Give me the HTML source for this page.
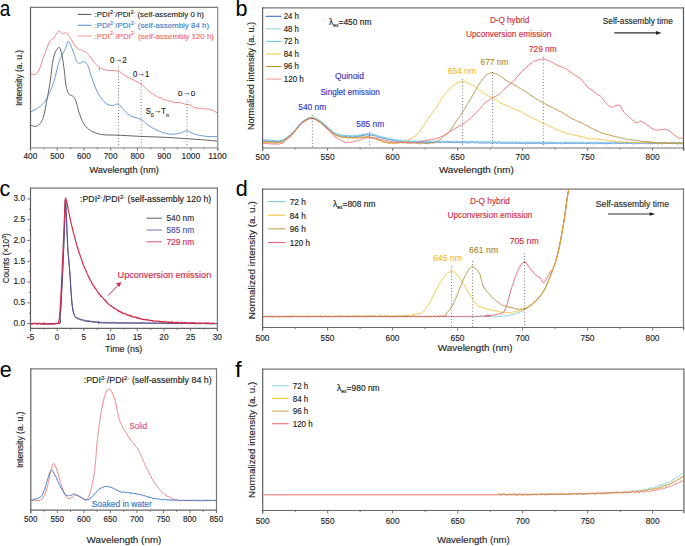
<!DOCTYPE html>
<html><head><meta charset="utf-8"><style>
html,body{margin:0;padding:0;background:#fff;}
svg{display:block;font-family:"Liberation Sans", sans-serif;}
</style></head><body>
<svg width="685" height="546" viewBox="0 0 685 546">
<rect x="0" y="0" width="685" height="546" fill="#fff"/>
<text transform="translate(-0.3 15.9) scale(0.88 1)" font-size="21.5" fill="#000">a</text>
<text x="235.60" y="15.60" font-size="21.5" fill="#000" text-anchor="start">b</text>
<text x="-0.40" y="196.20" font-size="21.5" fill="#000" text-anchor="start">c</text>
<text x="235.80" y="196.00" font-size="21.5" fill="#000" text-anchor="start">d</text>
<text x="-0.20" y="377.00" font-size="21.5" fill="#000" text-anchor="start">e</text>
<text transform="translate(234.9 376.6) scale(1.12 1)" font-size="21.5" fill="#000">f</text>
<line x1="30.50" y1="147.80" x2="217.70" y2="147.80" stroke="#b8b8b8" stroke-width="1.8"/>
<line x1="30.50" y1="7.45" x2="217.70" y2="7.45" stroke="#777" stroke-width="1.25"/>
<line x1="217.70" y1="6.85" x2="217.70" y2="150.50" stroke="#8a8a8a" stroke-width="1.2"/>
<line x1="30.50" y1="6.85" x2="30.50" y2="150.70" stroke="#5e5e5e" stroke-width="1.2"/>
<line x1="30.50" y1="147.70" x2="30.50" y2="150.70" stroke="#6a6a6a" stroke-width="0.9"/>
<text transform="translate(23.50 159.00) scale(0.9555 1) translate(0.00 0)" font-size="8.696" fill="#262626" stroke="#262626" stroke-width="0.15">400</text>
<line x1="57.24" y1="147.70" x2="57.24" y2="150.70" stroke="#6a6a6a" stroke-width="0.9"/>
<text transform="translate(50.24 159.00) scale(0.9555 1) translate(0.00 0)" font-size="8.696" fill="#262626" stroke="#262626" stroke-width="0.15">500</text>
<line x1="83.99" y1="147.70" x2="83.99" y2="150.70" stroke="#6a6a6a" stroke-width="0.9"/>
<text transform="translate(76.98 159.00) scale(0.9555 1) translate(0.00 0)" font-size="8.696" fill="#262626" stroke="#262626" stroke-width="0.15">600</text>
<line x1="110.73" y1="147.70" x2="110.73" y2="150.70" stroke="#6a6a6a" stroke-width="0.9"/>
<text transform="translate(103.72 159.00) scale(0.9555 1) translate(0.00 0)" font-size="8.696" fill="#262626" stroke="#262626" stroke-width="0.15">700</text>
<line x1="137.47" y1="147.70" x2="137.47" y2="150.70" stroke="#6a6a6a" stroke-width="0.9"/>
<text transform="translate(130.47 159.00) scale(0.9555 1) translate(0.00 0)" font-size="8.696" fill="#262626" stroke="#262626" stroke-width="0.15">800</text>
<line x1="164.21" y1="147.70" x2="164.21" y2="150.70" stroke="#6a6a6a" stroke-width="0.9"/>
<text transform="translate(157.21 159.00) scale(0.9555 1) translate(0.00 0)" font-size="8.696" fill="#262626" stroke="#262626" stroke-width="0.15">900</text>
<line x1="190.96" y1="147.70" x2="190.96" y2="150.70" stroke="#6a6a6a" stroke-width="0.9"/>
<text transform="translate(181.62 159.00) scale(0.9582 1) translate(0.00 0)" font-size="8.696" fill="#262626" stroke="#262626" stroke-width="0.15">1000</text>
<line x1="217.70" y1="147.70" x2="217.70" y2="150.70" stroke="#6a6a6a" stroke-width="0.9"/>
<text transform="translate(208.36 159.00) scale(0.9910 1) translate(0.00 0)" font-size="8.696" fill="#262626" stroke="#262626" stroke-width="0.15">1100</text>
<line x1="43.87" y1="147.70" x2="43.87" y2="149.30" stroke="#6a6a6a" stroke-width="0.9"/>
<line x1="70.61" y1="147.70" x2="70.61" y2="149.30" stroke="#6a6a6a" stroke-width="0.9"/>
<line x1="97.36" y1="147.70" x2="97.36" y2="149.30" stroke="#6a6a6a" stroke-width="0.9"/>
<line x1="124.10" y1="147.70" x2="124.10" y2="149.30" stroke="#6a6a6a" stroke-width="0.9"/>
<line x1="150.84" y1="147.70" x2="150.84" y2="149.30" stroke="#6a6a6a" stroke-width="0.9"/>
<line x1="177.59" y1="147.70" x2="177.59" y2="149.30" stroke="#6a6a6a" stroke-width="0.9"/>
<line x1="204.33" y1="147.70" x2="204.33" y2="149.30" stroke="#6a6a6a" stroke-width="0.9"/>
<text transform="translate(89.40 173.40) scale(1.0753 1) translate(0.00 0)" font-size="8.551" fill="#262626" stroke="#262626" stroke-width="0.15">Wavelength (nm)</text>
<text transform="translate(22.20 106.00) rotate(-90) scale(0.9950 1) translate(0.00 0)" font-size="8.551" fill="#262626" stroke="#262626" stroke-width="0.15">Intensity (a. u.)</text>
<line x1="262.60" y1="148.00" x2="683.50" y2="148.00" stroke="#b8b8b8" stroke-width="1.8"/>
<line x1="262.60" y1="7.90" x2="683.50" y2="7.90" stroke="#777" stroke-width="1.25"/>
<line x1="683.50" y1="7.30" x2="683.50" y2="150.70" stroke="#555" stroke-width="1.2"/>
<line x1="262.60" y1="7.30" x2="262.60" y2="150.90" stroke="#5e5e5e" stroke-width="1.2"/>
<line x1="262.60" y1="147.90" x2="262.60" y2="150.90" stroke="#6a6a6a" stroke-width="0.9"/>
<text transform="translate(255.60 159.90) scale(0.9454 1) translate(0.00 0)" font-size="8.841" fill="#262626" stroke="#262626" stroke-width="0.15">500</text>
<line x1="327.60" y1="147.90" x2="327.60" y2="150.90" stroke="#6a6a6a" stroke-width="0.9"/>
<text transform="translate(320.60 159.90) scale(0.9454 1) translate(0.00 0)" font-size="8.841" fill="#262626" stroke="#262626" stroke-width="0.15">550</text>
<line x1="392.60" y1="147.90" x2="392.60" y2="150.90" stroke="#6a6a6a" stroke-width="0.9"/>
<text transform="translate(385.60 159.90) scale(0.9454 1) translate(0.00 0)" font-size="8.841" fill="#262626" stroke="#262626" stroke-width="0.15">600</text>
<line x1="457.60" y1="147.90" x2="457.60" y2="150.90" stroke="#6a6a6a" stroke-width="0.9"/>
<text transform="translate(450.60 159.90) scale(0.9454 1) translate(0.00 0)" font-size="8.841" fill="#262626" stroke="#262626" stroke-width="0.15">650</text>
<line x1="522.60" y1="147.90" x2="522.60" y2="150.90" stroke="#6a6a6a" stroke-width="0.9"/>
<text transform="translate(515.60 159.90) scale(0.9454 1) translate(0.00 0)" font-size="8.841" fill="#262626" stroke="#262626" stroke-width="0.15">700</text>
<line x1="587.60" y1="147.90" x2="587.60" y2="150.90" stroke="#6a6a6a" stroke-width="0.9"/>
<text transform="translate(580.60 159.90) scale(0.9454 1) translate(0.00 0)" font-size="8.841" fill="#262626" stroke="#262626" stroke-width="0.15">750</text>
<line x1="652.60" y1="147.90" x2="652.60" y2="150.90" stroke="#6a6a6a" stroke-width="0.9"/>
<text transform="translate(645.60 159.90) scale(0.9454 1) translate(0.00 0)" font-size="8.841" fill="#262626" stroke="#262626" stroke-width="0.15">800</text>
<line x1="295.10" y1="147.90" x2="295.10" y2="149.50" stroke="#6a6a6a" stroke-width="0.9"/>
<line x1="360.10" y1="147.90" x2="360.10" y2="149.50" stroke="#6a6a6a" stroke-width="0.9"/>
<line x1="425.10" y1="147.90" x2="425.10" y2="149.50" stroke="#6a6a6a" stroke-width="0.9"/>
<line x1="490.10" y1="147.90" x2="490.10" y2="149.50" stroke="#6a6a6a" stroke-width="0.9"/>
<line x1="555.10" y1="147.90" x2="555.10" y2="149.50" stroke="#6a6a6a" stroke-width="0.9"/>
<line x1="620.10" y1="147.90" x2="620.10" y2="149.50" stroke="#6a6a6a" stroke-width="0.9"/>
<line x1="685.10" y1="147.90" x2="685.10" y2="149.50" stroke="#6a6a6a" stroke-width="0.9"/>
<text transform="translate(438.90 173.40) scale(1.0833 1) translate(0.00 0)" font-size="9.130" fill="#262626" stroke="#262626" stroke-width="0.15">Wavelength (nm)</text>
<text transform="translate(253.60 130.10) rotate(-90) scale(1.0481 1) translate(0.00 0)" font-size="8.696" fill="#262626" stroke="#262626" stroke-width="0.15">Normalized intensity (a. u.)</text>
<line x1="30.50" y1="328.30" x2="217.40" y2="328.30" stroke="#666" stroke-width="1.2"/>
<line x1="30.50" y1="188.20" x2="217.40" y2="188.20" stroke="#777" stroke-width="1.25"/>
<line x1="217.40" y1="187.60" x2="217.40" y2="331.10" stroke="#777" stroke-width="1.2"/>
<line x1="30.50" y1="187.60" x2="30.50" y2="331.30" stroke="#5e5e5e" stroke-width="1.2"/>
<line x1="30.50" y1="328.30" x2="30.50" y2="331.30" stroke="#6a6a6a" stroke-width="0.9"/>
<text transform="translate(26.66 339.80) scale(0.9660 1) translate(0.00 0)" font-size="8.841" fill="#262626" stroke="#262626" stroke-width="0.15">-5</text>
<line x1="57.20" y1="328.30" x2="57.20" y2="331.30" stroke="#6a6a6a" stroke-width="0.9"/>
<text transform="translate(54.87 339.80) scale(0.9340 1) translate(0.00 0)" font-size="8.841" fill="#262626" stroke="#262626" stroke-width="0.15">0</text>
<line x1="83.90" y1="328.30" x2="83.90" y2="331.30" stroke="#6a6a6a" stroke-width="0.9"/>
<text transform="translate(81.57 339.80) scale(0.9340 1) translate(0.00 0)" font-size="8.841" fill="#262626" stroke="#262626" stroke-width="0.15">5</text>
<line x1="110.60" y1="328.30" x2="110.60" y2="331.30" stroke="#6a6a6a" stroke-width="0.9"/>
<text transform="translate(105.93 339.80) scale(0.9425 1) translate(0.00 0)" font-size="8.841" fill="#262626" stroke="#262626" stroke-width="0.15">10</text>
<line x1="137.30" y1="328.30" x2="137.30" y2="331.30" stroke="#6a6a6a" stroke-width="0.9"/>
<text transform="translate(132.63 339.80) scale(0.9425 1) translate(0.00 0)" font-size="8.841" fill="#262626" stroke="#262626" stroke-width="0.15">15</text>
<line x1="164.00" y1="328.30" x2="164.00" y2="331.30" stroke="#6a6a6a" stroke-width="0.9"/>
<text transform="translate(159.33 339.80) scale(0.9425 1) translate(0.00 0)" font-size="8.841" fill="#262626" stroke="#262626" stroke-width="0.15">20</text>
<line x1="190.70" y1="328.30" x2="190.70" y2="331.30" stroke="#6a6a6a" stroke-width="0.9"/>
<text transform="translate(186.03 339.80) scale(0.9425 1) translate(0.00 0)" font-size="8.841" fill="#262626" stroke="#262626" stroke-width="0.15">25</text>
<line x1="217.40" y1="328.30" x2="217.40" y2="331.30" stroke="#6a6a6a" stroke-width="0.9"/>
<text transform="translate(212.73 339.80) scale(0.9425 1) translate(0.00 0)" font-size="8.841" fill="#262626" stroke="#262626" stroke-width="0.15">30</text>
<line x1="43.85" y1="328.30" x2="43.85" y2="329.90" stroke="#6a6a6a" stroke-width="0.9"/>
<line x1="70.55" y1="328.30" x2="70.55" y2="329.90" stroke="#6a6a6a" stroke-width="0.9"/>
<line x1="97.25" y1="328.30" x2="97.25" y2="329.90" stroke="#6a6a6a" stroke-width="0.9"/>
<line x1="123.95" y1="328.30" x2="123.95" y2="329.90" stroke="#6a6a6a" stroke-width="0.9"/>
<line x1="150.65" y1="328.30" x2="150.65" y2="329.90" stroke="#6a6a6a" stroke-width="0.9"/>
<line x1="177.35" y1="328.30" x2="177.35" y2="329.90" stroke="#6a6a6a" stroke-width="0.9"/>
<line x1="204.05" y1="328.30" x2="204.05" y2="329.90" stroke="#6a6a6a" stroke-width="0.9"/>
<line x1="27.20" y1="323.60" x2="30.50" y2="323.60" stroke="#666" stroke-width="0.9"/>
<text transform="translate(13.50 325.90) scale(0.9730 1) translate(0.00 0)" font-size="8.551" fill="#262626" stroke="#262626" stroke-width="0.15">0.0</text>
<line x1="29.00" y1="313.21" x2="30.50" y2="313.21" stroke="#666" stroke-width="0.9"/>
<line x1="27.20" y1="302.82" x2="30.50" y2="302.82" stroke="#666" stroke-width="0.9"/>
<text transform="translate(13.50 305.12) scale(0.9730 1) translate(0.00 0)" font-size="8.551" fill="#262626" stroke="#262626" stroke-width="0.15">0.5</text>
<line x1="29.00" y1="292.43" x2="30.50" y2="292.43" stroke="#666" stroke-width="0.9"/>
<line x1="27.20" y1="282.03" x2="30.50" y2="282.03" stroke="#666" stroke-width="0.9"/>
<text transform="translate(13.50 284.33) scale(0.9730 1) translate(0.00 0)" font-size="8.551" fill="#262626" stroke="#262626" stroke-width="0.15">1.0</text>
<line x1="29.00" y1="271.64" x2="30.50" y2="271.64" stroke="#666" stroke-width="0.9"/>
<line x1="27.20" y1="261.25" x2="30.50" y2="261.25" stroke="#666" stroke-width="0.9"/>
<text transform="translate(13.50 263.55) scale(0.9730 1) translate(0.00 0)" font-size="8.551" fill="#262626" stroke="#262626" stroke-width="0.15">1.5</text>
<line x1="29.00" y1="250.86" x2="30.50" y2="250.86" stroke="#666" stroke-width="0.9"/>
<line x1="27.20" y1="240.47" x2="30.50" y2="240.47" stroke="#666" stroke-width="0.9"/>
<text transform="translate(13.50 242.77) scale(0.9730 1) translate(0.00 0)" font-size="8.551" fill="#262626" stroke="#262626" stroke-width="0.15">2.0</text>
<line x1="29.00" y1="230.07" x2="30.50" y2="230.07" stroke="#666" stroke-width="0.9"/>
<line x1="27.20" y1="219.68" x2="30.50" y2="219.68" stroke="#666" stroke-width="0.9"/>
<text transform="translate(13.50 221.98) scale(0.9730 1) translate(0.00 0)" font-size="8.551" fill="#262626" stroke="#262626" stroke-width="0.15">2.5</text>
<line x1="29.00" y1="209.29" x2="30.50" y2="209.29" stroke="#666" stroke-width="0.9"/>
<line x1="27.20" y1="198.90" x2="30.50" y2="198.90" stroke="#666" stroke-width="0.9"/>
<text transform="translate(13.50 201.20) scale(0.9730 1) translate(0.00 0)" font-size="8.551" fill="#262626" stroke="#262626" stroke-width="0.15">3.0</text>
<text transform="translate(105.10 351.70) scale(0.9907 1) translate(0.00 0)" font-size="8.986" fill="#262626" stroke="#262626" stroke-width="0.15">Time (ns)</text>
<text transform="translate(9.00 283.30) rotate(-90) scale(0.9507 1) translate(0.00 0)" font-size="8.551" fill="#262626" stroke="#262626" stroke-width="0.15">Counts (×10<tspan font-size="65%" dy="-3">3</tspan><tspan dy="3">)</tspan></text>
<line x1="262.60" y1="327.50" x2="683.50" y2="327.50" stroke="#666" stroke-width="1.2"/>
<line x1="262.60" y1="189.10" x2="683.50" y2="189.10" stroke="#777" stroke-width="1.25"/>
<line x1="683.50" y1="188.50" x2="683.50" y2="330.30" stroke="#777" stroke-width="1.2"/>
<line x1="262.60" y1="188.50" x2="262.60" y2="330.50" stroke="#5e5e5e" stroke-width="1.2"/>
<line x1="262.60" y1="327.50" x2="262.60" y2="330.50" stroke="#6a6a6a" stroke-width="0.9"/>
<text transform="translate(255.60 341.20) scale(0.9555 1) translate(0.00 0)" font-size="8.696" fill="#262626" stroke="#262626" stroke-width="0.15">500</text>
<line x1="327.60" y1="327.50" x2="327.60" y2="330.50" stroke="#6a6a6a" stroke-width="0.9"/>
<text transform="translate(320.60 341.20) scale(0.9555 1) translate(0.00 0)" font-size="8.696" fill="#262626" stroke="#262626" stroke-width="0.15">550</text>
<line x1="392.60" y1="327.50" x2="392.60" y2="330.50" stroke="#6a6a6a" stroke-width="0.9"/>
<text transform="translate(385.60 341.20) scale(0.9555 1) translate(0.00 0)" font-size="8.696" fill="#262626" stroke="#262626" stroke-width="0.15">600</text>
<line x1="457.60" y1="327.50" x2="457.60" y2="330.50" stroke="#6a6a6a" stroke-width="0.9"/>
<text transform="translate(450.60 341.20) scale(0.9555 1) translate(0.00 0)" font-size="8.696" fill="#262626" stroke="#262626" stroke-width="0.15">650</text>
<line x1="522.60" y1="327.50" x2="522.60" y2="330.50" stroke="#6a6a6a" stroke-width="0.9"/>
<text transform="translate(515.60 341.20) scale(0.9555 1) translate(0.00 0)" font-size="8.696" fill="#262626" stroke="#262626" stroke-width="0.15">700</text>
<line x1="587.60" y1="327.50" x2="587.60" y2="330.50" stroke="#6a6a6a" stroke-width="0.9"/>
<text transform="translate(580.60 341.20) scale(0.9555 1) translate(0.00 0)" font-size="8.696" fill="#262626" stroke="#262626" stroke-width="0.15">750</text>
<line x1="652.60" y1="327.50" x2="652.60" y2="330.50" stroke="#6a6a6a" stroke-width="0.9"/>
<text transform="translate(645.60 341.20) scale(0.9555 1) translate(0.00 0)" font-size="8.696" fill="#262626" stroke="#262626" stroke-width="0.15">800</text>
<line x1="295.10" y1="327.50" x2="295.10" y2="329.10" stroke="#6a6a6a" stroke-width="0.9"/>
<line x1="360.10" y1="327.50" x2="360.10" y2="329.10" stroke="#6a6a6a" stroke-width="0.9"/>
<line x1="425.10" y1="327.50" x2="425.10" y2="329.10" stroke="#6a6a6a" stroke-width="0.9"/>
<line x1="490.10" y1="327.50" x2="490.10" y2="329.10" stroke="#6a6a6a" stroke-width="0.9"/>
<line x1="555.10" y1="327.50" x2="555.10" y2="329.10" stroke="#6a6a6a" stroke-width="0.9"/>
<line x1="620.10" y1="327.50" x2="620.10" y2="329.10" stroke="#6a6a6a" stroke-width="0.9"/>
<line x1="685.10" y1="327.50" x2="685.10" y2="329.10" stroke="#6a6a6a" stroke-width="0.9"/>
<text transform="translate(437.80 350.60) scale(1.0494 1) translate(0.00 0)" font-size="9.420" fill="#262626" stroke="#262626" stroke-width="0.15">Wavelength (nm)</text>
<text transform="translate(255.00 319.20) rotate(-90) scale(1.0375 1) translate(0.00 0)" font-size="9.565" fill="#262626" stroke="#262626" stroke-width="0.15">Normalized intensity (a. u.)</text>
<line x1="30.80" y1="510.20" x2="216.50" y2="510.20" stroke="#666" stroke-width="1.2"/>
<line x1="30.80" y1="368.80" x2="216.50" y2="368.80" stroke="#777" stroke-width="1.25"/>
<line x1="216.50" y1="368.20" x2="216.50" y2="513.00" stroke="#777" stroke-width="1.2"/>
<line x1="30.80" y1="368.20" x2="30.80" y2="513.20" stroke="#5e5e5e" stroke-width="1.2"/>
<line x1="30.80" y1="510.20" x2="30.80" y2="513.20" stroke="#6a6a6a" stroke-width="0.9"/>
<text transform="translate(23.90 521.90) scale(0.9513 1) translate(0.00 0)" font-size="8.551" fill="#262626" stroke="#262626" stroke-width="0.15">500</text>
<line x1="57.33" y1="510.20" x2="57.33" y2="513.20" stroke="#6a6a6a" stroke-width="0.9"/>
<text transform="translate(50.43 521.90) scale(0.9513 1) translate(0.00 0)" font-size="8.551" fill="#262626" stroke="#262626" stroke-width="0.15">550</text>
<line x1="83.86" y1="510.20" x2="83.86" y2="513.20" stroke="#6a6a6a" stroke-width="0.9"/>
<text transform="translate(76.96 521.90) scale(0.9513 1) translate(0.00 0)" font-size="8.551" fill="#262626" stroke="#262626" stroke-width="0.15">600</text>
<line x1="110.39" y1="510.20" x2="110.39" y2="513.20" stroke="#6a6a6a" stroke-width="0.9"/>
<text transform="translate(103.49 521.90) scale(0.9513 1) translate(0.00 0)" font-size="8.551" fill="#262626" stroke="#262626" stroke-width="0.15">650</text>
<line x1="136.91" y1="510.20" x2="136.91" y2="513.20" stroke="#6a6a6a" stroke-width="0.9"/>
<text transform="translate(130.01 521.90) scale(0.9513 1) translate(0.00 0)" font-size="8.551" fill="#262626" stroke="#262626" stroke-width="0.15">700</text>
<line x1="163.44" y1="510.20" x2="163.44" y2="513.20" stroke="#6a6a6a" stroke-width="0.9"/>
<text transform="translate(156.54 521.90) scale(0.9513 1) translate(0.00 0)" font-size="8.551" fill="#262626" stroke="#262626" stroke-width="0.15">750</text>
<line x1="189.97" y1="510.20" x2="189.97" y2="513.20" stroke="#6a6a6a" stroke-width="0.9"/>
<text transform="translate(183.07 521.90) scale(0.9513 1) translate(0.00 0)" font-size="8.551" fill="#262626" stroke="#262626" stroke-width="0.15">800</text>
<line x1="216.50" y1="510.20" x2="216.50" y2="513.20" stroke="#6a6a6a" stroke-width="0.9"/>
<text transform="translate(209.60 521.90) scale(0.9513 1) translate(0.00 0)" font-size="8.551" fill="#262626" stroke="#262626" stroke-width="0.15">850</text>
<line x1="44.06" y1="510.20" x2="44.06" y2="511.80" stroke="#6a6a6a" stroke-width="0.9"/>
<line x1="70.59" y1="510.20" x2="70.59" y2="511.80" stroke="#6a6a6a" stroke-width="0.9"/>
<line x1="97.12" y1="510.20" x2="97.12" y2="511.80" stroke="#6a6a6a" stroke-width="0.9"/>
<line x1="123.65" y1="510.20" x2="123.65" y2="511.80" stroke="#6a6a6a" stroke-width="0.9"/>
<line x1="150.18" y1="510.20" x2="150.18" y2="511.80" stroke="#6a6a6a" stroke-width="0.9"/>
<line x1="176.71" y1="510.20" x2="176.71" y2="511.80" stroke="#6a6a6a" stroke-width="0.9"/>
<line x1="203.24" y1="510.20" x2="203.24" y2="511.80" stroke="#6a6a6a" stroke-width="0.9"/>
<text transform="translate(86.60 542.60) scale(1.0833 1) translate(0.00 0)" font-size="9.130" fill="#262626" stroke="#262626" stroke-width="0.15">Wavelength (nm)</text>
<text transform="translate(23.00 468.00) rotate(-90) scale(0.9633 1) translate(0.00 0)" font-size="8.841" fill="#262626" stroke="#262626" stroke-width="0.15">Intensity (a. u.)</text>
<line x1="262.70" y1="510.50" x2="683.90" y2="510.50" stroke="#666" stroke-width="1.2"/>
<line x1="262.70" y1="369.20" x2="683.90" y2="369.20" stroke="#777" stroke-width="1.25"/>
<line x1="683.90" y1="368.60" x2="683.90" y2="513.30" stroke="#888" stroke-width="1.6"/>
<line x1="262.70" y1="368.60" x2="262.70" y2="513.50" stroke="#5e5e5e" stroke-width="1.2"/>
<line x1="262.70" y1="510.50" x2="262.70" y2="513.50" stroke="#6a6a6a" stroke-width="0.9"/>
<text transform="translate(255.69 524.40) scale(0.9555 1) translate(0.00 0)" font-size="8.696" fill="#262626" stroke="#262626" stroke-width="0.15">500</text>
<line x1="327.70" y1="510.50" x2="327.70" y2="513.50" stroke="#6a6a6a" stroke-width="0.9"/>
<text transform="translate(320.69 524.40) scale(0.9555 1) translate(0.00 0)" font-size="8.696" fill="#262626" stroke="#262626" stroke-width="0.15">550</text>
<line x1="392.70" y1="510.50" x2="392.70" y2="513.50" stroke="#6a6a6a" stroke-width="0.9"/>
<text transform="translate(385.69 524.40) scale(0.9555 1) translate(0.00 0)" font-size="8.696" fill="#262626" stroke="#262626" stroke-width="0.15">600</text>
<line x1="457.70" y1="510.50" x2="457.70" y2="513.50" stroke="#6a6a6a" stroke-width="0.9"/>
<text transform="translate(450.69 524.40) scale(0.9555 1) translate(0.00 0)" font-size="8.696" fill="#262626" stroke="#262626" stroke-width="0.15">650</text>
<line x1="522.70" y1="510.50" x2="522.70" y2="513.50" stroke="#6a6a6a" stroke-width="0.9"/>
<text transform="translate(515.70 524.40) scale(0.9555 1) translate(0.00 0)" font-size="8.696" fill="#262626" stroke="#262626" stroke-width="0.15">700</text>
<line x1="587.70" y1="510.50" x2="587.70" y2="513.50" stroke="#6a6a6a" stroke-width="0.9"/>
<text transform="translate(580.70 524.40) scale(0.9555 1) translate(0.00 0)" font-size="8.696" fill="#262626" stroke="#262626" stroke-width="0.15">750</text>
<line x1="652.70" y1="510.50" x2="652.70" y2="513.50" stroke="#6a6a6a" stroke-width="0.9"/>
<text transform="translate(645.70 524.40) scale(0.9555 1) translate(0.00 0)" font-size="8.696" fill="#262626" stroke="#262626" stroke-width="0.15">800</text>
<line x1="295.20" y1="510.50" x2="295.20" y2="512.10" stroke="#6a6a6a" stroke-width="0.9"/>
<line x1="360.20" y1="510.50" x2="360.20" y2="512.10" stroke="#6a6a6a" stroke-width="0.9"/>
<line x1="425.20" y1="510.50" x2="425.20" y2="512.10" stroke="#6a6a6a" stroke-width="0.9"/>
<line x1="490.20" y1="510.50" x2="490.20" y2="512.10" stroke="#6a6a6a" stroke-width="0.9"/>
<line x1="555.20" y1="510.50" x2="555.20" y2="512.10" stroke="#6a6a6a" stroke-width="0.9"/>
<line x1="620.20" y1="510.50" x2="620.20" y2="512.10" stroke="#6a6a6a" stroke-width="0.9"/>
<line x1="685.20" y1="510.50" x2="685.20" y2="512.10" stroke="#6a6a6a" stroke-width="0.9"/>
<text transform="translate(437.00 543.00) scale(1.0356 1) translate(0.00 0)" font-size="9.275" fill="#262626" stroke="#262626" stroke-width="0.15">Wavelength (nm)</text>
<text transform="translate(255.00 497.90) rotate(-90) scale(1.0216 1) translate(0.00 0)" font-size="9.565" fill="#262626" stroke="#262626" stroke-width="0.15">Normalized intensity (a. u.)</text>
<path d="M30.60 125.10 L30.95 125.22 L31.41 125.42 L31.96 125.65 L32.58 125.89 L33.22 126.11 L33.88 126.29 L34.51 126.40 L35.10 126.40 L35.66 126.33 L36.22 126.21 L36.78 126.04 L37.34 125.82 L37.89 125.53 L38.44 125.17 L38.97 124.73 L39.50 124.20 L40.02 123.59 L40.54 122.90 L41.06 122.13 L41.57 121.29 L42.06 120.37 L42.54 119.39 L42.98 118.33 L43.40 117.20 L43.78 115.99 L44.12 114.68 L44.44 113.30 L44.73 111.84 L45.02 110.34 L45.30 108.78 L45.59 107.20 L45.90 105.60 L46.22 103.94 L46.56 102.19 L46.90 100.38 L47.24 98.54 L47.57 96.71 L47.90 94.90 L48.21 93.16 L48.50 91.50 L48.77 89.98 L49.01 88.60 L49.25 87.29 L49.47 86.01 L49.69 84.69 L49.91 83.29 L50.15 81.74 L50.40 80.00 L50.66 77.99 L50.94 75.73 L51.21 73.30 L51.49 70.80 L51.78 68.31 L52.08 65.92 L52.39 63.72 L52.70 61.80 L53.02 60.13 L53.34 58.61 L53.67 57.24 L54.01 55.99 L54.35 54.84 L54.72 53.79 L55.10 52.82 L55.50 51.90 L55.93 51.00 L56.41 50.13 L56.90 49.32 L57.41 48.60 L57.91 48.02 L58.40 47.62 L58.87 47.43 L59.30 47.50 L59.69 47.82 L60.06 48.36 L60.40 49.10 L60.73 50.03 L61.05 51.11 L61.36 52.35 L61.68 53.72 L62.00 55.20 L62.33 56.92 L62.68 58.97 L63.03 61.22 L63.37 63.58 L63.70 65.94 L64.01 68.21 L64.28 70.26 L64.50 72.00 L64.67 73.42 L64.79 74.63 L64.87 75.66 L64.93 76.57 L64.97 77.41 L65.03 78.23 L65.10 79.07 L65.20 80.00 L65.33 80.99 L65.45 81.98 L65.59 82.97 L65.74 83.95 L65.90 84.92 L66.08 85.87 L66.28 86.80 L66.50 87.70 L66.74 88.59 L66.99 89.48 L67.26 90.36 L67.55 91.22 L67.86 92.04 L68.21 92.80 L68.58 93.49 L69.00 94.10 L69.48 94.59 L70.03 94.96 L70.62 95.24 L71.24 95.48 L71.86 95.71 L72.46 95.96 L73.01 96.28 L73.50 96.70 L73.91 97.17 L74.27 97.65 L74.59 98.15 L74.88 98.69 L75.16 99.31 L75.45 100.02 L75.76 100.84 L76.10 101.80 L76.47 102.95 L76.84 104.28 L77.23 105.75 L77.62 107.31 L78.03 108.89 L78.44 110.45 L78.87 111.94 L79.30 113.30 L79.74 114.56 L80.18 115.79 L80.63 116.97 L81.09 118.12 L81.57 119.23 L82.06 120.29 L82.57 121.32 L83.10 122.30 L83.64 123.24 L84.17 124.13 L84.72 124.98 L85.28 125.79 L85.88 126.56 L86.52 127.30 L87.23 128.01 L88.00 128.70 L88.86 129.36 L89.80 130.00 L90.81 130.62 L91.86 131.19 L92.93 131.74 L94.01 132.24 L95.07 132.69 L96.10 133.10 L97.06 133.45 L97.96 133.75 L98.84 133.99 L99.72 134.20 L100.66 134.38 L101.67 134.53 L102.81 134.67 L104.10 134.80 L105.51 134.91 L106.98 134.97 L108.54 135.01 L110.20 135.03 L111.98 135.05 L113.89 135.07 L115.96 135.12 L118.20 135.20 L120.65 135.31 L123.32 135.45 L126.15 135.60 L129.11 135.76 L132.16 135.93 L135.25 136.10 L138.35 136.25 L141.40 136.40 L144.48 136.53 L147.67 136.66 L150.91 136.78 L154.17 136.89 L157.40 137.01 L160.56 137.13 L163.61 137.26 L166.50 137.40 L169.23 137.55 L171.84 137.71 L174.35 137.87 L176.78 138.04 L179.16 138.21 L181.51 138.38 L183.85 138.54 L186.20 138.70 L188.58 138.85 L190.98 139.01 L193.37 139.16 L195.73 139.31 L198.04 139.45 L200.26 139.60 L202.39 139.75 L204.40 139.90 L206.35 140.06 L208.28 140.23 L210.16 140.40 L211.94 140.58 L213.57 140.74 L215.03 140.88 L216.25 141.01 L217.20 141.10" fill="none" stroke="#3a3a3a" stroke-width="0.8" stroke-linejoin="round"/>
<path d="M30.60 112.00 L31.20 111.67 L32.01 111.24 L32.98 110.73 L34.05 110.16 L35.17 109.55 L36.29 108.90 L37.35 108.25 L38.30 107.60 L39.17 106.97 L40.02 106.34 L40.85 105.69 L41.66 105.02 L42.45 104.31 L43.22 103.55 L43.97 102.72 L44.70 101.80 L45.40 100.80 L46.08 99.73 L46.73 98.59 L47.36 97.40 L47.98 96.16 L48.59 94.87 L49.20 93.55 L49.80 92.20 L50.41 90.81 L51.02 89.37 L51.62 87.89 L52.21 86.36 L52.79 84.81 L53.35 83.22 L53.89 81.62 L54.40 80.00 L54.87 78.32 L55.32 76.55 L55.73 74.72 L56.13 72.89 L56.52 71.08 L56.91 69.34 L57.30 67.70 L57.70 66.20 L58.10 64.86 L58.50 63.65 L58.89 62.53 L59.28 61.49 L59.68 60.48 L60.10 59.48 L60.53 58.47 L61.00 57.40 L61.51 56.29 L62.06 55.16 L62.63 54.03 L63.22 52.90 L63.80 51.78 L64.37 50.69 L64.91 49.62 L65.40 48.60 L65.84 47.53 L66.23 46.35 L66.60 45.15 L66.95 44.00 L67.29 42.98 L67.64 42.15 L68.01 41.60 L68.40 41.40 L68.82 41.58 L69.24 42.07 L69.67 42.83 L70.11 43.79 L70.57 44.91 L71.03 46.12 L71.51 47.37 L72.00 48.60 L72.52 49.94 L73.07 51.50 L73.64 53.19 L74.23 54.93 L74.80 56.64 L75.37 58.22 L75.90 59.60 L76.40 60.70 L76.85 61.52 L77.26 62.14 L77.64 62.60 L78.00 62.93 L78.36 63.14 L78.74 63.27 L79.15 63.35 L79.60 63.40 L80.10 63.34 L80.62 63.09 L81.18 62.73 L81.75 62.32 L82.33 61.93 L82.90 61.62 L83.46 61.45 L84.00 61.50 L84.52 61.72 L85.03 62.04 L85.53 62.45 L86.03 62.98 L86.52 63.61 L87.01 64.35 L87.50 65.21 L88.00 66.20 L88.49 67.34 L88.95 68.63 L89.41 70.06 L89.87 71.60 L90.35 73.22 L90.85 74.89 L91.40 76.59 L92.00 78.30 L92.65 80.08 L93.33 81.98 L94.05 83.96 L94.80 85.97 L95.58 87.97 L96.39 89.91 L97.23 91.73 L98.10 93.40 L99.02 94.96 L99.99 96.47 L101.00 97.91 L102.04 99.27 L103.08 100.53 L104.12 101.66 L105.13 102.66 L106.10 103.50 L107.04 104.16 L107.99 104.65 L108.92 104.99 L109.84 105.22 L110.73 105.35 L111.59 105.43 L112.42 105.47 L113.20 105.50 L113.92 105.44 L114.60 105.23 L115.22 104.92 L115.83 104.58 L116.41 104.27 L116.99 104.04 L117.58 103.97 L118.20 104.10 L118.82 104.45 L119.42 104.98 L120.02 105.64 L120.62 106.39 L121.24 107.20 L121.89 108.03 L122.57 108.84 L123.30 109.60 L124.06 110.34 L124.82 111.11 L125.61 111.90 L126.43 112.69 L127.29 113.47 L128.22 114.23 L129.22 114.94 L130.30 115.60 L131.53 116.19 L132.90 116.71 L134.38 117.20 L135.91 117.66 L137.42 118.11 L138.88 118.57 L140.22 119.06 L141.40 119.60 L142.37 120.18 L143.17 120.77 L143.85 121.39 L144.47 122.02 L145.10 122.67 L145.77 123.33 L146.55 124.01 L147.50 124.70 L148.61 125.43 L149.83 126.22 L151.14 127.04 L152.51 127.86 L153.92 128.67 L155.35 129.45 L156.79 130.16 L158.20 130.80 L159.62 131.37 L161.08 131.92 L162.56 132.42 L164.05 132.88 L165.53 133.29 L167.00 133.63 L168.43 133.90 L169.80 134.10 L171.14 134.21 L172.46 134.23 L173.77 134.17 L175.04 134.06 L176.28 133.90 L177.48 133.72 L178.62 133.51 L179.70 133.30 L180.70 133.03 L181.61 132.66 L182.46 132.23 L183.27 131.79 L184.07 131.39 L184.87 131.06 L185.71 130.85 L186.60 130.80 L187.52 130.94 L188.42 131.24 L189.33 131.66 L190.26 132.16 L191.23 132.69 L192.25 133.22 L193.33 133.70 L194.50 134.10 L195.77 134.44 L197.13 134.77 L198.56 135.09 L200.04 135.39 L201.55 135.66 L203.06 135.91 L204.55 136.12 L206.00 136.30 L207.49 136.43 L209.08 136.52 L210.71 136.56 L212.32 136.59 L213.83 136.59 L215.19 136.59 L216.34 136.59 L217.20 136.60" fill="none" stroke="#3f7fce" stroke-width="0.8" stroke-linejoin="round"/>
<path d="M30.70 73.30 L31.00 73.42 L31.39 73.63 L31.85 73.87 L32.38 74.12 L32.93 74.34 L33.50 74.49 L34.06 74.52 L34.60 74.40 L35.13 74.17 L35.66 73.88 L36.21 73.51 L36.77 73.06 L37.33 72.49 L37.89 71.81 L38.45 70.98 L39.00 70.00 L39.54 68.84 L40.06 67.49 L40.58 66.00 L41.10 64.39 L41.63 62.69 L42.19 60.94 L42.77 59.17 L43.40 57.40 L44.08 55.53 L44.82 53.48 L45.60 51.32 L46.40 49.16 L47.20 47.06 L47.98 45.11 L48.72 43.39 L49.40 42.00 L50.02 40.98 L50.60 40.29 L51.14 39.84 L51.66 39.53 L52.18 39.29 L52.70 39.03 L53.23 38.66 L53.80 38.10 L54.41 37.30 L55.05 36.33 L55.71 35.25 L56.37 34.16 L57.02 33.11 L57.66 32.18 L58.25 31.45 L58.80 31.00 L59.28 30.86 L59.71 30.99 L60.09 31.31 L60.46 31.76 L60.82 32.26 L61.20 32.75 L61.62 33.15 L62.10 33.40 L62.64 33.46 L63.21 33.39 L63.82 33.25 L64.44 33.08 L65.08 32.96 L65.73 32.93 L66.37 33.06 L67.00 33.40 L67.62 33.98 L68.23 34.74 L68.85 35.65 L69.46 36.67 L70.08 37.74 L70.71 38.84 L71.35 39.90 L72.00 40.90 L72.67 41.89 L73.37 42.95 L74.08 44.04 L74.79 45.12 L75.50 46.15 L76.20 47.10 L76.87 47.93 L77.50 48.60 L78.08 49.08 L78.61 49.38 L79.12 49.55 L79.61 49.64 L80.10 49.71 L80.62 49.79 L81.18 49.94 L81.80 50.20 L82.49 50.54 L83.22 50.89 L83.99 51.27 L84.79 51.69 L85.61 52.16 L86.42 52.69 L87.22 53.30 L88.00 54.00 L88.77 54.84 L89.54 55.82 L90.30 56.89 L91.07 58.02 L91.82 59.17 L92.57 60.27 L93.29 61.30 L94.00 62.20 L94.67 62.99 L95.29 63.72 L95.89 64.40 L96.49 65.03 L97.09 65.61 L97.71 66.17 L98.38 66.69 L99.10 67.20 L99.85 67.68 L100.60 68.14 L101.36 68.56 L102.16 68.95 L103.02 69.31 L103.95 69.64 L104.97 69.93 L106.10 70.20 L107.40 70.39 L108.86 70.49 L110.44 70.54 L112.08 70.57 L113.73 70.61 L115.34 70.71 L116.84 70.89 L118.20 71.20 L119.36 71.62 L120.34 72.12 L121.22 72.68 L122.06 73.31 L122.93 73.99 L123.88 74.72 L124.98 75.49 L126.30 76.30 L127.90 77.17 L129.74 78.12 L131.74 79.14 L133.82 80.19 L135.91 81.26 L137.92 82.33 L139.78 83.39 L141.40 84.40 L142.79 85.40 L144.02 86.42 L145.12 87.44 L146.13 88.44 L147.09 89.43 L148.03 90.37 L148.99 91.27 L150.00 92.10 L151.10 92.89 L152.27 93.66 L153.46 94.39 L154.64 95.08 L155.74 95.71 L156.74 96.26 L157.57 96.73 L158.20 97.10" fill="none" stroke="#f26d6d" stroke-width="0.85" stroke-linejoin="round"/>
<path d="M158.20 97.51 L159.06 97.83 L160.17 97.46 L161.49 98.01 L162.97 99.26 L164.59 99.78 L165.44 100.01 L166.29 99.98 L167.17 100.53 L168.04 100.81 L168.92 101.03 L169.80 100.89 L170.73 101.35 L171.66 101.53 L172.69 102.02 L173.71 102.46 L174.80 102.60 L175.88 102.42 L177.00 102.51 L178.11 102.52 L179.21 102.49 L180.32 102.65 L181.38 103.22 L182.44 103.27 L183.44 103.51 L184.43 104.16 L185.31 104.03 L186.20 104.25 L187.76 104.40 L189.17 104.69 L190.46 105.47 L191.66 105.81 L192.79 106.64 L193.89 107.53 L194.98 107.64 L196.10 107.51 L197.21 108.38 L198.29 108.45 L199.33 108.48 L200.36 108.69 L201.37 108.60 L202.37 108.67 L203.38 108.35 L204.40 109.03 L205.45 109.17 L206.54 108.61 L207.64 109.32 L208.73 109.47 L209.79 109.44 L210.81 109.72 L211.75 109.93 L212.60 110.58 L213.38 110.51 L214.11 111.18 L214.79 111.15 L215.41 112.04 L215.97 112.46 L216.46 112.43 L216.87 112.84 L217.20 113.38" fill="none" stroke="#f26d6d" stroke-width="0.85" stroke-linejoin="round"/>
<line x1="99.40" y1="67.40" x2="99.40" y2="70.60" stroke="#f26d6d" stroke-width="0.8"/>
<line x1="118.50" y1="66.50" x2="118.50" y2="147.00" stroke="#444" stroke-width="0.8" stroke-dasharray="0.9 2.2"/>
<line x1="141.20" y1="80.30" x2="141.20" y2="147.00" stroke="#444" stroke-width="0.8" stroke-dasharray="0.9 2.2"/>
<line x1="187.00" y1="100.80" x2="187.00" y2="147.00" stroke="#444" stroke-width="0.8" stroke-dasharray="0.9 2.2"/>
<line x1="77.60" y1="14.40" x2="91.60" y2="14.40" stroke="#3a3a3a" stroke-width="0.9"/>
<line x1="77.60" y1="25.25" x2="91.60" y2="25.25" stroke="#3f7fce" stroke-width="0.9"/>
<line x1="77.60" y1="36.00" x2="91.60" y2="36.00" stroke="#f9a0a0" stroke-width="1.1"/>
<text transform="translate(94.60 16.90) scale(1.0280 1) translate(0.00 0)" font-size="7.681" fill="#2a2a2a" stroke="#2a2a2a" stroke-width="0.15">:PDI<tspan font-size="68%" dy="-3.1">2-</tspan><tspan dy="3.1" dx="0.5">/PDI</tspan><tspan font-size="68%" dy="-3.1">2-</tspan><tspan dy="3.1"> (self-assembly 0 h)</tspan></text>
<text transform="translate(94.60 27.70) scale(1.0335 1) translate(0.00 0)" font-size="7.681" fill="#3f7fce" stroke="#3f7fce" stroke-width="0.15">:PDI<tspan font-size="68%" dy="-3.1">2-</tspan><tspan dy="3.1" dx="0.5">/PDI</tspan><tspan font-size="68%" dy="-3.1">2-</tspan><tspan dy="3.1"> (self-assembly 84 h)</tspan></text>
<text transform="translate(94.60 38.50) scale(1.0378 1) translate(0.00 0)" font-size="7.681" fill="#f26d6d" stroke="#f26d6d" stroke-width="0.15">:PDI<tspan font-size="68%" dy="-3.1">2-</tspan><tspan dy="3.1" dx="0.5">/PDI</tspan><tspan font-size="68%" dy="-3.1">2-</tspan><tspan dy="3.1"> (self-assembly 120 h)</tspan></text>
<text transform="translate(110.00 63.00) scale(0.9120 1) translate(0.00 0)" font-size="8.696" fill="#222" stroke="#222" stroke-width="0.15">0<tspan dy="-1.3" fill="#555">→</tspan><tspan dy="1.3">2</tspan></text>
<text transform="translate(132.90 76.80) scale(0.8958 1) translate(0.00 0)" font-size="8.696" fill="#222" stroke="#222" stroke-width="0.15">0<tspan dy="-1.3" fill="#555">→</tspan><tspan dy="1.3">1</tspan></text>
<text transform="translate(178.10 96.20) scale(0.9929 1) translate(0.00 0)" font-size="8.116" fill="#222" stroke="#222" stroke-width="0.15">0<tspan dy="-1.3" fill="#555">→</tspan><tspan dy="1.3">0</tspan></text>
<text transform="translate(145.70 114.20) scale(0.8729 1) translate(0.00 0)" font-size="8.696" fill="#222" stroke="#222" stroke-width="0.15">S<tspan font-size="70%" dy="2.3">0</tspan><tspan dy="-3.3" fill="#555">→</tspan><tspan dy="1.0">T</tspan><tspan font-size="70%" dy="2.3">n</tspan></text>
<path d="M262.80 141.00 L264.15 141.17 L265.09 141.29 L266.02 141.47 L266.76 141.37 L267.51 141.57 L268.25 140.91 L269.07 141.32 L269.88 141.75 L270.69 141.58 L271.53 141.82 L272.36 141.24 L273.19 141.57 L273.99 141.43 L274.79 141.69 L275.59 141.75 L276.31 141.30 L277.03 141.47 L277.75 141.52 L278.62 141.98 L279.50 141.81 L280.87 141.12 L282.00 141.35 L282.96 140.47 L283.78 140.44 L284.53 139.59 L285.24 138.99 L285.99 139.15 L286.80 138.07 L287.66 137.49 L288.50 137.48 L289.33 136.72 L290.14 135.56 L290.96 135.36 L291.77 134.25 L292.58 133.57 L293.40 132.36 L294.23 132.07 L295.07 130.90 L295.91 130.10 L296.75 129.00 L297.58 127.50 L298.41 126.55 L299.21 125.47 L300.00 124.63 L300.76 123.83 L301.49 123.33 L302.20 122.94 L302.90 121.87 L303.60 121.87 L304.31 121.09 L305.04 120.61 L305.80 120.58 L306.58 119.90 L307.36 119.36 L308.15 119.11 L308.96 118.96 L309.79 118.17 L310.63 118.72 L311.50 117.88 L312.40 118.50 L313.34 118.75 L314.32 118.39 L315.33 119.40 L316.36 119.55 L317.39 120.27 L318.42 120.40 L319.42 121.05 L320.40 121.77 L321.35 123.04 L322.27 123.14 L323.19 124.34 L324.09 125.27 L324.99 126.08 L325.89 126.41 L326.79 127.21 L327.70 128.12 L328.61 129.10 L329.52 129.38 L330.44 130.72 L331.35 131.58 L332.26 132.42 L333.18 132.50 L334.09 133.89 L335.00 133.77 L335.89 134.44 L336.76 135.04 L337.61 135.61 L338.47 135.41 L339.35 136.10 L340.27 135.99 L341.25 135.98 L342.30 136.15 L343.44 136.21 L344.66 136.26 L345.94 136.44 L347.26 136.96 L348.60 137.27 L349.93 136.64 L351.24 136.56 L352.50 137.29 L353.73 136.87 L354.96 136.67 L356.18 136.40 L357.39 136.53 L358.58 136.54 L359.75 136.07 L360.89 135.88 L362.00 135.44 L363.03 135.97 L363.96 135.06 L364.84 135.20 L365.71 135.26 L366.61 134.52 L367.60 134.90 L368.71 135.05 L370.00 134.90 L370.74 135.16 L371.48 134.74 L372.29 135.19 L373.10 135.16 L373.98 135.96 L374.85 135.76 L375.77 136.16 L376.69 136.87 L377.63 137.05 L378.57 137.43 L379.52 137.30 L380.48 137.61 L381.42 138.07 L382.36 138.13 L383.28 138.21 L384.20 138.52 L385.08 138.51 L385.96 138.89 L386.80 139.57 L387.65 139.74 L388.49 139.65 L389.32 139.73 L390.17 139.77 L391.02 139.74 L391.90 140.05 L392.77 140.61 L393.70 140.83 L394.63 140.57 L395.63 141.05 L396.62 141.17 L397.35 141.19 L398.07 141.25 L398.80 141.41 L399.56 141.16 L400.31 141.51 L401.07 141.24 L401.83 141.46 L402.59 141.75 L403.35 141.75 L404.14 141.49 L404.93 142.06 L405.71 141.88 L406.54 141.87 L407.38 141.46 L408.21 141.93 L409.10 141.73 L410.00 142.11 L410.89 141.98 L411.63 142.29 L412.36 142.18 L413.10 142.33 L413.83 141.99 L414.64 142.26 L415.46 142.35 L416.27 142.45 L417.08 142.09 L417.80 142.50 L418.53 142.54 L419.25 142.42 L419.98 142.66 L420.70 142.67 L421.49 142.33 L422.28 142.35 L423.06 142.08 L423.85 142.63 L424.64 142.72 L425.47 142.36 L426.31 142.55 L427.15 142.58 L427.98 142.60 L428.82 142.16 L429.56 142.65 L430.30 142.50 L431.03 142.57 L431.77 142.38 L432.51 142.55 L433.25 142.67 L434.04 142.57 L434.83 142.64 L435.61 142.09 L436.40 142.20 L437.18 142.42 L437.97 142.60 L438.68 142.25 L439.40 142.63 L440.12 142.59 L440.83 142.12 L441.55 142.47 L442.27 142.27 L442.98 142.14 L443.74 142.20 L444.50 142.35 L445.27 142.25 L446.03 142.26 L446.79 142.14 L447.55 142.48 L448.31 142.42 L449.02 142.61 L449.73 142.60 L450.44 142.32 L451.14 142.85 L451.85 142.14 L452.56 142.46 L453.27 142.37 L453.98 142.48 L454.73 142.25 L455.48 142.83 L456.24 142.47 L456.99 142.20 L457.74 142.67 L458.49 142.26 L459.25 142.63 L460.00 142.47 L460.71 142.67 L461.42 142.98 L462.12 142.88 L462.83 142.57 L463.54 142.89 L464.25 142.76 L464.96 142.55 L465.66 142.38 L466.37 142.75 L467.12 142.73 L467.86 143.06 L468.61 143.08 L469.35 142.80 L470.10 142.60 L470.84 143.04 L471.59 142.34 L472.33 142.44 L473.08 142.81 L473.78 142.86 L474.48 142.49 L475.18 142.89 L475.89 143.11 L476.59 142.71 L477.29 142.76 L478.00 142.61 L478.70 142.67 L479.40 143.22 L480.10 142.76 L480.84 143.23 L481.58 143.21 L482.31 142.96 L483.05 142.70 L483.78 143.29 L484.52 142.91 L485.25 142.86 L485.99 142.79 L486.72 143.33 L487.46 142.95 L488.22 142.80 L488.99 142.96 L489.76 142.68 L490.52 143.09 L491.29 142.96 L492.06 142.85 L492.82 143.25 L493.59 143.30 L494.36 142.66 L495.13 143.08 L495.85 142.88 L496.58 143.42 L497.30 143.31 L498.03 142.89 L498.75 142.91 L499.48 142.83 L500.21 143.51 L500.93 142.96 L501.66 143.22 L502.38 143.12 L503.11 143.27 L503.86 143.24 L504.62 143.36 L505.37 142.87 L506.12 143.39 L506.88 143.03 L507.63 143.22 L508.39 143.07 L509.14 143.05 L509.89 143.24 L510.65 143.20 L511.40 143.12 L512.12 143.44 L512.83 143.32 L513.55 142.88 L514.27 143.06 L514.98 143.23 L515.70 143.60 L516.42 143.58 L517.13 143.31 L517.85 142.90 L518.57 143.51 L519.28 143.24 L520.00 143.36 L520.75 143.47 L521.50 143.41 L522.26 143.30 L523.01 143.65 L523.76 143.23 L524.51 143.24 L525.26 143.61 L526.01 143.09 L526.77 143.17 L527.52 143.61 L528.27 143.00 L529.02 143.62 L529.75 143.51 L530.48 143.30 L531.21 143.19 L531.95 143.59 L532.68 143.69 L533.41 143.08 L534.14 143.35 L534.87 143.41 L535.60 143.37 L536.33 143.24 L537.06 143.10 L537.79 143.45 L538.52 143.64 L539.23 143.04 L539.93 143.18 L540.64 143.65 L541.35 143.63 L542.05 143.53 L542.76 143.02 L543.46 143.58 L544.17 143.79 L544.87 143.80 L545.58 143.57 L546.29 143.05 L546.99 143.69 L547.70 143.19 L548.40 143.53 L549.13 143.78 L549.85 143.59 L550.58 143.13 L551.31 143.26 L552.03 143.76 L552.76 143.15 L553.48 143.52 L554.21 143.36 L554.93 143.16 L555.66 143.53 L556.39 143.07 L557.11 143.12 L557.84 143.34 L558.56 143.10 L559.30 143.08 L560.04 143.50 L560.78 143.63 L561.52 143.75 L562.25 143.15 L562.99 143.39 L563.73 143.30 L564.47 143.53 L565.21 143.44 L565.95 143.80 L566.69 143.35 L567.42 143.10 L568.16 143.61 L568.90 143.18 L569.65 143.56 L570.39 143.46 L571.13 143.79 L571.88 143.50 L572.62 143.56 L573.37 143.27 L574.11 143.50 L574.86 143.27 L575.60 143.66 L576.34 143.48 L577.09 143.17 L577.83 143.25 L578.58 143.36 L579.32 143.66 L580.06 143.21 L580.81 143.64 L581.55 143.60 L582.29 143.14 L583.03 143.61 L583.78 143.15 L584.52 143.18 L585.26 143.55 L586.01 143.27 L586.75 143.78 L587.49 143.46 L588.23 143.34 L588.98 143.72 L589.72 143.11 L590.45 143.66 L591.19 143.13 L591.92 143.21 L592.66 143.85 L593.39 143.63 L594.13 143.27 L594.86 143.18 L595.59 143.87 L596.33 143.63 L597.06 143.75 L597.80 143.21 L598.53 143.60 L599.27 143.38 L600.00 143.29 L600.72 143.37 L601.44 143.59 L602.16 143.38 L602.88 143.41 L603.60 143.22 L604.32 143.77 L605.04 143.63 L605.76 143.75 L606.48 143.46 L607.20 143.79 L607.92 143.53 L608.64 143.59 L609.36 143.57 L610.08 143.71 L610.80 143.43 L611.53 143.20 L612.26 143.15 L612.99 143.28 L613.72 143.15 L614.45 143.83 L615.18 143.51 L615.91 143.73 L616.64 143.13 L617.37 143.50 L618.10 143.84 L618.83 143.62 L619.56 143.47 L620.29 143.50 L621.02 143.21 L621.75 143.26 L622.48 143.26 L623.19 143.43 L623.90 143.44 L624.61 143.84 L625.32 143.26 L626.03 143.34 L626.74 143.36 L627.45 143.27 L628.16 143.37 L628.87 143.33 L629.58 143.53 L630.29 143.17 L631.00 143.88 L631.71 143.44 L632.42 143.90 L633.13 143.70 L633.84 143.69 L634.55 143.53 L635.26 143.91 L635.96 143.25 L636.66 143.69 L637.36 143.39 L638.07 143.69 L638.77 143.74 L639.47 143.29 L640.17 143.32 L640.88 143.18 L641.58 143.34 L642.28 143.22 L642.99 143.48 L643.69 143.94 L644.39 143.45 L645.09 143.41 L645.80 143.54 L646.50 143.39 L647.21 143.75 L647.92 143.74 L648.62 143.30 L649.33 143.36 L650.04 143.70 L650.75 143.92 L651.45 143.68 L652.16 143.51 L652.87 143.95 L653.58 143.17 L654.28 143.22 L654.99 143.79 L655.70 143.50 L656.41 143.21 L657.11 143.61 L657.82 143.97 L658.55 143.59 L659.28 143.46 L660.01 143.25 L660.73 143.23 L661.46 143.90 L662.19 143.57 L662.92 143.93 L663.65 143.22 L664.38 143.38 L665.10 143.22 L665.83 143.50 L666.56 143.23 L667.29 143.39 L668.02 143.51 L668.73 143.43 L669.44 143.23 L670.16 143.22 L670.87 143.96 L671.58 143.33 L672.30 143.60 L673.01 143.51 L673.72 143.62 L674.44 143.26 L675.15 143.44 L675.86 143.28 L676.58 143.63 L677.29 143.93 L678.00 143.67 L678.72 143.88 L679.43 143.37 L680.14 143.21 L680.86 143.63 L681.57 143.59 L682.29 143.66 L683.00 143.50" fill="none" stroke="#3a6fd6" stroke-width="0.8" stroke-linejoin="round"/>
<path d="M262.80 139.49 L264.15 139.82 L265.09 139.75 L266.02 140.00 L266.76 140.08 L267.51 139.68 L268.25 139.70 L269.07 140.41 L269.88 140.01 L270.69 140.04 L271.53 140.70 L272.36 140.33 L273.19 140.67 L273.99 140.41 L274.79 140.57 L275.59 140.21 L276.31 140.60 L277.03 140.79 L277.75 140.52 L278.62 140.64 L279.50 140.54 L280.87 139.85 L282.00 140.12 L282.96 139.63 L283.78 138.99 L284.53 138.31 L285.24 138.48 L285.99 137.63 L286.80 137.28 L287.66 136.82 L288.50 136.06 L289.33 135.56 L290.14 134.44 L290.96 134.03 L291.77 132.98 L292.58 132.57 L293.40 131.70 L294.23 130.19 L295.07 129.25 L295.91 128.30 L296.75 127.86 L297.58 126.41 L298.41 125.57 L299.21 124.38 L300.00 123.72 L300.76 122.88 L301.49 122.17 L302.20 121.72 L302.90 121.14 L303.60 120.85 L304.31 120.17 L305.04 119.90 L305.80 119.41 L306.58 119.11 L307.36 118.44 L308.15 117.66 L308.96 117.88 L309.79 117.70 L310.63 117.47 L311.50 117.12 L312.40 117.27 L313.34 117.04 L314.32 117.84 L315.33 118.03 L316.36 118.29 L317.39 118.66 L318.42 119.88 L319.42 120.60 L320.40 120.50 L321.35 121.72 L322.27 122.11 L323.19 122.66 L324.09 123.56 L324.99 124.74 L325.89 125.63 L326.79 125.76 L327.70 126.99 L328.61 127.32 L329.52 128.67 L330.44 129.19 L331.35 130.45 L332.26 131.32 L333.18 131.67 L334.09 132.73 L335.00 132.75 L335.89 133.03 L336.76 133.83 L337.61 133.70 L338.47 134.10 L339.35 134.49 L340.27 134.84 L341.25 134.65 L342.30 134.73 L343.44 135.56 L344.66 135.25 L345.94 135.88 L347.26 135.92 L348.60 135.57 L349.93 135.68 L351.24 135.73 L352.50 135.82 L353.73 135.72 L354.96 135.59 L356.18 135.50 L357.39 135.60 L358.58 135.09 L359.75 134.85 L360.89 134.92 L362.00 134.39 L363.03 134.28 L363.96 134.61 L364.84 134.02 L365.71 133.83 L366.61 133.23 L367.60 133.44 L368.71 133.56 L370.00 133.22 L370.74 133.82 L371.48 133.96 L372.29 133.70 L373.10 134.34 L373.98 134.46 L374.85 134.87 L375.77 134.88 L376.69 135.44 L377.63 135.75 L378.57 135.47 L379.52 135.79 L380.48 136.56 L381.42 137.06 L382.36 136.75 L383.28 137.14 L384.20 137.47 L385.08 137.45 L385.96 137.68 L386.80 137.83 L387.65 138.06 L388.49 138.41 L389.32 138.35 L390.17 138.58 L391.02 139.06 L391.90 138.62 L392.77 139.21 L393.70 139.50 L394.63 139.30 L395.63 139.37 L396.62 139.98 L397.35 139.61 L398.07 139.66 L398.80 139.95 L399.56 140.24 L400.31 139.85 L401.07 140.11 L401.83 140.19 L402.59 140.67 L403.35 140.43 L404.14 140.84 L404.93 140.36 L405.71 140.57 L406.54 140.88 L407.38 141.14 L408.21 140.85 L409.10 140.73 L410.00 140.71 L410.89 141.10 L411.63 140.87 L412.36 141.40 L413.10 141.47 L413.83 140.98 L414.64 141.09 L415.46 141.55 L416.27 141.46 L417.08 141.62 L417.80 141.28 L418.53 141.13 L419.25 141.28 L419.98 141.71 L420.70 141.32 L421.49 141.40 L422.28 141.47 L423.06 141.49 L423.85 141.50 L424.64 141.93 L425.47 141.33 L426.31 141.22 L427.15 141.98 L427.98 141.94 L428.82 142.04 L429.56 141.60 L430.30 142.02 L431.03 142.01 L431.77 141.45 L432.51 141.87 L433.25 141.95 L434.04 141.82 L434.83 141.70 L435.61 141.52 L436.40 141.57 L437.18 141.48 L437.97 141.35 L438.68 141.77 L439.40 141.53 L440.12 141.95 L440.83 141.34 L441.55 142.03 L442.27 141.86 L442.98 142.05 L443.74 142.03 L444.50 142.03 L445.27 141.78 L446.03 141.33 L446.79 141.92 L447.55 141.46 L448.31 141.56 L449.02 141.86 L449.73 141.75 L450.44 141.67 L451.14 142.09 L451.85 141.83 L452.56 141.62 L453.27 141.55 L453.98 142.04 L454.73 141.74 L455.48 141.99 L456.24 141.65 L456.99 141.53 L457.74 141.81 L458.49 142.04 L459.25 141.53 L460.00 142.03 L460.71 142.15 L461.42 142.06 L462.12 142.08 L462.83 141.44 L463.54 141.94 L464.25 142.14 L464.96 141.50 L465.66 141.68 L466.37 141.69 L467.12 141.90 L467.86 141.83 L468.61 141.88 L469.35 142.13 L470.10 141.52 L470.84 141.57 L471.59 141.64 L472.33 141.65 L473.08 141.61 L473.78 142.35 L474.48 142.26 L475.18 141.66 L475.89 142.00 L476.59 141.86 L477.29 141.87 L478.00 141.91 L478.70 142.15 L479.40 142.11 L480.10 141.94 L480.84 141.82 L481.58 141.94 L482.31 141.78 L483.05 142.14 L483.78 142.28 L484.52 142.02 L485.25 141.79 L485.99 141.88 L486.72 142.04 L487.46 142.24 L488.22 142.39 L488.99 142.08 L489.76 142.43 L490.52 142.29 L491.29 142.15 L492.06 142.11 L492.82 142.22 L493.59 142.40 L494.36 142.18 L495.13 142.41 L495.85 142.23 L496.58 142.07 L497.30 142.31 L498.03 142.45 L498.75 141.96 L499.48 142.25 L500.21 142.26 L500.93 142.63 L501.66 142.68 L502.38 142.24 L503.11 142.67 L503.86 142.59 L504.62 142.18 L505.37 142.34 L506.12 142.08 L506.88 142.64 L507.63 142.53 L508.39 142.71 L509.14 142.65 L509.89 142.55 L510.65 142.61 L511.40 142.48 L512.12 142.12 L512.83 142.51 L513.55 142.05 L514.27 142.17 L514.98 142.68 L515.70 142.10 L516.42 142.15 L517.13 142.16 L517.85 142.79 L518.57 142.23 L519.28 142.11 L520.00 142.77 L520.75 142.20 L521.50 142.78 L522.26 142.65 L523.01 142.79 L523.76 142.88 L524.51 142.59 L525.26 142.77 L526.01 142.16 L526.77 142.75 L527.52 142.55 L528.27 142.72 L529.02 142.24 L529.75 142.75 L530.48 142.90 L531.21 142.21 L531.95 142.42 L532.68 142.62 L533.41 142.83 L534.14 142.36 L534.87 142.32 L535.60 142.38 L536.33 142.67 L537.06 142.78 L537.79 142.50 L538.52 142.48 L539.23 142.51 L539.93 142.47 L540.64 142.53 L541.35 142.26 L542.05 142.60 L542.76 142.98 L543.46 142.53 L544.17 142.80 L544.87 142.33 L545.58 142.76 L546.29 142.81 L546.99 142.75 L547.70 142.63 L548.40 142.60 L549.13 142.73 L549.85 142.94 L550.58 142.34 L551.31 142.30 L552.03 142.82 L552.76 142.96 L553.48 142.64 L554.21 142.58 L554.93 142.80 L555.66 142.38 L556.39 142.45 L557.11 142.39 L557.84 142.70 L558.56 142.49 L559.30 142.42 L560.04 142.79 L560.78 143.00 L561.52 142.48 L562.25 142.81 L562.99 142.58 L563.73 142.93 L564.47 142.71 L565.21 142.46 L565.95 142.42 L566.69 142.27 L567.42 142.64 L568.16 142.56 L568.90 142.39 L569.65 142.54 L570.39 142.51 L571.13 142.88 L571.88 142.37 L572.62 143.05 L573.37 142.64 L574.11 142.74 L574.86 142.64 L575.60 142.93 L576.34 142.92 L577.09 142.71 L577.83 142.65 L578.58 142.84 L579.32 142.95 L580.06 142.59 L580.81 142.86 L581.55 143.04 L582.29 142.65 L583.03 142.46 L583.78 142.46 L584.52 142.85 L585.26 142.82 L586.01 143.05 L586.75 142.96 L587.49 142.47 L588.23 142.43 L588.98 142.49 L589.72 142.43 L590.45 142.85 L591.19 142.97 L591.92 143.01 L592.66 142.49 L593.39 142.98 L594.13 142.54 L594.86 142.63 L595.59 142.88 L596.33 142.36 L597.06 142.37 L597.80 142.96 L598.53 142.53 L599.27 142.58 L600.00 142.76 L600.72 142.84 L601.44 142.31 L602.16 142.57 L602.88 142.65 L603.60 142.69 L604.32 142.48 L605.04 142.78 L605.76 143.07 L606.48 142.62 L607.20 142.75 L607.92 142.41 L608.64 142.53 L609.36 142.85 L610.08 142.41 L610.80 143.03 L611.53 143.05 L612.26 142.40 L612.99 143.07 L613.72 142.62 L614.45 142.94 L615.18 142.93 L615.91 142.56 L616.64 142.87 L617.37 142.85 L618.10 142.97 L618.83 142.54 L619.56 142.93 L620.29 143.10 L621.02 142.87 L621.75 142.76 L622.48 142.43 L623.19 142.73 L623.90 142.62 L624.61 142.91 L625.32 142.88 L626.03 142.79 L626.74 142.49 L627.45 142.86 L628.16 142.85 L628.87 142.49 L629.58 143.06 L630.29 142.87 L631.00 142.44 L631.71 143.09 L632.42 142.46 L633.13 142.61 L633.84 142.92 L634.55 142.83 L635.26 142.79 L635.96 142.87 L636.66 142.72 L637.36 142.60 L638.07 142.49 L638.77 142.41 L639.47 142.93 L640.17 142.96 L640.88 142.79 L641.58 142.95 L642.28 142.65 L642.99 142.57 L643.69 142.67 L644.39 143.06 L645.09 142.39 L645.80 142.77 L646.50 142.56 L647.21 142.98 L647.92 142.65 L648.62 142.63 L649.33 142.69 L650.04 142.80 L650.75 142.98 L651.45 142.65 L652.16 143.05 L652.87 142.46 L653.58 142.59 L654.28 142.45 L654.99 142.46 L655.70 143.00 L656.41 142.95 L657.11 142.52 L657.82 142.53 L658.55 142.71 L659.28 142.97 L660.01 143.03 L660.73 142.98 L661.46 142.85 L662.19 142.50 L662.92 142.70 L663.65 142.53 L664.38 142.80 L665.10 142.84 L665.83 142.54 L666.56 142.58 L667.29 143.01 L668.02 142.41 L668.73 143.03 L669.44 143.10 L670.16 143.15 L670.87 142.69 L671.58 142.83 L672.30 142.86 L673.01 142.90 L673.72 143.17 L674.44 142.94 L675.15 142.63 L675.86 143.08 L676.58 142.78 L677.29 142.87 L678.00 142.98 L678.72 142.40 L679.43 143.01 L680.14 142.93 L680.86 142.79 L681.57 142.82 L682.29 142.77 L683.00 142.55" fill="none" stroke="#8fc5d0" stroke-width="0.8" stroke-linejoin="round"/>
<path d="M262.80 139.99 L264.15 139.96 L265.09 140.27 L266.02 140.14 L266.76 140.13 L267.51 140.45 L268.25 140.92 L269.07 140.88 L269.88 140.91 L270.69 140.53 L271.53 140.83 L272.36 140.67 L273.19 140.64 L273.99 140.61 L274.79 140.73 L275.59 141.33 L276.31 141.26 L277.03 141.24 L277.75 141.24 L278.62 140.70 L279.50 140.75 L280.87 140.80 L282.00 140.60 L282.96 140.34 L283.78 139.95 L284.53 138.86 L285.24 138.77 L285.99 138.29 L286.80 137.60 L287.66 136.76 L288.50 136.37 L289.33 135.40 L290.14 135.37 L290.96 134.58 L291.77 133.56 L292.58 132.56 L293.40 132.23 L294.23 131.07 L295.07 130.35 L295.91 129.31 L296.75 127.99 L297.58 126.89 L298.41 126.04 L299.21 124.99 L300.00 123.94 L300.76 123.32 L301.49 123.04 L302.20 121.79 L302.90 121.20 L303.60 121.13 L304.31 120.35 L305.04 120.09 L305.80 119.61 L306.58 119.09 L307.36 119.20 L308.15 118.18 L308.96 118.02 L309.79 117.59 L310.63 117.75 L311.50 117.38 L312.40 117.48 L313.34 117.97 L314.32 117.93 L315.33 118.52 L316.36 119.28 L317.39 119.19 L318.42 119.75 L319.42 120.49 L320.40 121.54 L321.35 122.07 L322.27 122.47 L323.19 123.30 L324.09 123.96 L324.99 124.99 L325.89 125.47 L326.79 126.79 L327.70 127.72 L328.61 128.54 L329.52 129.18 L330.44 130.19 L331.35 130.26 L332.26 131.26 L333.18 132.54 L334.09 133.05 L335.00 133.33 L335.89 134.22 L336.76 134.35 L337.61 134.83 L338.47 134.67 L339.35 134.81 L340.27 135.21 L341.25 135.14 L342.30 135.51 L343.44 136.13 L344.66 135.77 L345.94 135.62 L347.26 135.74 L348.60 135.91 L349.93 136.43 L351.24 136.11 L352.50 136.03 L353.73 135.82 L354.96 136.43 L356.18 135.85 L357.39 135.52 L358.58 135.23 L359.75 135.05 L360.89 134.98 L362.00 135.24 L363.03 134.66 L363.96 134.36 L364.84 134.50 L365.71 134.09 L366.61 134.52 L367.60 133.71 L368.71 134.02 L370.00 134.32 L370.74 134.15 L371.48 134.74 L372.29 134.53 L373.10 134.53 L373.98 134.91 L374.85 134.86 L375.77 135.44 L376.69 135.57 L377.63 136.37 L378.57 136.62 L379.52 136.64 L380.48 136.55 L381.42 136.99 L382.36 137.24 L383.28 137.44 L384.20 137.69 L385.08 138.39 L385.96 138.01 L386.80 138.13 L387.65 139.02 L388.49 138.91 L389.32 139.44 L390.17 139.14 L391.02 139.71 L391.90 139.68 L392.77 139.95 L393.70 140.06 L394.63 140.01 L395.63 139.82 L396.62 140.04 L397.35 140.65 L398.07 140.74 L398.80 140.84 L399.56 140.43 L400.31 140.75 L401.07 140.92 L401.83 140.84 L402.59 141.02 L403.35 140.84 L404.14 140.98 L404.93 141.03 L405.71 140.73 L406.54 141.28 L407.38 141.33 L408.21 140.65 L409.10 141.39 L410.00 141.40 L410.89 141.18 L411.63 140.70 L412.36 141.39 L413.10 140.79 L413.83 141.47 L414.64 141.24 L415.46 140.77 L416.27 140.87 L417.08 141.25 L417.80 141.21 L418.53 141.36 L419.25 141.52 L419.98 140.96 L420.70 140.80 L421.49 141.55 L422.28 140.83 L423.06 141.53 L423.85 140.94 L424.64 141.50 L425.47 141.49 L426.31 141.57 L427.15 141.32 L427.98 141.59 L428.82 141.06 L429.56 141.44 L430.30 141.17 L431.03 141.62 L431.77 141.53 L432.51 141.30 L433.25 141.35 L434.04 140.95 L434.83 140.96 L435.61 141.41 L436.40 141.33 L437.18 141.64 L437.97 141.44 L438.68 141.06 L439.40 141.25 L440.12 141.58 L440.83 141.38 L441.55 140.98 L442.27 141.64 L442.98 141.64 L443.74 141.05 L444.50 141.42 L445.27 141.29 L446.03 141.62 L446.79 141.25 L447.55 141.19 L448.31 141.40 L449.02 141.78 L449.73 141.09 L450.44 141.11 L451.14 141.52 L451.85 141.74 L452.56 141.45 L453.27 141.39 L453.98 141.73 L454.73 141.67 L455.48 141.11 L456.24 141.77 L456.99 141.23 L457.74 141.32 L458.49 141.76 L459.25 141.43 L460.00 141.74 L460.71 141.24 L461.42 141.82 L462.12 141.27 L462.83 141.25 L463.54 141.54 L464.25 141.42 L464.96 141.59 L465.66 141.89 L466.37 141.74 L467.12 141.19 L467.86 141.44 L468.61 141.64 L469.35 141.60 L470.10 141.79 L470.84 141.62 L471.59 141.30 L472.33 141.45 L473.08 141.94 L473.78 141.55 L474.48 141.89 L475.18 142.08 L475.89 141.80 L476.59 141.85 L477.29 141.80 L478.00 141.58 L478.70 142.07 L479.40 141.72 L480.10 142.08 L480.84 141.61 L481.58 142.07 L482.31 142.01 L483.05 141.89 L483.78 141.76 L484.52 141.53 L485.25 142.04 L485.99 141.73 L486.72 141.98 L487.46 141.56 L488.22 141.53 L488.99 141.59 L489.76 142.13 L490.52 141.64 L491.29 142.23 L492.06 141.81 L492.82 141.99 L493.59 141.82 L494.36 142.04 L495.13 141.63 L495.85 141.89 L496.58 142.32 L497.30 141.73 L498.03 142.11 L498.75 141.86 L499.48 141.85 L500.21 141.64 L500.93 141.64 L501.66 142.39 L502.38 142.31 L503.11 142.29 L503.86 142.30 L504.62 142.43 L505.37 141.80 L506.12 142.15 L506.88 142.08 L507.63 142.16 L508.39 142.45 L509.14 142.32 L509.89 142.49 L510.65 141.82 L511.40 142.25 L512.12 142.28 L512.83 142.34 L513.55 142.24 L514.27 142.42 L514.98 142.00 L515.70 142.51 L516.42 142.10 L517.13 142.26 L517.85 142.50 L518.57 142.35 L519.28 142.04 L520.00 141.98 L520.75 142.07 L521.50 142.31 L522.26 142.61 L523.01 142.54 L523.76 142.14 L524.51 142.15 L525.26 142.48 L526.01 142.06 L526.77 142.17 L527.52 141.85 L528.27 141.99 L529.02 142.28 L529.75 142.41 L530.48 142.35 L531.21 142.15 L531.95 142.62 L532.68 142.36 L533.41 141.99 L534.14 141.92 L534.87 142.65 L535.60 142.67 L536.33 142.61 L537.06 142.36 L537.79 142.13 L538.52 141.96 L539.23 142.10 L539.93 142.07 L540.64 142.64 L541.35 142.61 L542.05 142.52 L542.76 142.02 L543.46 142.09 L544.17 142.14 L544.87 142.66 L545.58 142.04 L546.29 142.54 L546.99 142.46 L547.70 142.35 L548.40 142.68 L549.13 142.13 L549.85 142.34 L550.58 142.05 L551.31 142.00 L552.03 141.95 L552.76 142.18 L553.48 142.02 L554.21 141.98 L554.93 142.72 L555.66 142.16 L556.39 142.65 L557.11 142.50 L557.84 142.52 L558.56 142.46 L559.30 142.70 L560.04 142.64 L560.78 142.52 L561.52 142.39 L562.25 142.50 L562.99 142.52 L563.73 142.39 L564.47 142.35 L565.21 142.07 L565.95 142.62 L566.69 142.34 L567.42 142.01 L568.16 142.09 L568.90 142.65 L569.65 142.16 L570.39 142.27 L571.13 142.50 L571.88 142.65 L572.62 142.22 L573.37 142.27 L574.11 142.30 L574.86 141.98 L575.60 142.66 L576.34 141.98 L577.09 142.73 L577.83 142.09 L578.58 142.09 L579.32 142.65 L580.06 142.63 L580.81 142.16 L581.55 142.41 L582.29 142.35 L583.03 142.55 L583.78 142.12 L584.52 142.64 L585.26 142.77 L586.01 142.54 L586.75 142.72 L587.49 142.73 L588.23 142.28 L588.98 142.66 L589.72 142.65 L590.45 142.45 L591.19 142.07 L591.92 142.48 L592.66 142.72 L593.39 142.23 L594.13 142.51 L594.86 142.71 L595.59 142.47 L596.33 142.02 L597.06 142.50 L597.80 142.20 L598.53 142.68 L599.27 142.53 L600.00 142.25 L600.72 142.72 L601.44 142.50 L602.16 142.27 L602.88 142.67 L603.60 142.72 L604.32 142.72 L605.04 142.71 L605.76 142.54 L606.48 142.57 L607.20 142.50 L607.92 142.43 L608.64 142.80 L609.36 142.30 L610.08 142.08 L610.80 142.59 L611.53 142.42 L612.26 142.46 L612.99 142.50 L613.72 142.22 L614.45 142.18 L615.18 142.08 L615.91 142.65 L616.64 142.75 L617.37 142.58 L618.10 142.12 L618.83 142.81 L619.56 142.69 L620.29 142.44 L621.02 142.03 L621.75 142.71 L622.48 142.53 L623.19 142.53 L623.90 142.05 L624.61 142.62 L625.32 142.07 L626.03 142.42 L626.74 142.16 L627.45 142.33 L628.16 142.75 L628.87 142.64 L629.58 142.70 L630.29 142.28 L631.00 142.36 L631.71 142.53 L632.42 142.07 L633.13 142.38 L633.84 142.83 L634.55 142.65 L635.26 142.74 L635.96 142.29 L636.66 142.60 L637.36 142.68 L638.07 142.62 L638.77 142.40 L639.47 142.19 L640.17 142.07 L640.88 142.77 L641.58 142.80 L642.28 142.28 L642.99 142.66 L643.69 142.39 L644.39 142.56 L645.09 142.73 L645.80 142.32 L646.50 142.56 L647.21 142.27 L647.92 142.47 L648.62 142.09 L649.33 142.28 L650.04 142.30 L650.75 142.80 L651.45 142.17 L652.16 142.67 L652.87 142.14 L653.58 142.86 L654.28 142.20 L654.99 142.14 L655.70 142.24 L656.41 142.82 L657.11 142.61 L657.82 142.79 L658.55 142.47 L659.28 142.17 L660.01 142.35 L660.73 142.44 L661.46 142.87 L662.19 142.21 L662.92 142.27 L663.65 142.75 L664.38 142.17 L665.10 142.86 L665.83 142.32 L666.56 142.54 L667.29 142.61 L668.02 142.81 L668.73 142.15 L669.44 142.76 L670.16 142.23 L670.87 142.66 L671.58 142.11 L672.30 142.70 L673.01 142.23 L673.72 142.26 L674.44 142.12 L675.15 142.35 L675.86 142.35 L676.58 142.88 L677.29 142.58 L678.00 142.39 L678.72 142.89 L679.43 142.23 L680.14 142.27 L680.86 142.86 L681.57 142.86 L682.29 142.65 L683.00 142.88" fill="none" stroke="#5ec3e6" stroke-width="0.8" stroke-linejoin="round"/>
<path d="M262.80 142.18 L264.15 142.27 L265.09 142.14 L266.02 142.07 L266.76 141.97 L267.51 142.43 L268.25 142.37 L269.07 142.60 L269.88 142.42 L270.69 142.72 L271.53 142.47 L272.36 142.83 L273.19 142.83 L273.99 142.67 L274.79 142.76 L275.59 142.88 L276.31 142.58 L277.03 142.78 L277.75 142.93 L278.62 142.53 L279.50 142.78 L280.87 142.43 L282.00 142.15 L282.96 141.38 L283.78 140.70 L284.53 140.54 L285.24 139.93 L285.99 139.09 L286.80 138.26 L287.66 137.70 L288.50 137.32 L289.33 136.45 L290.14 136.16 L290.96 135.22 L291.77 134.24 L292.58 133.72 L293.40 132.72 L294.23 132.16 L295.07 131.16 L295.91 129.88 L296.75 128.89 L297.58 127.86 L298.41 126.90 L299.21 126.05 L300.00 124.63 L300.76 124.06 L301.49 123.49 L302.20 122.65 L302.90 122.20 L303.60 121.32 L304.31 121.27 L305.04 120.58 L305.80 119.90 L306.58 119.82 L307.36 119.21 L308.15 118.78 L308.96 118.65 L309.79 118.20 L310.63 118.09 L311.50 118.44 L312.40 118.42 L313.34 118.22 L314.32 119.02 L315.33 119.01 L316.36 119.74 L317.39 120.68 L318.42 121.16 L319.42 121.64 L320.40 122.36 L321.35 123.07 L322.27 123.69 L323.19 125.05 L324.09 125.34 L324.99 126.44 L325.89 127.50 L326.79 128.14 L327.70 129.29 L328.61 129.63 L329.52 130.87 L330.44 131.61 L331.35 132.26 L332.26 133.13 L333.18 133.57 L334.09 134.44 L335.00 134.98 L335.88 135.29 L336.70 135.68 L337.50 136.17 L338.31 136.30 L339.17 136.38 L340.10 137.01 L341.13 136.95 L342.30 137.29 L343.62 137.67 L344.33 137.40 L345.05 137.40 L345.82 137.53 L346.58 137.89 L347.39 137.82 L348.19 137.82 L349.03 137.99 L349.86 138.33 L350.71 137.96 L351.56 138.09 L352.42 138.40 L353.28 138.26 L354.14 138.06 L355.00 138.18 L355.86 138.15 L356.71 137.90 L357.58 137.95 L358.45 137.81 L359.33 137.97 L360.21 137.55 L361.10 137.62 L362.00 137.67 L362.91 137.52 L363.83 137.08 L364.77 137.14 L365.70 136.90 L366.66 136.95 L367.62 137.00 L368.61 137.28 L369.60 137.46 L370.29 137.23 L370.98 137.21 L371.67 137.62 L372.39 137.62 L373.12 137.83 L373.84 138.51 L374.59 138.40 L375.33 139.05 L376.08 139.12 L376.84 139.78 L377.59 140.04 L378.35 139.87 L379.11 140.27 L379.86 141.03 L380.62 141.14 L381.37 141.31 L382.11 141.82 L382.86 142.12 L383.58 142.16 L384.31 142.38 L385.03 142.40 L385.72 142.71 L386.41 142.73 L387.10 143.18 L388.11 143.28 L389.12 143.12 L390.14 143.44 L391.16 143.16 L392.16 143.14 L393.17 143.44 L394.15 143.26 L395.12 143.45 L396.06 143.18 L396.99 143.12 L397.86 142.65 L398.73 142.96 L399.52 142.38 L400.31 142.58 L401.01 142.65 L401.70 142.54 L402.83 142.35 L403.72 141.89 L404.43 141.82 L405.02 141.64 L405.56 140.98 L406.13 141.15 L406.79 140.77 L407.60 140.06 L408.57 139.79 L409.62 139.08 L410.75 138.42 L411.90 138.07 L413.06 137.03 L414.20 136.76 L415.29 136.11 L416.30 134.87 L417.23 134.38 L418.11 132.91 L418.95 132.37 L419.76 130.96 L420.55 130.27 L421.35 128.81 L421.76 128.52 L422.16 127.41 L422.58 126.84 L423.00 126.69 L423.44 125.96 L423.87 125.27 L424.32 124.31 L424.76 123.72 L425.22 123.15 L425.67 122.27 L426.12 122.13 L426.57 121.28 L427.02 120.70 L427.47 119.85 L427.91 118.95 L428.35 118.11 L428.77 117.86 L429.19 116.85 L429.60 116.52 L430.00 115.88 L430.76 114.84 L431.48 113.63 L432.17 112.74 L432.84 112.17 L433.50 111.04 L434.16 110.49 L434.82 109.37 L435.50 108.47 L436.19 107.33 L436.88 106.45 L437.56 105.18 L438.25 103.89 L438.94 102.70 L439.62 101.74 L440.31 100.81 L441.00 99.45 L441.69 98.28 L442.38 97.38 L443.06 96.36 L443.75 95.62 L444.44 94.83 L445.12 93.82 L445.81 92.74 L446.50 92.00 L447.19 91.24 L447.88 90.51 L448.56 89.75 L449.25 89.41 L449.94 88.47 L450.62 87.89 L451.31 87.31 L452.00 86.69 L452.69 86.23 L453.38 85.44 L454.08 85.12 L454.78 84.83 L455.47 83.91 L456.15 83.78 L456.83 83.27 L457.50 82.74 L458.15 82.42 L458.78 82.56 L459.41 81.92 L460.02 82.06 L460.65 81.51 L461.28 81.54 L461.93 81.25 L462.60 81.53 L463.29 81.70 L463.99 81.43 L464.69 81.75 L465.41 82.13 L466.15 81.96 L466.91 82.33 L467.69 82.78 L468.50 83.22 L469.35 83.21 L470.23 83.99 L471.13 84.20 L472.06 84.77 L473.00 85.90 L473.94 85.96 L474.88 87.12 L475.80 87.65 L476.71 88.26 L477.62 88.98 L478.54 89.66 L479.45 90.17 L480.36 90.99 L481.28 91.55 L482.19 92.61 L483.10 93.17 L484.01 93.72 L484.92 93.86 L485.83 94.54 L486.74 94.76 L487.66 95.50 L488.57 95.90 L489.48 96.50 L490.40 96.82 L491.31 97.34 L492.20 97.95 L493.09 98.12 L493.99 99.00 L494.90 99.26 L495.83 100.05 L496.79 100.49 L497.80 101.57 L498.84 101.59 L499.91 102.71 L501.00 103.30 L502.12 103.57 L503.27 104.38 L504.45 104.49 L505.66 105.11 L506.90 105.61 L507.56 105.93 L508.21 106.17 L508.91 106.96 L509.61 106.80 L510.33 107.39 L511.06 107.49 L511.79 107.70 L512.52 108.16 L513.25 108.30 L513.98 109.06 L514.68 108.98 L515.38 109.39 L516.04 109.64 L516.70 109.95 L517.90 110.39 L518.96 110.76 L519.90 111.14 L520.76 112.04 L521.56 112.06 L522.36 112.65 L523.17 113.32 L524.04 113.65 L525.00 114.37 L526.05 114.82 L527.15 115.19 L528.30 115.53 L529.48 116.40 L530.67 116.92 L531.86 117.75 L533.04 118.14 L534.20 118.82 L535.34 119.46 L536.48 119.83 L537.62 120.63 L538.75 121.25 L539.88 121.37 L541.02 122.41 L542.16 122.95 L543.30 123.51 L544.45 123.78 L545.60 124.30 L546.75 124.81 L547.90 125.53 L549.05 126.39 L550.20 126.65 L551.35 126.98 L552.50 127.68 L553.64 128.06 L554.78 128.88 L555.92 129.45 L557.05 130.02 L558.18 129.97 L559.32 130.59 L560.46 130.87 L561.60 131.75 L562.75 132.09 L563.89 132.27 L565.04 132.88 L566.19 132.96 L567.35 133.43 L568.50 133.58 L569.65 133.81 L570.80 134.50 L571.95 134.71 L573.10 134.85 L574.25 135.30 L575.41 135.44 L576.56 135.80 L577.71 135.62 L578.85 135.92 L580.00 136.17 L581.13 136.72 L582.24 137.04 L583.34 136.96 L584.44 137.42 L585.56 137.42 L586.70 137.99 L587.88 138.27 L589.10 138.05 L590.36 138.77 L591.65 138.74 L592.97 138.57 L594.32 138.84 L595.69 138.86 L596.40 139.27 L597.10 139.45 L597.82 139.08 L598.53 139.16 L599.27 139.50 L600.00 139.72 L600.75 139.73 L601.51 139.64 L602.29 139.52 L603.07 139.91 L603.86 139.90 L604.66 140.20 L605.47 140.15 L606.28 140.33 L607.10 140.57 L607.92 140.45 L608.74 140.71 L609.56 140.42 L610.37 140.34 L611.19 140.96 L611.99 140.53 L612.80 141.20 L614.09 141.04 L614.95 140.98 L615.63 141.27 L616.40 141.71 L617.52 141.67 L618.38 141.89 L619.25 141.66 L620.12 142.15 L620.99 141.93 L621.86 142.25 L622.60 141.87 L623.35 142.21 L624.10 142.12 L624.85 142.11 L625.60 141.91 L626.38 142.24 L627.16 142.44 L627.94 142.02 L628.71 142.25 L629.49 142.01 L630.27 142.62 L631.05 142.63 L631.76 142.47 L632.48 142.36 L633.20 142.13 L633.91 142.18 L634.62 142.54 L635.34 142.61 L636.06 142.74 L636.77 142.68 L637.49 142.44 L638.20 142.35 L638.95 142.53 L639.70 142.43 L640.45 142.56 L641.20 142.78 L641.95 142.53 L642.70 142.86 L643.45 142.72 L644.20 142.33 L644.95 142.76 L645.70 142.72 L646.45 142.71 L647.18 142.35 L647.91 142.89 L648.64 142.67 L649.37 142.71 L650.10 142.50 L650.83 142.43 L651.55 142.43 L652.28 142.56 L653.01 142.63 L653.74 142.55 L654.47 142.50 L655.20 142.92 L655.92 142.91 L656.64 143.03 L657.36 142.64 L658.08 142.96 L658.80 142.89 L659.53 142.60 L660.25 143.08 L660.97 142.78 L661.69 142.69 L662.41 142.70 L663.13 143.16 L663.85 142.74 L664.57 142.85 L665.30 142.96 L666.02 142.86 L666.74 143.05 L667.46 142.72 L668.19 142.93 L668.91 143.04 L669.63 143.07 L670.35 143.07 L671.08 142.88 L671.80 143.11 L672.54 143.32 L673.28 143.04 L674.02 143.15 L674.76 143.27 L675.49 142.93 L676.23 142.95 L676.97 143.39 L677.71 142.99 L678.45 143.08 L679.24 143.06 L680.03 143.45 L680.83 143.19 L681.62 143.41 L682.41 142.98 L683.20 143.07" fill="none" stroke="#f7bd2e" stroke-width="0.9" stroke-linejoin="round"/>
<path d="M262.80 141.48 L264.15 141.43 L265.09 141.85 L266.02 141.51 L266.76 141.89 L267.51 141.83 L268.25 141.67 L269.07 142.04 L269.88 141.77 L270.69 142.10 L271.53 141.89 L272.36 141.95 L273.19 142.23 L273.99 142.53 L274.79 142.06 L275.59 142.16 L276.31 142.44 L277.03 142.65 L277.75 142.39 L278.62 142.20 L279.50 142.53 L280.87 141.62 L282.00 141.83 L282.96 141.00 L283.78 140.39 L284.53 139.82 L285.24 139.37 L285.99 139.13 L286.80 138.08 L287.66 137.75 L288.50 137.15 L289.33 136.30 L290.14 135.73 L290.96 134.67 L291.77 133.91 L292.58 133.22 L293.40 132.73 L294.23 131.65 L295.07 130.58 L295.91 129.72 L296.75 128.56 L297.58 127.39 L298.41 126.72 L299.21 125.70 L300.00 124.54 L300.76 124.01 L301.49 123.27 L302.20 122.86 L302.90 122.15 L303.60 121.29 L304.31 121.26 L305.04 120.19 L305.80 119.97 L306.58 119.80 L307.36 118.99 L308.15 118.87 L308.96 118.25 L309.79 118.45 L310.63 118.36 L311.50 118.18 L312.40 118.46 L313.34 118.28 L314.32 118.87 L315.33 119.24 L316.36 119.75 L317.39 120.24 L318.42 121.14 L319.42 121.87 L320.40 122.21 L321.35 123.05 L322.27 123.40 L323.19 124.68 L324.09 125.51 L324.99 126.63 L325.89 127.38 L326.79 127.85 L327.70 128.72 L328.61 129.70 L329.52 130.05 L330.44 131.15 L331.35 131.73 L332.26 132.44 L333.18 133.10 L334.09 134.23 L335.00 134.34 L335.88 134.90 L336.70 135.40 L337.50 136.08 L338.31 135.82 L339.17 136.33 L340.10 136.63 L341.13 137.07 L342.30 137.22 L343.62 137.44 L344.33 137.11 L345.05 137.29 L345.82 137.32 L346.58 137.76 L347.39 137.86 L348.19 137.36 L349.03 137.42 L349.86 137.50 L350.71 137.53 L351.56 137.74 L352.42 137.83 L353.28 137.62 L354.14 137.45 L355.00 137.74 L355.86 137.67 L356.71 137.78 L357.58 137.96 L358.45 137.70 L359.33 137.46 L360.21 137.42 L361.10 137.34 L362.00 136.79 L362.91 137.28 L363.83 137.10 L364.77 137.11 L365.70 137.00 L366.66 136.72 L367.62 136.73 L368.61 136.62 L369.60 137.09 L370.29 136.84 L370.98 136.99 L371.67 137.23 L372.39 137.41 L373.12 137.75 L373.84 137.77 L374.59 138.00 L375.33 138.37 L376.08 138.60 L376.84 139.07 L377.59 139.13 L378.35 140.01 L379.11 140.12 L379.86 140.09 L380.62 140.46 L381.37 140.79 L382.11 141.08 L382.86 141.18 L383.58 141.91 L384.31 142.24 L385.03 142.10 L385.72 142.27 L386.41 142.15 L387.10 142.32 L388.05 142.62 L389.00 142.70 L389.88 143.15 L390.75 142.74 L391.58 142.64 L392.41 143.29 L393.22 142.95 L394.04 142.65 L394.88 142.87 L395.72 142.45 L396.61 142.74 L397.51 143.00 L398.49 142.89 L399.48 142.73 L400.22 142.43 L400.96 142.51 L401.70 142.37 L402.56 142.82 L403.42 142.68 L404.27 142.88 L405.00 142.60 L405.73 142.56 L406.46 143.01 L407.18 143.17 L407.96 143.12 L408.74 143.13 L409.52 143.18 L410.31 143.16 L411.11 142.85 L411.92 143.09 L412.72 143.02 L413.52 142.84 L414.32 142.88 L415.12 143.09 L415.92 143.12 L416.72 143.46 L417.49 143.68 L418.25 143.35 L419.02 143.73 L419.78 143.79 L420.71 143.79 L421.65 143.40 L422.58 143.32 L423.39 143.32 L424.19 143.29 L425.00 143.29 L426.03 143.54 L427.07 143.69 L427.98 143.59 L428.90 143.27 L429.72 143.30 L430.53 143.31 L431.26 142.70 L431.99 142.99 L433.32 142.91 L434.54 142.51 L435.69 142.15 L436.80 141.58 L437.80 140.96 L438.64 140.93 L439.35 140.11 L439.98 139.90 L440.58 139.44 L441.19 138.43 L441.84 137.80 L442.60 137.51 L443.44 136.68 L444.31 135.60 L445.21 134.86 L446.14 134.12 L447.07 133.85 L448.02 132.91 L448.96 131.50 L449.43 131.45 L449.90 131.04 L450.37 130.22 L450.85 129.41 L451.34 128.88 L451.83 127.92 L452.32 127.12 L452.82 127.08 L453.32 126.11 L453.81 125.27 L454.30 124.81 L454.79 123.71 L455.27 123.28 L455.74 122.51 L456.19 121.38 L456.65 120.71 L457.07 120.10 L457.50 119.42 L458.28 118.52 L458.98 117.26 L459.64 116.42 L460.27 115.29 L460.90 114.91 L461.55 113.54 L462.24 112.55 L462.62 112.05 L463.00 111.68 L463.41 110.69 L463.83 110.39 L464.26 109.40 L464.70 108.73 L465.15 108.00 L465.61 106.92 L466.07 106.46 L466.54 105.52 L467.01 104.62 L467.48 104.41 L467.96 103.19 L468.43 102.61 L468.90 102.00 L469.38 101.10 L469.84 100.16 L470.30 99.51 L470.76 98.74 L471.22 98.10 L471.70 96.79 L472.17 96.28 L472.64 95.21 L473.12 94.37 L473.59 93.86 L474.06 92.82 L474.53 92.02 L474.99 91.32 L475.45 90.62 L475.90 89.48 L476.34 88.83 L476.77 88.00 L477.19 87.31 L477.60 86.73 L477.99 85.93 L478.37 85.35 L479.10 84.12 L479.79 83.33 L480.46 82.12 L481.12 81.27 L481.77 80.40 L482.42 79.05 L483.10 78.44 L483.79 77.94 L484.50 77.15 L485.20 75.99 L485.91 75.38 L486.60 75.06 L487.29 74.31 L487.96 73.99 L488.60 73.50 L489.21 73.60 L489.77 73.43 L490.31 73.31 L490.84 72.65 L491.38 72.96 L491.94 72.90 L492.55 72.57 L493.20 73.17 L493.91 73.37 L494.65 73.06 L495.43 73.84 L496.23 73.78 L497.05 74.22 L497.89 74.99 L498.74 75.34 L499.60 75.36 L500.47 76.12 L501.36 76.83 L502.27 77.42 L503.19 78.07 L504.12 78.92 L505.05 79.94 L505.98 80.14 L506.90 81.14 L507.81 81.60 L508.72 81.79 L509.63 82.46 L510.54 83.09 L511.46 83.43 L512.37 83.55 L513.28 84.65 L514.20 85.00 L515.15 85.68 L516.14 85.68 L517.14 86.42 L518.14 86.90 L519.11 88.04 L520.03 88.27 L520.87 88.69 L521.60 89.35 L522.18 90.02 L522.60 90.16 L522.91 89.91 L523.19 89.94 L523.48 90.60 L523.84 90.54 L524.32 90.91 L525.00 90.91 L525.87 91.48 L526.89 92.63 L528.03 93.25 L528.64 93.44 L529.24 94.48 L529.87 94.71 L530.50 95.27 L531.14 95.22 L531.77 96.20 L532.39 96.08 L533.02 97.07 L533.61 97.17 L534.20 97.49 L535.34 98.37 L536.48 99.36 L537.62 99.61 L538.75 100.20 L539.88 101.16 L541.02 101.63 L542.16 102.19 L543.30 102.86 L544.45 103.40 L545.60 104.10 L546.75 104.76 L547.90 105.32 L549.05 106.20 L550.20 106.42 L551.35 107.13 L552.50 107.47 L553.64 108.16 L554.78 108.49 L555.92 109.21 L557.05 109.60 L558.18 110.67 L559.32 111.12 L560.46 111.46 L561.60 112.28 L562.75 113.26 L563.89 113.36 L565.04 114.56 L566.19 115.01 L567.35 115.77 L568.50 116.71 L569.65 117.08 L570.80 117.80 L571.95 118.54 L573.10 119.33 L574.25 119.45 L575.41 120.34 L576.56 120.79 L577.71 121.29 L578.85 121.67 L580.00 122.19 L581.14 122.56 L582.28 123.18 L583.42 123.72 L584.55 124.76 L585.68 125.00 L586.82 125.51 L587.96 126.03 L589.10 127.14 L590.25 127.74 L591.40 128.20 L592.55 128.54 L593.70 129.11 L594.85 129.74 L596.00 130.43 L597.15 130.76 L598.30 131.46 L599.44 131.80 L600.58 132.72 L601.72 133.13 L602.85 133.22 L603.98 133.38 L605.12 134.24 L606.26 134.12 L607.40 134.50 L608.55 134.59 L609.71 135.18 L610.88 135.56 L612.04 135.88 L613.20 135.97 L614.35 136.46 L615.49 136.39 L616.60 136.83 L617.61 136.96 L618.49 137.40 L619.30 137.36 L620.13 137.55 L621.04 137.95 L622.11 138.11 L623.41 138.60 L624.20 138.69 L625.00 138.98 L625.99 139.06 L626.99 139.26 L627.77 139.48 L628.55 139.25 L629.33 139.32 L630.20 139.91 L631.07 139.44 L631.93 139.97 L632.85 140.03 L633.76 139.74 L634.68 140.42 L635.37 140.55 L636.06 140.46 L636.76 140.62 L637.45 140.77 L638.35 140.42 L639.25 140.80 L640.15 140.91 L640.99 141.24 L641.83 141.33 L642.67 141.45 L643.42 141.37 L644.16 141.68 L644.90 141.63 L645.83 141.75 L646.75 141.54 L647.53 141.51 L648.30 141.68 L649.66 142.02 L650.95 142.00 L652.28 142.65 L653.03 142.52 L653.77 142.64 L654.66 142.70 L655.54 142.80 L656.26 142.71 L656.98 142.41 L657.70 143.01 L658.62 143.01 L659.54 142.88 L660.45 142.95 L661.29 143.06 L662.12 142.67 L662.95 143.17 L663.78 142.86 L664.51 142.76 L665.25 142.91 L665.98 143.26 L666.72 142.91 L667.45 143.31 L668.21 143.49 L668.97 143.17 L669.73 143.11 L670.49 143.20 L671.25 143.36 L671.99 143.43 L672.73 143.35 L673.47 143.38 L674.21 143.00 L674.95 143.07 L675.79 143.16 L676.63 143.52 L677.48 143.23 L678.32 143.44 L679.03 143.06 L679.73 143.11 L680.44 143.27 L681.15 143.57 L682.17 143.61 L683.20 143.62" fill="none" stroke="#b68a35" stroke-width="0.9" stroke-linejoin="round"/>
<path d="M262.80 143.01 L264.15 143.62 L265.09 143.12 L266.02 143.61 L266.76 143.25 L267.51 143.43 L268.25 144.02 L269.07 143.54 L269.88 143.91 L270.69 143.85 L271.53 143.91 L272.36 143.99 L273.19 143.84 L273.99 144.32 L274.79 143.83 L275.59 143.97 L276.31 143.82 L277.03 143.99 L277.75 144.08 L278.62 144.36 L279.50 143.92 L280.87 143.43 L282.00 143.12 L282.96 143.12 L283.78 141.88 L284.53 141.63 L285.24 140.78 L285.99 140.29 L286.80 139.39 L287.66 138.95 L288.50 138.11 L289.33 137.49 L290.14 136.91 L290.96 135.90 L291.77 134.78 L292.58 133.88 L293.40 133.61 L294.23 132.34 L295.07 131.09 L295.91 130.53 L296.75 129.16 L297.58 128.17 L298.41 127.22 L299.21 125.83 L300.00 125.01 L300.76 124.62 L301.49 123.40 L302.20 123.20 L302.90 122.15 L303.60 122.03 L304.31 121.55 L305.04 121.27 L305.80 120.77 L306.58 120.12 L307.36 119.51 L308.15 119.10 L308.96 119.04 L309.79 118.77 L310.63 118.29 L311.50 118.82 L312.40 118.61 L313.34 118.95 L314.32 118.95 L315.33 119.42 L316.36 119.79 L317.39 120.63 L318.42 121.22 L319.42 122.00 L320.40 122.64 L321.35 123.66 L322.27 124.45 L323.19 124.75 L324.09 125.73 L324.99 126.43 L325.89 127.65 L326.79 128.75 L327.70 129.09 L328.61 130.40 L329.52 131.05 L330.44 131.85 L331.35 133.38 L332.26 134.08 L333.18 134.90 L334.09 135.97 L335.00 136.61 L335.92 137.44 L336.86 138.11 L337.80 138.67 L338.74 139.33 L339.67 139.61 L340.58 139.93 L341.46 140.33 L342.30 140.72 L343.09 141.36 L343.83 141.56 L344.54 142.14 L345.23 142.15 L345.91 142.48 L346.61 142.81 L347.33 142.26 L348.10 142.26 L348.86 142.33 L349.57 142.43 L350.27 142.44 L351.00 142.39 L351.80 141.91 L352.71 142.09 L353.76 141.15 L355.00 141.43 L355.70 140.80 L356.41 141.08 L357.17 140.23 L357.94 140.62 L358.76 140.19 L359.59 140.06 L360.48 139.47 L361.36 138.89 L362.31 139.17 L363.25 138.52 L364.25 138.04 L365.26 138.18 L365.96 138.00 L366.67 137.88 L367.37 137.56 L368.12 137.50 L368.86 137.79 L369.60 137.67 L370.40 137.49 L371.19 137.76 L371.99 138.01 L372.85 138.13 L373.70 138.08 L374.56 138.15 L375.47 138.30 L376.37 138.38 L377.28 138.54 L377.98 138.87 L378.69 138.78 L379.39 139.37 L380.09 139.51 L380.81 139.61 L381.53 139.36 L382.25 139.77 L382.97 139.98 L383.69 139.90 L384.41 140.67 L385.13 140.68 L385.85 140.66 L386.57 140.94 L387.28 140.72 L388.00 140.87 L388.71 141.22 L389.41 141.47 L390.11 141.50 L390.80 141.15 L391.50 141.68 L392.20 141.96 L392.91 141.91 L393.61 142.11 L394.32 142.22 L395.05 141.75 L395.78 141.86 L396.52 142.09 L397.25 142.45 L397.99 142.07 L398.74 142.52 L399.48 142.50 L400.23 142.32 L400.97 142.43 L401.70 142.70 L402.44 142.61 L403.18 142.31 L403.90 142.72 L404.61 142.29 L405.33 142.43 L406.04 142.87 L406.95 142.81 L407.85 142.46 L408.75 142.46 L409.57 142.69 L410.40 142.86 L411.22 142.75 L411.95 142.92 L412.67 142.77 L413.40 142.82 L414.31 142.64 L415.21 142.43 L415.96 142.41 L416.70 142.38 L417.95 142.22 L419.04 142.22 L420.07 141.57 L421.11 141.16 L422.26 141.34 L423.60 140.74 L424.37 140.70 L425.14 140.35 L425.97 140.70 L426.79 140.17 L427.66 140.02 L428.53 140.23 L429.41 139.85 L430.29 139.53 L431.17 139.79 L432.05 139.28 L432.90 139.07 L433.75 139.31 L434.55 139.00 L435.34 138.77 L436.07 138.23 L436.80 138.42 L438.10 137.85 L439.27 137.58 L440.36 136.82 L441.38 136.64 L442.38 136.16 L443.37 135.36 L444.40 134.99 L445.50 134.50 L446.63 134.02 L447.77 133.31 L448.91 132.52 L450.07 131.35 L451.25 130.93 L451.85 130.60 L452.46 129.80 L453.08 129.67 L453.71 129.56 L454.35 129.18 L455.00 128.80 L455.68 127.81 L456.37 127.76 L457.09 127.52 L457.81 126.95 L458.56 126.29 L459.30 125.66 L460.06 125.83 L460.82 125.35 L461.58 124.76 L462.33 124.11 L463.08 123.97 L463.82 123.50 L464.54 122.97 L465.25 122.42 L465.93 121.75 L466.60 121.26 L467.23 120.82 L467.86 120.32 L468.47 119.97 L469.07 119.20 L469.65 119.14 L470.23 118.38 L470.79 117.75 L471.35 117.32 L471.90 116.90 L472.46 116.41 L473.01 116.13 L473.56 115.13 L474.11 114.67 L474.67 114.18 L475.23 113.54 L475.80 113.37 L476.38 112.33 L476.96 111.68 L477.54 111.39 L478.12 110.87 L478.71 110.26 L479.29 109.40 L479.88 108.56 L480.46 108.27 L481.04 107.49 L481.62 106.64 L482.20 106.06 L482.77 105.67 L483.33 105.12 L483.90 104.47 L484.45 103.38 L485.00 102.98 L485.54 102.56 L486.09 101.92 L487.16 101.47 L488.23 100.19 L489.27 100.05 L490.30 99.16 L491.30 98.55 L492.27 97.82 L493.20 97.61 L494.08 96.85 L494.91 96.67 L495.69 96.36 L496.46 95.88 L497.21 95.77 L497.98 95.05 L498.77 94.50 L499.60 94.24 L500.47 93.28 L501.36 92.28 L502.27 91.61 L503.19 90.48 L504.12 89.22 L505.05 88.71 L505.98 87.51 L506.90 86.93 L507.81 85.79 L508.72 85.28 L509.63 84.06 L510.54 83.25 L511.46 82.71 L512.37 82.09 L513.28 81.31 L514.20 80.30 L515.11 79.00 L516.01 78.20 L516.90 76.94 L517.80 76.13 L518.71 75.47 L519.18 74.52 L519.64 74.24 L520.12 73.66 L520.60 72.79 L521.10 72.65 L521.60 71.71 L522.13 71.25 L522.66 70.99 L523.23 70.11 L523.80 70.14 L524.39 69.19 L524.98 68.76 L525.57 68.42 L526.17 67.26 L526.76 67.33 L527.35 66.11 L527.91 65.99 L528.48 65.52 L529.01 65.29 L529.54 64.39 L530.50 64.01 L531.34 63.16 L532.07 62.50 L532.73 61.85 L533.35 61.53 L533.96 61.32 L534.58 61.03 L535.25 60.78 L536.00 60.82 L536.83 60.23 L537.70 60.14 L538.61 59.47 L539.54 59.32 L540.48 59.53 L541.43 59.53 L542.38 59.06 L543.30 58.87 L544.21 59.10 L545.12 59.35 L546.03 59.58 L546.94 59.99 L547.86 60.13 L548.77 60.73 L549.68 61.20 L550.60 61.60 L551.52 62.01 L552.45 62.40 L553.37 62.73 L554.30 63.71 L555.23 63.90 L556.15 64.86 L557.08 65.10 L558.00 65.69 L558.92 65.99 L559.83 66.42 L560.74 66.49 L561.66 66.92 L562.57 67.31 L563.48 67.37 L564.39 67.91 L565.30 68.27 L566.21 68.84 L567.12 69.42 L568.03 70.23 L568.94 71.08 L569.86 71.45 L570.77 72.17 L571.68 73.36 L572.60 73.51 L573.52 74.60 L574.45 75.11 L575.37 75.24 L576.30 76.03 L577.23 76.28 L578.15 77.29 L579.08 77.45 L580.00 78.13 L580.92 78.95 L581.83 80.41 L582.29 80.59 L582.74 81.20 L583.20 82.22 L583.66 82.61 L584.11 83.17 L584.57 83.62 L585.02 84.21 L585.48 84.31 L586.39 85.90 L587.30 86.48 L588.21 87.66 L589.12 88.10 L590.04 89.15 L590.95 89.17 L591.86 90.49 L592.77 90.51 L593.69 91.44 L594.60 92.09 L595.54 93.13 L596.52 93.64 L597.52 94.53 L598.51 95.18 L599.46 95.54 L600.36 96.03 L601.18 96.70 L601.90 97.75 L602.47 98.55 L602.91 98.96 L603.26 99.34 L603.56 100.11 L603.85 100.74 L604.17 101.04 L604.57 101.94 L605.10 102.19 L605.76 102.71 L606.53 103.44 L607.38 104.47 L608.26 105.34 L609.14 105.68 L610.00 106.38 L610.80 107.04 L611.50 107.03 L612.10 107.31 L612.64 107.28 L613.12 106.93 L613.57 106.50 L614.00 106.50 L614.44 106.18 L614.90 105.55 L615.40 105.82 L615.93 105.58 L616.48 105.58 L617.04 105.37 L617.61 105.05 L618.19 105.16 L618.76 104.93 L619.33 105.36 L619.90 105.31 L620.45 106.05 L620.98 106.91 L621.50 108.07 L622.03 108.92 L622.57 110.11 L623.14 111.11 L623.75 112.16 L624.40 112.78 L625.12 113.58 L625.90 114.26 L626.72 114.85 L627.56 116.00 L628.41 116.58 L629.25 116.96 L630.05 117.68 L630.80 118.30 L631.50 119.29 L632.17 119.84 L632.81 120.19 L633.43 121.13 L634.04 121.58 L634.66 121.83 L635.27 122.32 L635.90 122.94 L636.53 122.41 L637.14 122.36 L637.76 122.36 L638.37 122.22 L638.99 121.96 L639.63 121.34 L640.30 121.45 L641.00 121.03 L641.74 121.43 L642.51 122.08 L643.30 122.37 L644.12 122.70 L644.94 123.34 L645.77 123.81 L646.59 124.41 L647.40 125.17 L648.20 125.78 L649.00 125.84 L649.80 126.87 L650.59 127.65 L651.39 128.03 L652.19 128.53 L653.00 128.93 L653.80 129.39 L654.61 129.73 L655.42 129.93 L656.23 129.69 L657.05 130.37 L657.87 129.88 L658.68 130.06 L659.49 129.80 L660.30 130.09 L661.10 129.65 L661.91 129.70 L662.71 129.56 L663.51 129.33 L664.30 129.30 L665.10 128.99 L665.90 129.24 L666.70 129.61 L667.50 129.80 L668.30 130.48 L669.10 130.99 L669.90 131.27 L670.70 131.90 L671.50 132.76 L672.30 133.48 L673.10 133.83 L673.92 134.51 L674.76 135.18 L675.62 135.73 L676.47 136.39 L677.30 136.93 L678.09 137.52 L678.83 137.98 L679.50 138.51 L680.12 138.20 L680.70 138.17 L681.25 138.61 L681.75 138.14 L682.20 138.05 L682.60 137.98 L682.93 137.67 L683.20 137.45" fill="none" stroke="#e8676d" stroke-width="0.9" stroke-linejoin="round"/>
<line x1="312.40" y1="115.00" x2="312.40" y2="147.00" stroke="#444" stroke-width="0.8" stroke-dasharray="0.9 2.2"/>
<line x1="369.60" y1="132.00" x2="369.60" y2="147.00" stroke="#444" stroke-width="0.8" stroke-dasharray="0.9 2.2"/>
<line x1="462.60" y1="79.30" x2="462.60" y2="147.00" stroke="#444" stroke-width="0.8" stroke-dasharray="0.9 2.2"/>
<line x1="492.60" y1="72.00" x2="492.60" y2="147.00" stroke="#444" stroke-width="0.8" stroke-dasharray="0.9 2.2"/>
<line x1="543.30" y1="57.20" x2="543.30" y2="147.00" stroke="#444" stroke-width="0.8" stroke-dasharray="0.9 2.2"/>
<line x1="265.70" y1="16.30" x2="281.50" y2="16.30" stroke="#3a6fd6" stroke-width="1.1"/>
<text transform="translate(283.70 19.20) scale(0.9473 1) translate(0.00 0)" font-size="8.261" fill="#222" stroke="#222" stroke-width="0.15">24 h</text>
<line x1="265.70" y1="28.85" x2="281.50" y2="28.85" stroke="#9ccfd8" stroke-width="1.1"/>
<text transform="translate(283.70 31.75) scale(0.9473 1) translate(0.00 0)" font-size="8.261" fill="#222" stroke="#222" stroke-width="0.15">48 h</text>
<line x1="265.70" y1="41.40" x2="281.50" y2="41.40" stroke="#6cc6e8" stroke-width="1.1"/>
<text transform="translate(283.70 44.30) scale(0.9473 1) translate(0.00 0)" font-size="8.261" fill="#222" stroke="#222" stroke-width="0.15">72 h</text>
<line x1="265.70" y1="53.95" x2="281.50" y2="53.95" stroke="#f9c74f" stroke-width="1.1"/>
<text transform="translate(283.70 56.85) scale(0.9473 1) translate(0.00 0)" font-size="8.261" fill="#222" stroke="#222" stroke-width="0.15">84 h</text>
<line x1="265.70" y1="66.50" x2="281.50" y2="66.50" stroke="#b8913a" stroke-width="1.1"/>
<text transform="translate(283.70 69.40) scale(0.9473 1) translate(0.00 0)" font-size="8.261" fill="#222" stroke="#222" stroke-width="0.15">96 h</text>
<line x1="265.70" y1="79.05" x2="281.50" y2="79.05" stroke="#eea0a0" stroke-width="1.1"/>
<text transform="translate(283.70 81.95) scale(0.9736 1) translate(0.00 0)" font-size="8.261" fill="#222" stroke="#222" stroke-width="0.15">120 h</text>
<text transform="translate(329.00 25.00) scale(0.9498 1) translate(0.00 0)" font-size="8.841" fill="#222" stroke="#222" stroke-width="0.15">λ<tspan font-size="60%" dy="1.8">ex</tspan><tspan dy="-1.8">=450 nm</tspan></text>
<text transform="translate(335.00 79.20) scale(1.0122 1) translate(0.00 0)" font-size="8.261" fill="#3636cc" stroke="#3636cc" stroke-width="0.15">Quinoid</text>
<text transform="translate(320.40 94.60) scale(0.9555 1) translate(0.00 0)" font-size="8.551" fill="#3636cc" stroke="#3636cc" stroke-width="0.15">Singlet emission</text>
<text transform="translate(298.30 109.80) scale(0.9784 1) translate(0.00 0)" font-size="8.551" fill="#3636cc" stroke="#3636cc" stroke-width="0.15">540 nm</text>
<text transform="translate(356.30 127.40) scale(0.9784 1) translate(0.00 0)" font-size="8.551" fill="#3636cc" stroke="#3636cc" stroke-width="0.15">585 nm</text>
<text transform="translate(447.70 73.90) scale(1.0179 1) translate(0.00 0)" font-size="8.406" fill="#f7bd2e" stroke="#f7bd2e" stroke-width="0.15">654 nm</text>
<text transform="translate(480.60 65.10) scale(0.9893 1) translate(0.00 0)" font-size="8.406" fill="#b08a30" stroke="#b08a30" stroke-width="0.15">677 nm</text>
<text transform="translate(528.90 51.90) scale(0.9557 1) translate(0.00 0)" font-size="8.696" fill="#d22f3c" stroke="#d22f3c" stroke-width="0.15">729 nm</text>
<text transform="translate(489.90 22.80) scale(0.9707 1) translate(0.00 0)" font-size="8.406" fill="#d22f3c" stroke="#d22f3c" stroke-width="0.15">D-Q hybrid</text>
<text transform="translate(466.00 37.40) scale(0.9819 1) translate(0.00 0)" font-size="8.406" fill="#d22f3c" stroke="#d22f3c" stroke-width="0.15">Upconversion emission</text>
<text transform="translate(602.80 24.30) scale(1.0043 1) translate(0.00 0)" font-size="8.261" fill="#2a2a2a" stroke="#2a2a2a" stroke-width="0.15">Self-assembly time</text>
<line x1="614.30" y1="32.90" x2="657.50" y2="32.90" stroke="#333" stroke-width="1.1"/>
<polygon points="656.0,31.1 661.6,32.9 656.0,34.7" fill="#222"/>
<path d="M30.60 323.58 L31.36 323.64 L32.12 323.83 L32.88 323.62 L33.68 323.66 L34.49 323.72 L35.29 323.54 L36.09 323.73 L36.86 323.81 L37.63 323.92 L38.40 323.59 L39.17 323.72 L39.94 323.63 L40.78 324.01 L41.61 323.97 L42.44 323.67 L43.28 324.16 L44.11 324.17 L44.95 324.02 L45.79 324.02 L46.63 323.80 L47.46 323.74 L48.30 324.00 L49.08 323.76 L49.86 323.82 L50.64 323.84 L51.42 323.73 L52.20 323.94 L53.03 323.89 L53.85 324.05 L54.68 323.85 L55.50 323.88 L56.30 323.70 L57.10 323.68 L57.90 323.48 L58.64 323.21 L59.38 323.38 L60.23 323.03 L60.59 322.55 L60.61 321.96 L60.43 321.06 L60.19 320.07 L60.03 318.83 L60.07 317.90 L60.10 317.43 L60.21 316.22 L60.32 315.41 L60.39 314.37 L60.46 313.84 L60.53 312.97 L60.59 311.63 L60.65 310.82 L60.72 310.25 L60.76 309.28 L60.81 308.78 L60.85 307.74 L60.90 306.83 L60.94 306.31 L60.99 305.59 L61.03 304.54 L61.08 303.66 L61.12 302.96 L61.16 302.45 L61.21 301.52 L61.25 300.38 L61.29 299.61 L61.34 298.70 L61.38 297.84 L61.42 297.37 L61.47 296.23 L61.51 295.59 L61.56 294.70 L61.60 293.75 L61.64 293.18 L61.69 292.04 L61.73 291.46 L61.78 290.36 L61.82 289.66 L61.87 288.69 L61.91 287.86 L61.96 287.35 L61.99 286.56 L62.03 285.60 L62.06 285.18 L62.10 284.14 L62.13 283.52 L62.17 283.03 L62.20 282.20 L62.24 281.20 L62.27 280.92 L62.31 279.81 L62.34 279.09 L62.38 278.60 L62.41 277.64 L62.44 276.88 L62.48 276.02 L62.51 275.27 L62.55 274.76 L62.58 273.83 L62.62 273.25 L62.65 272.37 L62.69 271.64 L62.72 271.11 L62.76 270.10 L62.79 269.37 L62.83 268.74 L62.86 267.61 L62.90 266.80 L62.93 266.39 L62.97 265.55 L63.00 264.47 L63.04 263.62 L63.07 263.08 L63.11 262.36 L63.14 261.17 L63.18 260.72 L63.21 259.98 L63.24 259.13 L63.27 258.32 L63.30 257.45 L63.33 256.71 L63.36 256.46 L63.39 255.36 L63.42 254.86 L63.45 253.90 L63.48 253.46 L63.51 252.61 L63.54 251.73 L63.57 250.92 L63.60 250.45 L63.63 249.38 L63.66 248.72 L63.69 248.14 L63.72 247.54 L63.75 246.68 L63.78 245.77 L63.81 245.34 L63.84 244.24 L63.87 243.40 L63.90 242.78 L63.93 242.14 L63.96 241.21 L63.99 240.53 L64.02 239.89 L64.05 239.25 L64.08 238.29 L64.11 237.69 L64.13 237.23 L64.16 236.56 L64.19 235.68 L64.22 234.98 L64.24 234.20 L64.28 233.15 L64.31 232.26 L64.34 231.42 L64.37 231.04 L64.40 230.10 L64.42 229.51 L64.45 228.32 L64.47 227.91 L64.50 227.12 L64.52 226.52 L64.54 225.60 L64.57 225.16 L64.59 223.92 L64.61 223.38 L64.64 222.70 L64.66 222.01 L64.68 221.15 L64.70 220.34 L64.72 219.59 L64.74 218.86 L64.77 217.79 L64.79 217.16 L64.81 216.48 L64.83 215.70 L64.85 214.70 L64.87 214.12 L64.89 213.39 L64.91 212.48 L64.93 211.74 L64.95 210.91 L64.97 210.31 L64.99 209.62 L65.01 208.66 L65.03 208.23 L65.05 207.71 L65.07 206.93 L65.10 206.14 L65.12 205.26 L65.14 204.71 L65.17 203.92 L65.21 202.95 L65.24 202.25 L65.28 200.97 L65.34 200.51 L65.40 199.36 L65.52 199.32 L65.63 200.00 L65.68 200.67 L65.74 201.70 L65.77 202.34 L65.81 203.15 L65.84 204.05 L65.88 204.61 L65.92 205.37 L65.95 206.41 L65.98 207.32 L66.01 207.81 L66.04 208.51 L66.06 209.60 L66.09 210.21 L66.12 210.82 L66.15 211.77 L66.18 212.22 L66.22 213.28 L66.26 213.95 L66.30 214.97 L66.34 216.08 L66.39 217.05 L66.43 217.96 L66.47 218.50 L66.50 219.39 L66.54 220.05 L66.58 220.74 L66.61 221.78 L66.65 222.80 L66.69 223.65 L66.72 224.44 L66.75 225.26 L66.78 225.62 L66.81 226.27 L66.84 227.11 L66.88 227.73 L66.91 228.56 L66.95 229.53 L66.99 230.50 L67.02 231.30 L67.06 232.03 L67.09 233.11 L67.13 234.00 L67.16 234.56 L67.19 235.10 L67.23 235.82 L67.26 236.98 L67.29 237.30 L67.33 238.46 L67.36 239.21 L67.40 239.90 L67.44 241.09 L67.48 241.65 L67.53 243.09 L67.57 244.30 L67.60 244.95 L67.64 246.20 L67.69 246.88 L67.77 248.10 L67.84 248.91 L67.90 250.06 L67.96 250.70 L68.02 251.52 L68.07 252.25 L68.15 253.16 L68.22 254.06 L68.29 254.75 L68.37 255.41 L68.45 256.46 L68.53 257.21 L68.60 257.85 L68.66 258.80 L68.73 259.64 L68.79 260.10 L68.86 260.89 L68.93 261.67 L69.00 262.59 L69.06 263.24 L69.13 264.04 L69.19 264.86 L69.26 265.42 L69.33 266.37 L69.39 267.17 L69.45 267.49 L69.51 268.65 L69.58 269.28 L69.63 269.69 L69.69 270.56 L69.74 271.36 L69.80 272.20 L69.87 272.87 L69.93 273.90 L70.00 274.98 L70.04 275.65 L70.09 276.44 L70.14 276.92 L70.18 277.73 L70.23 278.22 L70.27 279.20 L70.31 279.97 L70.36 280.61 L70.40 281.36 L70.44 281.83 L70.48 282.89 L70.52 283.65 L70.57 284.35 L70.61 284.83 L70.65 285.66 L70.69 286.13 L70.74 287.33 L70.80 288.21 L70.85 288.86 L70.91 289.58 L70.97 290.62 L71.02 291.53 L71.08 292.44 L71.14 293.10 L71.20 293.66 L71.26 294.80 L71.32 295.17 L71.38 296.28 L71.44 296.67 L71.49 297.46 L71.55 298.39 L71.64 299.06 L71.72 300.07 L71.81 301.20 L71.90 302.24 L71.99 303.19 L72.08 304.00 L72.18 304.97 L72.27 305.58 L72.38 306.58 L72.48 306.93 L72.59 307.73 L72.70 308.61 L72.93 309.83 L73.15 311.26 L73.38 312.32 L73.62 313.25 L73.88 314.31 L74.18 314.99 L74.51 315.61 L74.90 316.34 L75.32 317.18 L75.78 317.69 L76.26 317.74 L76.78 318.39 L77.34 318.74 L77.94 318.77 L78.60 319.06 L79.30 319.15 L80.04 319.61 L80.82 319.86 L81.63 320.16 L82.49 320.11 L83.41 320.81 L84.40 320.80 L85.46 320.95 L86.60 321.35 L87.85 321.43 L89.22 321.58 L89.94 321.77 L90.67 321.55 L91.42 321.87 L92.17 321.89 L92.95 322.24 L93.72 322.30 L94.50 322.05 L95.27 322.22 L96.04 322.12 L96.81 322.34 L97.55 322.60 L98.30 322.70 L99.11 322.60 L98.99 322.61 L98.50 322.63 L98.19 322.91 L98.63 323.13 L99.50 322.76 L100.37 323.11 L101.09 322.75 L101.82 322.84 L102.54 322.87 L103.26 323.12 L103.98 322.95 L104.73 322.97 L105.48 323.11 L106.24 322.86 L106.99 323.18 L107.74 322.89 L108.49 323.09 L109.25 322.97 L110.00 322.95 L110.73 323.12 L111.47 323.08 L112.20 323.05 L112.94 323.08 L113.67 323.14 L114.41 322.96 L115.14 322.99 L115.87 323.21 L116.61 323.22 L117.34 323.17 L118.08 323.34 L118.81 323.22 L119.55 323.35 L120.27 323.04 L120.99 323.30 L121.71 323.34 L122.44 323.39 L123.16 323.10 L123.88 323.10 L124.61 323.41 L125.33 323.06 L126.05 323.46 L126.77 323.41 L127.50 323.03 L128.22 323.09 L128.94 323.34 L129.67 323.11 L130.39 323.03 L131.11 323.40 L131.83 323.20 L132.56 323.39 L133.29 323.06 L134.01 323.20 L134.74 323.35 L135.47 323.02 L136.20 323.11 L136.93 323.36 L137.65 323.47 L138.38 323.51 L139.11 323.08 L139.84 323.28 L140.57 323.41 L141.29 323.29 L142.02 323.38 L142.75 323.14 L143.48 323.08 L144.21 323.10 L144.93 323.07 L145.66 323.33 L146.39 323.32 L147.12 323.35 L147.85 323.14 L148.56 323.16 L149.27 323.17 L149.98 323.50 L150.70 323.57 L151.41 323.55 L152.12 323.13 L152.83 323.12 L153.55 323.57 L154.26 323.33 L154.97 323.48 L155.68 323.26 L156.40 323.34 L157.11 323.36 L157.82 323.32 L158.53 323.41 L159.24 323.12 L159.96 323.47 L160.67 323.54 L161.38 323.22 L162.09 323.36 L162.81 323.50 L163.52 323.34 L164.23 323.24 L164.94 323.22 L165.65 323.40 L166.36 323.15 L167.06 323.60 L167.77 323.55 L168.48 323.51 L169.19 323.59 L169.90 323.48 L170.61 323.37 L171.32 323.47 L172.02 323.42 L172.73 323.66 L173.44 323.58 L174.15 323.31 L174.86 323.64 L175.57 323.56 L176.27 323.58 L176.98 323.60 L177.69 323.39 L178.40 323.64 L179.11 323.64 L179.82 323.55 L180.52 323.59 L181.24 323.59 L181.95 323.41 L182.67 323.57 L183.38 323.25 L184.10 323.39 L184.81 323.45 L185.53 323.23 L186.24 323.40 L186.96 323.55 L187.67 323.54 L188.39 323.35 L189.10 323.71 L189.82 323.57 L190.53 323.41 L191.25 323.58 L191.96 323.53 L192.68 323.52 L193.39 323.45 L194.11 323.76 L194.82 323.58 L195.54 323.61 L196.28 323.65 L197.02 323.76 L197.76 323.28 L198.49 323.58 L199.23 323.65 L199.97 323.41 L200.71 323.48 L201.45 323.31 L202.19 323.39 L202.92 323.48 L203.66 323.34 L204.40 323.42 L205.14 323.75 L205.88 323.58 L206.62 323.56 L207.36 323.79 L208.09 323.60 L208.84 323.81 L209.58 323.64 L210.32 323.73 L211.06 323.36 L211.80 323.63 L212.55 323.71 L213.29 323.36 L214.03 323.80 L214.77 323.42 L215.52 323.58 L216.26 323.43 L217.00 323.60" fill="none" stroke="#262626" stroke-width="0.8" stroke-linejoin="round"/>
<path d="M30.60 323.58 L31.36 323.71 L32.12 323.72 L32.88 323.42 L33.68 323.36 L34.49 323.60 L35.29 323.57 L36.09 323.91 L36.86 323.86 L37.63 323.83 L38.40 323.83 L39.17 323.91 L39.94 323.63 L40.78 323.82 L41.61 323.68 L42.44 324.14 L43.28 323.65 L44.11 324.13 L44.95 323.69 L45.79 324.07 L46.63 323.87 L47.46 323.92 L48.30 324.19 L49.08 323.69 L49.86 323.71 L50.64 324.22 L51.42 323.97 L52.20 323.71 L53.03 324.21 L53.85 324.15 L54.68 323.61 L55.50 323.76 L56.30 323.48 L57.10 323.49 L57.90 323.57 L58.64 323.12 L59.38 323.25 L60.23 322.51 L60.59 322.18 L60.61 322.05 L60.43 321.09 L60.19 320.15 L60.03 319.00 L60.07 318.11 L60.10 317.23 L60.21 315.99 L60.32 315.37 L60.39 314.71 L60.46 313.90 L60.53 312.90 L60.59 311.79 L60.65 310.88 L60.72 310.16 L60.76 309.40 L60.81 308.31 L60.85 307.63 L60.90 306.96 L60.94 306.26 L60.99 305.64 L61.03 304.66 L61.08 303.58 L61.12 303.23 L61.16 302.17 L61.21 301.40 L61.25 300.40 L61.29 299.69 L61.34 298.83 L61.38 298.22 L61.42 296.99 L61.47 296.42 L61.51 295.37 L61.56 294.85 L61.60 293.62 L61.64 292.93 L61.69 292.13 L61.73 291.47 L61.78 290.29 L61.82 289.67 L61.87 288.66 L61.91 287.84 L61.96 287.10 L61.99 286.68 L62.03 285.69 L62.06 285.27 L62.10 284.09 L62.13 283.83 L62.17 282.77 L62.20 281.94 L62.24 281.55 L62.27 280.92 L62.31 279.65 L62.34 279.07 L62.38 278.63 L62.41 277.63 L62.44 276.82 L62.48 275.94 L62.51 275.20 L62.55 274.79 L62.58 274.25 L62.62 273.49 L62.65 272.44 L62.69 271.37 L62.72 270.78 L62.76 270.28 L62.79 269.53 L62.83 268.64 L62.86 267.60 L62.90 266.99 L62.93 266.17 L62.97 265.47 L63.00 264.46 L63.04 264.05 L63.07 263.20 L63.11 261.94 L63.14 261.19 L63.18 260.72 L63.21 259.65 L63.24 259.34 L63.27 258.37 L63.30 257.77 L63.33 257.06 L63.36 256.05 L63.39 255.36 L63.42 254.61 L63.45 254.14 L63.48 253.41 L63.51 252.34 L63.54 252.06 L63.57 251.04 L63.60 250.19 L63.63 249.56 L63.66 249.14 L63.69 248.15 L63.72 247.44 L63.75 246.88 L63.78 246.16 L63.81 245.29 L63.84 244.34 L63.87 243.70 L63.90 243.14 L63.93 242.34 L63.96 241.47 L63.99 240.60 L64.02 239.87 L64.05 239.36 L64.08 238.52 L64.11 237.47 L64.13 237.17 L64.16 236.56 L64.19 235.78 L64.22 235.12 L64.24 234.41 L64.28 233.35 L64.31 232.67 L64.34 231.59 L64.37 230.59 L64.40 229.91 L64.42 229.17 L64.45 228.82 L64.47 227.96 L64.50 227.15 L64.52 226.48 L64.54 225.46 L64.57 224.93 L64.59 224.25 L64.61 223.30 L64.64 222.43 L64.66 221.75 L64.68 220.93 L64.70 220.35 L64.72 219.23 L64.74 218.41 L64.77 217.75 L64.79 217.19 L64.81 216.44 L64.83 215.61 L64.85 215.01 L64.87 213.90 L64.89 212.93 L64.91 212.44 L64.93 211.64 L64.95 210.78 L64.97 210.37 L64.99 209.47 L65.01 208.71 L65.03 208.06 L65.05 207.73 L65.07 206.45 L65.10 205.95 L65.12 205.18 L65.14 204.42 L65.17 203.84 L65.21 202.81 L65.24 202.33 L65.28 201.18 L65.34 200.51 L65.40 199.40 L65.52 199.25 L65.63 200.07 L65.68 201.01 L65.74 201.45 L65.77 202.32 L65.81 203.30 L65.84 204.04 L65.88 204.56 L65.92 205.64 L65.95 206.67 L65.98 207.17 L66.01 208.06 L66.04 208.78 L66.06 209.69 L66.09 210.16 L66.12 210.96 L66.15 211.49 L66.18 212.44 L66.22 213.10 L66.26 214.10 L66.30 214.92 L66.34 215.81 L66.39 216.63 L66.43 217.60 L66.47 218.58 L66.50 219.20 L66.54 219.86 L66.58 221.11 L66.61 221.65 L66.65 222.89 L66.69 223.54 L66.72 224.26 L66.75 225.26 L66.78 225.97 L66.81 226.33 L66.84 226.91 L66.88 227.92 L66.91 228.91 L66.95 229.63 L66.99 230.61 L67.02 231.25 L67.06 232.19 L67.09 232.80 L67.13 233.70 L67.16 234.51 L67.19 235.25 L67.23 235.99 L67.26 236.97 L67.29 237.33 L67.33 238.17 L67.36 239.03 L67.40 240.28 L67.44 240.96 L67.48 241.62 L67.53 243.47 L67.57 244.55 L67.60 245.38 L67.64 245.95 L67.69 247.15 L67.77 248.16 L67.84 248.92 L67.90 250.22 L67.96 250.93 L68.02 251.28 L68.07 252.40 L68.15 252.72 L68.22 253.72 L68.29 254.37 L68.37 255.37 L68.45 256.27 L68.53 257.50 L68.60 257.97 L68.66 258.63 L68.73 259.35 L68.79 260.14 L68.86 261.22 L68.93 261.81 L69.00 262.25 L69.06 263.34 L69.13 264.00 L69.19 264.70 L69.26 265.49 L69.33 266.32 L69.39 267.14 L69.45 267.70 L69.51 268.52 L69.58 269.15 L69.63 269.96 L69.69 270.52 L69.74 271.24 L69.80 272.01 L69.87 273.06 L69.93 273.73 L70.00 275.05 L70.04 275.50 L70.09 276.43 L70.14 277.05 L70.18 277.92 L70.23 278.48 L70.27 279.05 L70.31 279.76 L70.36 280.60 L70.40 281.41 L70.44 282.17 L70.48 282.47 L70.52 283.14 L70.57 283.87 L70.61 284.56 L70.65 285.25 L70.69 285.92 L70.74 286.97 L70.80 287.80 L70.85 289.04 L70.91 289.86 L70.97 290.93 L71.02 291.78 L71.08 292.45 L71.14 293.37 L71.20 293.62 L71.26 294.48 L71.32 295.64 L71.38 296.12 L71.44 296.67 L71.49 297.70 L71.55 298.21 L71.64 299.29 L71.72 300.16 L71.81 301.06 L71.90 301.92 L71.99 303.13 L72.08 304.22 L72.18 305.08 L72.27 305.78 L72.38 306.66 L72.48 307.09 L72.59 307.76 L72.70 308.85 L72.93 309.95 L73.15 311.13 L73.38 311.75 L73.62 312.77 L73.88 313.73 L74.18 314.62 L74.51 315.35 L74.90 315.95 L75.32 316.28 L75.78 316.78 L76.26 317.46 L76.78 317.87 L77.34 317.87 L77.94 317.96 L78.60 318.49 L79.30 318.72 L80.04 318.91 L80.82 319.10 L81.63 319.44 L82.49 319.82 L83.41 319.75 L84.40 320.22 L85.46 320.67 L86.60 320.75 L87.85 320.65 L89.22 320.93 L89.94 320.83 L90.67 321.30 L91.42 321.33 L92.17 321.13 L92.95 321.44 L93.72 321.55 L94.50 321.61 L95.27 321.57 L96.04 321.59 L96.81 321.69 L97.55 322.14 L98.30 321.80 L99.11 322.01 L98.99 322.06 L98.50 321.96 L98.19 322.15 L98.63 322.09 L99.50 322.19 L100.37 322.25 L101.09 322.26 L101.82 322.62 L102.54 322.25 L103.26 322.29 L103.98 322.50 L104.73 322.36 L105.48 322.44 L106.24 322.53 L106.99 322.20 L107.74 322.57 L108.49 322.24 L109.25 322.34 L110.00 322.69 L110.73 322.80 L111.47 322.62 L112.20 322.33 L112.94 322.50 L113.67 322.42 L114.41 322.76 L115.14 322.41 L115.87 322.39 L116.61 322.67 L117.34 322.68 L118.08 322.66 L118.81 322.60 L119.55 322.90 L120.27 322.60 L120.99 322.90 L121.71 322.58 L122.44 322.63 L123.16 322.58 L123.88 322.80 L124.61 322.83 L125.33 322.53 L126.05 322.71 L126.77 322.84 L127.50 322.71 L128.22 322.81 L128.94 322.80 L129.67 322.86 L130.39 322.65 L131.11 322.63 L131.83 322.47 L132.56 323.00 L133.29 322.95 L134.01 322.71 L134.74 323.07 L135.47 323.04 L136.20 322.59 L136.93 323.01 L137.65 322.77 L138.38 322.71 L139.11 322.69 L139.84 322.79 L140.57 322.58 L141.29 322.59 L142.02 322.63 L142.75 322.76 L143.48 322.67 L144.21 322.66 L144.93 323.09 L145.66 322.83 L146.39 322.90 L147.12 322.98 L147.85 323.18 L148.56 322.72 L149.27 322.78 L149.98 323.16 L150.70 323.20 L151.41 323.22 L152.12 322.98 L152.83 322.89 L153.55 322.79 L154.26 323.23 L154.97 323.15 L155.68 323.03 L156.40 323.18 L157.11 322.87 L157.82 323.04 L158.53 323.27 L159.24 322.80 L159.96 323.12 L160.67 322.86 L161.38 323.26 L162.09 323.27 L162.81 323.16 L163.52 323.04 L164.23 322.80 L164.94 323.09 L165.65 323.02 L166.36 323.05 L167.06 322.86 L167.77 323.37 L168.48 323.14 L169.19 323.17 L169.90 323.35 L170.61 323.39 L171.32 323.19 L172.02 323.19 L172.73 323.38 L173.44 323.10 L174.15 323.42 L174.86 322.91 L175.57 323.38 L176.27 323.22 L176.98 323.29 L177.69 323.51 L178.40 323.06 L179.11 323.18 L179.82 323.42 L180.52 323.39 L181.24 323.27 L181.95 323.43 L182.67 323.37 L183.38 323.50 L184.10 323.37 L184.81 323.21 L185.53 323.17 L186.24 323.05 L186.96 323.08 L187.67 323.04 L188.39 323.61 L189.10 323.11 L189.82 323.40 L190.53 323.12 L191.25 323.63 L191.96 323.38 L192.68 323.17 L193.39 323.57 L194.11 323.59 L194.82 323.67 L195.54 323.22 L196.28 323.34 L197.02 323.50 L197.76 323.28 L198.49 323.46 L199.23 323.55 L199.97 323.58 L200.71 323.63 L201.45 323.60 L202.19 323.33 L202.92 323.62 L203.66 323.43 L204.40 323.28 L205.14 323.20 L205.88 323.56 L206.62 323.41 L207.36 323.26 L208.09 323.51 L208.84 323.47 L209.58 323.42 L210.32 323.57 L211.06 323.56 L211.80 323.57 L212.55 323.85 L213.29 323.81 L214.03 323.45 L214.77 323.80 L215.52 323.47 L216.26 323.85 L217.00 323.33" fill="none" stroke="#3c3c9c" stroke-width="0.8" stroke-linejoin="round"/>
<path d="M30.60 323.36 L31.34 323.79 L32.07 323.78 L32.81 323.95 L33.59 323.29 L34.37 323.34 L35.15 323.25 L35.93 323.34 L36.68 323.85 L37.42 323.25 L38.17 323.65 L38.92 323.33 L39.67 323.42 L40.47 323.56 L41.28 323.96 L42.09 323.74 L42.90 323.14 L43.71 323.41 L44.52 323.28 L45.34 324.00 L46.15 323.94 L46.96 323.94 L47.77 323.96 L48.52 323.87 L49.28 324.07 L50.03 323.91 L50.79 323.37 L51.54 323.96 L52.33 323.59 L53.13 323.85 L53.92 323.65 L54.72 323.50 L55.48 323.41 L56.24 323.45 L57.00 323.31 L58.37 323.04 L59.11 323.66 L59.37 323.56 L59.28 323.64 L59.00 323.19 L58.66 322.86 L58.41 322.79 L58.40 321.83 L58.55 322.06 L58.69 321.61 L58.82 321.12 L58.94 320.83 L59.07 320.67 L59.20 319.66 L59.35 318.78 L59.42 318.17 L59.50 317.20 L59.58 315.93 L59.67 315.29 L59.73 314.23 L59.79 313.43 L59.85 312.58 L59.91 311.84 L59.97 310.63 L60.04 310.29 L60.09 309.84 L60.13 308.52 L60.18 308.10 L60.23 307.56 L60.28 305.87 L60.33 305.16 L60.38 305.03 L60.43 304.26 L60.48 303.23 L60.52 301.92 L60.57 301.34 L60.62 300.97 L60.67 300.14 L60.72 299.22 L60.77 297.78 L60.81 297.59 L60.86 296.28 L60.91 295.78 L60.95 294.37 L61.00 294.37 L61.05 293.15 L61.09 292.42 L61.14 291.06 L61.18 290.62 L61.22 289.87 L61.25 289.16 L61.29 288.22 L61.33 287.87 L61.36 286.77 L61.40 285.98 L61.43 285.11 L61.47 284.89 L61.51 283.58 L61.54 282.95 L61.58 282.04 L61.61 281.86 L61.65 281.02 L61.68 280.25 L61.72 278.99 L61.75 278.63 L61.79 277.77 L61.82 276.76 L61.86 275.91 L61.89 276.15 L61.93 274.52 L61.96 273.94 L62.00 273.15 L62.03 272.73 L62.07 271.45 L62.10 271.10 L62.13 270.26 L62.17 269.99 L62.20 268.42 L62.24 268.01 L62.27 267.46 L62.30 267.21 L62.33 266.05 L62.37 265.29 L62.40 264.77 L62.44 263.53 L62.48 262.40 L62.52 262.00 L62.56 261.54 L62.60 260.51 L62.64 259.17 L62.68 258.74 L62.72 258.05 L62.76 256.61 L62.80 256.09 L62.83 255.02 L62.87 254.06 L62.91 253.26 L62.95 252.34 L62.99 251.66 L63.02 250.51 L63.06 250.04 L63.10 248.90 L63.14 248.75 L63.17 247.77 L63.21 246.35 L63.25 246.31 L63.28 244.91 L63.32 244.38 L63.35 243.65 L63.39 242.63 L63.43 241.78 L63.46 241.12 L63.50 240.02 L63.53 239.95 L63.57 238.41 L63.60 238.32 L63.63 236.92 L63.67 236.21 L63.70 235.50 L63.74 234.34 L63.77 233.63 L63.80 233.06 L63.84 232.34 L63.87 231.97 L63.90 231.28 L63.93 229.53 L63.97 229.22 L64.00 228.02 L64.03 227.90 L64.06 226.64 L64.09 226.42 L64.12 225.28 L64.16 224.10 L64.19 223.21 L64.22 222.69 L64.25 222.55 L64.28 221.10 L64.31 220.70 L64.34 219.87 L64.37 219.11 L64.41 218.65 L64.45 217.15 L64.49 216.74 L64.52 215.85 L64.56 215.28 L64.60 214.02 L64.64 213.63 L64.67 212.36 L64.71 211.71 L64.74 211.00 L64.77 210.46 L64.81 209.76 L64.84 208.26 L64.87 207.57 L64.90 207.25 L64.95 206.53 L64.99 205.26 L65.04 204.13 L65.08 203.90 L65.13 202.46 L65.18 201.47 L65.28 200.14 L65.40 199.13 L65.52 199.17 L65.64 198.21 L65.77 198.74 L65.90 199.05 L66.05 199.53 L66.20 199.83 L66.36 200.03 L66.54 200.89 L66.74 201.90 L66.96 202.81 L67.19 203.57 L67.43 205.35 L67.68 206.06 L67.93 207.63 L68.17 209.64 L68.41 210.34 L68.65 211.28 L68.88 212.93 L69.11 213.72 L69.35 214.39 L69.58 215.51 L69.81 216.83 L70.05 217.98 L70.28 219.66 L70.51 220.02 L70.75 221.67 L70.98 222.71 L71.22 223.30 L71.45 224.89 L71.68 225.66 L71.92 226.38 L72.15 227.14 L72.38 228.31 L72.62 229.72 L72.85 230.31 L73.08 230.91 L73.32 232.03 L73.55 233.05 L73.78 233.68 L74.02 234.97 L74.25 235.33 L74.49 237.01 L74.72 237.25 L74.95 238.04 L75.19 239.39 L75.42 239.96 L75.65 241.38 L75.89 241.83 L76.12 242.68 L76.35 243.82 L76.59 244.01 L76.82 245.34 L77.06 246.04 L77.29 246.60 L77.52 247.91 L77.76 247.75 L77.99 249.35 L78.22 249.39 L78.46 250.83 L78.69 250.89 L78.92 251.52 L79.16 252.69 L79.39 253.83 L79.63 253.88 L79.86 254.81 L80.09 255.63 L80.33 255.95 L80.56 256.92 L80.79 257.07 L81.03 258.18 L81.26 259.15 L81.49 259.39 L81.73 259.92 L81.96 260.39 L82.19 261.68 L82.43 262.03 L82.66 263.14 L82.90 263.58 L83.13 263.55 L83.36 264.97 L83.60 265.59 L83.83 266.06 L84.06 266.66 L84.30 267.09 L84.53 267.71 L84.76 268.22 L85.00 268.71 L85.23 268.93 L85.47 269.36 L85.70 270.49 L85.93 270.90 L86.17 270.90 L86.40 272.01 L86.63 272.50 L86.87 272.92 L87.10 273.70 L87.33 274.31 L87.57 274.32 L87.80 275.25 L88.04 275.43 L88.27 275.99 L88.50 276.31 L88.74 277.31 L88.97 277.29 L89.19 278.24 L89.38 278.03 L89.56 278.74 L89.75 279.36 L89.96 279.54 L90.20 279.69 L90.49 279.92 L90.84 280.94 L91.26 281.62 L91.74 282.86 L92.26 283.75 L92.82 284.92 L93.40 285.37 L93.99 286.30 L94.56 287.40 L95.11 288.45 L95.64 288.60 L96.18 289.53 L96.71 290.24 L97.25 291.17 L97.78 291.89 L98.31 293.28 L98.85 293.23 L99.38 294.64 L99.92 294.68 L100.45 295.25 L100.98 296.67 L101.52 296.41 L102.05 297.05 L102.59 297.67 L103.12 298.19 L103.65 299.09 L104.19 299.48 L104.72 299.97 L105.26 300.36 L105.79 301.57 L106.32 301.43 L106.86 302.11 L107.39 302.93 L107.93 303.73 L108.46 303.97 L108.99 304.47 L109.53 304.91 L110.06 305.44 L110.60 305.92 L111.13 305.63 L111.66 305.94 L112.20 306.90 L112.73 307.19 L113.27 307.57 L113.80 308.20 L114.33 307.95 L114.87 308.83 L115.40 308.90 L115.94 309.23 L116.47 309.38 L117.00 309.74 L117.54 310.35 L118.07 310.63 L118.61 311.28 L119.14 310.95 L119.67 311.67 L120.21 311.33 L120.74 312.16 L121.27 311.94 L121.81 312.89 L122.34 313.25 L122.88 312.79 L123.41 313.59 L123.94 313.24 L124.48 313.55 L125.01 313.58 L125.55 314.14 L126.08 314.02 L126.61 314.83 L127.15 314.91 L127.68 314.95 L128.22 315.44 L128.75 315.15 L129.28 315.44 L129.82 315.66 L130.35 315.48 L130.89 316.54 L131.42 315.91 L131.95 316.09 L132.49 316.95 L133.02 317.13 L133.56 316.91 L134.09 317.04 L134.62 316.91 L135.16 316.91 L135.69 317.58 L136.23 317.44 L136.76 317.48 L137.29 318.37 L137.83 317.61 L138.36 318.08 L138.90 318.59 L139.43 318.71 L139.96 318.19 L140.50 318.94 L141.03 318.87 L141.57 319.05 L142.10 319.47 L142.63 319.43 L143.17 319.33 L143.70 319.61 L144.24 319.43 L144.77 319.58 L145.30 319.94 L145.84 319.83 L146.37 319.68 L146.91 319.41 L147.44 320.27 L147.97 319.90 L148.51 320.07 L149.04 320.01 L149.58 320.35 L150.11 320.27 L150.64 320.78 L151.18 320.61 L151.71 320.65 L152.25 320.94 L152.78 320.67 L153.31 320.83 L153.85 321.11 L154.38 321.14 L154.92 321.23 L155.45 321.43 L155.98 321.16 L156.52 321.21 L157.05 320.90 L157.58 321.01 L158.12 321.26 L158.65 321.37 L159.19 321.83 L159.72 321.02 L160.25 321.38 L160.79 321.81 L161.32 321.58 L161.86 322.01 L162.39 321.37 L162.92 322.02 L163.46 321.73 L163.99 321.91 L164.53 321.44 L165.06 321.82 L165.59 322.26 L166.13 322.23 L166.66 322.09 L167.20 321.99 L167.73 321.64 L168.26 322.34 L168.80 322.12 L169.33 322.43 L169.87 322.35 L170.40 322.17 L170.93 322.67 L171.47 321.96 L172.00 322.82 L172.54 321.97 L173.07 322.88 L173.60 322.53 L174.14 322.41 L174.67 322.93 L175.21 322.53 L175.74 322.55 L176.27 322.13 L176.81 322.89 L177.34 322.75 L177.88 322.38 L178.41 322.27 L178.94 322.60 L179.48 323.14 L180.01 323.09 L180.55 322.71 L181.08 322.30 L181.61 323.11 L182.15 322.50 L182.68 323.05 L183.22 322.84 L183.75 323.32 L184.28 322.52 L184.82 323.18 L185.35 323.13 L185.89 322.44 L186.42 323.00 L186.95 322.75 L187.49 323.16 L188.02 323.44 L188.56 323.16 L189.09 323.00 L189.62 323.13 L190.16 322.78 L190.69 323.02 L191.22 322.68 L191.76 323.29 L192.29 322.65 L192.83 323.12 L193.36 322.79 L193.89 323.18 L194.43 322.69 L194.96 322.67 L195.50 323.28 L196.03 323.38 L196.56 323.56 L197.10 323.36 L197.63 323.69 L198.17 322.84 L198.70 323.34 L199.23 323.36 L199.77 322.90 L200.30 322.88 L200.84 322.99 L201.37 323.28 L201.90 323.55 L202.44 323.48 L202.97 323.35 L203.51 322.86 L204.04 323.51 L204.57 323.31 L205.11 322.98 L205.64 323.43 L206.18 323.06 L206.71 323.13 L207.24 323.28 L207.78 323.59 L208.31 322.95 L208.85 323.29 L209.38 323.09 L209.91 323.53 L210.45 323.68 L211.01 323.14 L211.62 323.60 L212.24 323.35 L212.85 323.11 L213.43 323.17 L213.95 323.44 L214.39 323.71 L214.72 323.51" fill="none" stroke="#d42a4c" stroke-width="1.2" stroke-linejoin="round"/>
<text transform="translate(80.10 201.90) scale(1.0597 1) translate(0.00 0)" font-size="8.261" fill="#222" stroke="#222" stroke-width="0.15">:PDI<tspan font-size="68%" dy="-3.1">2-</tspan><tspan dy="3.1" dx="0.5">/PDI</tspan><tspan font-size="68%" dy="-3.1">2-</tspan><tspan dy="3.1"> (self-assembly 120 h)</tspan></text>
<line x1="146.50" y1="218.20" x2="161.90" y2="218.20" stroke="#333" stroke-width="0.8"/>
<text transform="translate(166.40 221.30) scale(0.9591 1) translate(0.00 0)" font-size="8.696" fill="#333" stroke="#333" stroke-width="0.15">540 nm</text>
<line x1="146.50" y1="230.00" x2="161.90" y2="230.00" stroke="#5050a8" stroke-width="0.8"/>
<text transform="translate(166.40 233.10) scale(0.9591 1) translate(0.00 0)" font-size="8.696" fill="#5050a8" stroke="#5050a8" stroke-width="0.15">585 nm</text>
<line x1="146.50" y1="241.80" x2="161.90" y2="241.80" stroke="#d42a4c" stroke-width="0.8"/>
<text transform="translate(166.40 244.90) scale(0.9591 1) translate(0.00 0)" font-size="8.696" fill="#d42a4c" stroke="#d42a4c" stroke-width="0.15">729 nm</text>
<text transform="translate(117.60 278.20) scale(1.0083 1) translate(0.00 0)" font-size="8.986" fill="#d42a4c" stroke="#d42a4c" stroke-width="0.15">Upconversion emission</text>
<line x1="108.10" y1="295.60" x2="118.50" y2="284.80" stroke="#d42a4c" stroke-width="1.0"/>
<polygon points="121.2,282.0 119.6,287.0 116.0,283.5" fill="#d42a4c"/>
<path d="M262.80 316.27 L263.54 316.48 L264.27 316.45 L265.01 316.39 L265.75 316.29 L266.48 316.52 L267.22 316.52 L267.95 316.40 L268.69 316.40 L269.43 316.29 L270.16 316.20 L270.90 316.35 L271.64 316.43 L272.37 316.23 L273.11 316.52 L273.84 316.29 L274.57 316.29 L275.29 316.22 L276.01 316.60 L276.74 316.49 L277.46 316.55 L278.18 316.44 L278.91 316.21 L279.63 316.33 L280.35 316.40 L281.07 316.24 L281.80 316.58 L282.52 316.34 L283.24 316.26 L283.97 316.52 L284.69 316.25 L285.41 316.57 L286.14 316.38 L286.86 316.42 L287.58 316.33 L288.31 316.39 L289.03 316.27 L289.75 316.21 L290.48 316.54 L291.20 316.29 L291.93 316.51 L292.65 316.28 L293.38 316.58 L294.10 316.55 L294.83 316.50 L295.55 316.50 L296.28 316.43 L297.00 316.49 L297.73 316.24 L298.45 316.38 L299.18 316.52 L299.90 316.27 L300.63 316.56 L301.35 316.55 L302.08 316.36 L302.80 316.34 L303.53 316.37 L304.25 316.35 L304.98 316.59 L305.70 316.35 L306.43 316.20 L307.15 316.23 L307.86 316.48 L308.57 316.59 L309.28 316.39 L309.99 316.39 L310.70 316.41 L311.41 316.49 L312.12 316.28 L312.83 316.43 L313.54 316.41 L314.25 316.44 L314.96 316.26 L315.67 316.26 L316.38 316.33 L317.09 316.56 L317.80 316.33 L318.51 316.43 L319.22 316.31 L319.93 316.23 L320.64 316.21 L321.35 316.51 L322.06 316.50 L322.77 316.34 L323.48 316.46 L324.19 316.46 L324.90 316.55 L325.61 316.57 L326.32 316.35 L327.03 316.58 L327.73 316.57 L328.43 316.42 L329.14 316.54 L329.84 316.38 L330.55 316.34 L331.25 316.29 L331.95 316.54 L332.66 316.25 L333.36 316.21 L334.07 316.51 L334.77 316.50 L335.47 316.38 L336.18 316.52 L336.88 316.21 L337.59 316.29 L338.29 316.30 L338.99 316.35 L339.70 316.25 L340.40 316.21 L341.11 316.32 L341.81 316.55 L342.51 316.58 L343.22 316.48 L343.92 316.38 L344.63 316.29 L345.33 316.57 L346.03 316.40 L346.74 316.48 L347.44 316.20 L348.15 316.27 L348.85 316.52 L349.56 316.50 L350.27 316.54 L350.97 316.43 L351.68 316.36 L352.38 316.42 L353.09 316.53 L353.80 316.31 L354.50 316.40 L355.21 316.30 L355.91 316.49 L356.62 316.19 L357.33 316.46 L358.03 316.57 L358.74 316.20 L359.44 316.42 L360.15 316.44 L360.86 316.53 L361.56 316.42 L362.27 316.29 L362.97 316.35 L363.68 316.57 L364.39 316.55 L365.09 316.24 L365.80 316.22 L366.50 316.22 L367.21 316.20 L367.93 316.36 L368.64 316.24 L369.36 316.53 L370.08 316.45 L370.79 316.24 L371.51 316.40 L372.23 316.32 L372.94 316.38 L373.66 316.28 L374.38 316.25 L375.09 316.26 L375.81 316.34 L376.53 316.47 L377.24 316.41 L377.96 316.21 L378.68 316.47 L379.39 316.54 L380.11 316.50 L380.83 316.51 L381.54 316.19 L382.26 316.38 L382.98 316.22 L383.69 316.50 L384.41 316.26 L385.13 316.48 L385.84 316.29 L386.54 316.47 L387.25 316.32 L387.96 316.21 L388.67 316.35 L389.38 316.32 L390.09 316.55 L390.79 316.31 L391.50 316.40 L392.21 316.41 L392.92 316.57 L393.63 316.24 L394.33 316.44 L395.04 316.40 L395.75 316.49 L396.46 316.58 L397.17 316.32 L397.88 316.48 L398.58 316.41 L399.29 316.42 L400.00 316.23 L400.73 316.53 L401.45 316.59 L402.18 316.35 L402.90 316.33 L403.63 316.60 L404.35 316.25 L405.08 316.24 L405.81 316.24 L406.53 316.54 L407.26 316.51 L407.98 316.39 L408.71 316.46 L409.44 316.22 L410.16 316.47 L410.89 316.39 L411.61 316.42 L412.34 316.37 L413.08 316.38 L413.83 316.31 L414.57 316.24 L415.32 316.40 L416.06 316.33 L416.81 316.51 L417.55 316.56 L418.29 316.52 L419.04 316.42 L419.78 316.33 L420.53 316.39 L421.27 316.43 L422.02 316.49 L422.76 316.63 L423.50 316.28 L424.22 316.44 L424.94 316.45 L425.66 316.54 L426.38 316.61 L427.10 316.57 L427.82 316.51 L428.54 316.57 L429.26 316.53 L429.98 316.61 L430.70 316.55 L431.41 316.54 L432.13 316.37 L432.85 316.64 L433.57 316.43 L434.32 316.53 L435.08 316.61 L435.83 316.67 L436.59 316.69 L437.34 316.29 L438.09 316.42 L438.85 316.42 L439.60 316.46 L440.35 316.36 L441.11 316.53 L441.86 316.34 L442.61 316.43 L443.35 316.69 L444.08 316.62 L444.82 316.51 L445.55 316.37 L446.29 316.71 L447.03 316.61 L447.76 316.42 L448.50 316.47 L449.23 316.60 L449.97 316.62 L450.70 316.45 L451.42 316.73 L452.14 316.48 L452.87 316.46 L453.59 316.69 L454.31 316.42 L455.03 316.63 L455.75 316.45 L456.47 316.61 L457.19 316.48 L457.91 316.53 L458.63 316.75 L459.34 316.56 L460.05 316.55 L460.76 316.63 L461.47 316.50 L462.19 316.46 L462.90 316.54 L463.61 316.50 L464.32 316.47 L465.03 316.78 L465.74 316.41 L466.45 316.72 L467.16 316.77 L467.87 316.68 L468.58 316.41 L469.29 316.60 L470.00 316.42 L470.76 316.64 L471.53 316.68 L472.29 316.49 L473.05 316.40 L473.81 316.61 L474.58 316.43 L475.39 316.51 L476.20 316.56 L477.01 316.73 L477.83 316.52 L478.56 316.41 L479.29 316.66 L480.03 316.67 L480.75 316.53 L481.48 316.32 L482.45 316.34 L483.24 316.39 L484.13 316.43 L485.40 316.29 L486.14 316.53 L486.87 316.55 L488.20 316.61 L489.41 316.64 L490.54 316.34 L491.63 316.61 L492.71 316.44 L493.82 316.78 L495.00 316.70 L496.25 316.66 L497.54 316.38 L498.85 316.25 L500.16 316.47 L501.45 316.29 L502.70 316.19 L503.89 316.01 L505.00 316.02 L506.00 315.71 L506.91 315.57 L507.74 315.48 L508.54 315.32 L509.34 315.30 L510.16 315.22 L511.04 314.68 L512.00 314.43 L513.06 314.31 L514.20 314.06 L515.39 313.52 L516.61 313.18 L517.83 312.69 L519.03 312.25 L520.20 311.98 L521.30 311.57 L522.34 311.05 L523.34 310.32 L524.30 309.74 L525.25 309.48 L526.18 308.71 L527.11 308.02 L528.05 307.46 L529.00 306.79 L529.96 306.01 L530.92 305.14 L531.89 304.72 L532.85 303.73 L533.81 302.87 L534.78 302.15 L535.74 301.31 L536.70 300.35 L537.18 299.65 L537.66 299.35 L538.14 298.74 L538.62 298.08 L539.10 297.81 L539.58 297.25 L540.06 296.71 L540.54 296.04 L541.02 295.23 L541.51 294.82 L541.99 294.17 L542.47 293.33 L542.95 292.70 L543.43 291.94 L543.92 290.83 L544.40 290.18 L544.73 289.50 L545.06 288.76 L545.39 287.77 L545.73 287.13 L546.07 286.46 L546.41 285.68 L546.75 284.90 L547.10 284.02 L547.44 282.98 L547.70 282.63 L547.95 281.81 L548.21 281.29 L548.47 280.36 L548.72 280.01 L548.97 279.16 L549.22 278.58 L549.48 277.90 L549.80 277.09 L550.12 276.01 L550.44 275.03 L550.75 274.34 L551.05 273.43 L551.36 272.75 L551.64 272.11 L551.92 271.19 L552.20 270.35 L552.46 269.65 L552.71 269.15 L552.97 268.55 L553.32 267.42 L553.68 266.78 L554.01 265.75 L554.34 264.87 L554.65 264.39 L554.96 263.42 L555.25 262.77 L555.54 261.82 L555.83 260.85 L556.11 260.08 L556.38 259.29 L556.66 258.52 L556.93 257.64 L557.20 256.70 L557.46 255.68 L557.72 254.53 L557.97 253.60 L558.22 252.58 L558.37 251.94 L558.53 251.17 L558.68 250.59 L558.83 249.86 L558.98 248.99 L559.13 248.60 L559.28 247.78 L559.42 247.14 L559.57 246.39 L559.71 245.64 L559.86 245.00 L560.01 244.00 L560.15 243.23 L560.30 242.30 L560.45 241.79 L560.60 240.95 L560.75 240.14 L560.90 239.50 L561.06 238.32 L561.21 237.47 L561.37 236.82 L561.53 235.94 L561.69 234.89 L561.86 233.80 L561.98 233.21 L562.10 232.68 L562.22 231.83 L562.34 231.10 L562.47 230.34 L562.59 229.71 L562.71 228.97 L562.83 228.28 L562.95 227.62 L563.07 226.84 L563.19 225.96 L563.31 225.18 L563.42 224.68 L563.54 223.97 L563.65 223.31 L563.77 222.30 L563.91 221.64 L564.06 220.75 L564.20 219.50 L564.33 218.74 L564.47 218.01 L564.60 216.96 L564.72 216.42 L564.85 215.38 L564.97 214.73 L565.08 213.78 L565.20 212.95 L565.31 212.15 L565.42 211.49 L565.52 210.80 L565.63 209.83 L565.73 209.27 L565.83 208.39 L565.93 207.77 L566.03 206.94 L566.12 206.15 L566.22 205.42 L566.35 204.36 L566.49 203.60 L566.62 202.52 L566.75 201.44 L566.87 200.85 L567.00 199.86 L567.12 198.76 L567.25 198.20 L567.37 197.34 L567.49 196.47 L567.61 195.73 L567.73 195.16 L567.84 194.22 L567.95 193.62 L568.15 192.35 L568.33 191.13 L568.48 190.19 L568.60 189.60" fill="none" stroke="#6cc3e2" stroke-width="0.8" stroke-linejoin="round"/>
<path d="M262.80 316.63 L263.55 316.22 L264.29 316.16 L265.04 316.65 L265.79 316.24 L266.53 316.20 L267.28 316.47 L268.03 316.31 L268.77 316.59 L269.52 316.26 L270.27 316.62 L271.01 316.30 L271.76 316.44 L272.51 316.60 L273.22 316.48 L273.94 316.59 L274.66 316.49 L275.38 316.15 L276.09 316.57 L276.81 316.42 L277.53 316.28 L278.25 316.22 L278.96 316.55 L279.68 316.42 L280.40 316.59 L281.12 316.51 L281.83 316.60 L282.55 316.40 L283.27 316.47 L283.99 316.42 L284.70 316.25 L285.42 316.59 L286.14 316.27 L286.85 316.50 L287.55 316.59 L288.26 316.44 L288.97 316.18 L289.68 316.52 L290.39 316.44 L291.10 316.20 L291.81 316.13 L292.52 316.37 L293.22 316.12 L293.93 316.56 L294.64 316.35 L295.35 316.36 L296.06 316.30 L296.77 316.43 L297.48 316.56 L298.19 316.25 L298.89 316.28 L299.60 316.39 L300.31 316.24 L301.02 316.39 L301.73 316.36 L302.44 316.31 L303.15 316.43 L303.85 316.35 L304.56 316.13 L305.27 316.58 L305.98 316.26 L306.69 316.30 L307.40 316.28 L308.11 316.55 L308.81 316.56 L309.52 316.33 L310.23 316.28 L310.94 316.12 L311.65 316.52 L312.36 316.16 L313.07 316.35 L313.77 316.25 L314.48 316.24 L315.19 316.25 L315.90 316.16 L316.61 316.09 L317.32 316.33 L318.02 316.46 L318.73 316.39 L319.44 316.16 L320.15 316.41 L320.86 316.09 L321.58 316.27 L322.29 316.47 L323.01 316.52 L323.72 316.29 L324.44 316.48 L325.15 316.30 L325.87 316.32 L326.58 316.34 L327.30 316.55 L328.01 316.42 L328.73 316.29 L329.44 316.41 L330.16 316.37 L330.87 316.22 L331.59 316.44 L332.30 316.45 L333.02 316.35 L333.73 316.51 L334.44 316.05 L335.16 316.29 L335.87 316.35 L336.59 316.21 L337.30 316.12 L338.02 316.38 L338.75 316.25 L339.48 316.17 L340.21 316.05 L340.94 316.51 L341.66 316.20 L342.39 316.09 L343.12 316.13 L343.85 316.15 L344.58 316.46 L345.31 316.11 L346.04 316.16 L346.77 316.07 L347.50 316.25 L348.23 316.12 L348.95 316.19 L349.68 316.38 L350.41 316.47 L351.14 316.43 L351.87 316.03 L352.60 316.20 L353.33 316.43 L354.06 316.02 L354.79 316.11 L355.51 316.25 L356.23 316.19 L356.95 316.38 L357.67 316.36 L358.39 316.23 L359.11 316.12 L359.83 316.11 L360.55 316.13 L361.27 316.02 L361.99 316.32 L362.71 316.07 L363.44 316.43 L364.16 316.31 L364.88 316.01 L365.60 316.23 L366.32 316.28 L367.04 316.00 L367.76 316.22 L368.48 315.99 L369.20 316.36 L369.92 315.98 L370.64 316.29 L371.36 316.46 L372.08 316.39 L372.80 316.08 L373.52 316.23 L374.24 316.03 L374.96 316.13 L375.68 316.39 L376.40 316.37 L377.12 315.96 L377.84 316.15 L378.56 316.27 L379.28 316.04 L380.00 316.35 L380.72 316.39 L381.44 316.22 L382.17 316.12 L382.89 316.37 L383.61 316.20 L384.33 316.03 L385.05 316.07 L385.78 316.01 L386.50 316.35 L387.22 316.18 L388.03 316.28 L388.84 316.33 L389.65 316.41 L390.45 316.02 L391.26 316.12 L392.07 316.35 L392.82 316.29 L393.57 316.10 L394.32 316.24 L395.06 316.00 L395.88 315.98 L396.71 315.92 L397.51 316.07 L397.99 315.97 L398.65 316.07 L400.00 316.23 L400.85 315.79 L401.71 315.96 L402.43 316.07 L403.15 315.90 L404.38 315.78 L405.48 315.81 L406.51 315.32 L407.55 315.66 L408.65 315.37 L409.90 315.25 L410.61 315.16 L411.32 314.69 L412.09 314.56 L412.85 314.49 L413.66 314.53 L414.46 314.62 L415.26 314.46 L416.06 314.07 L416.84 314.03 L417.62 313.95 L418.34 313.59 L419.06 313.76 L420.34 313.43 L421.40 313.01 L422.19 312.81 L422.76 312.50 L423.16 312.17 L423.46 311.74 L423.70 311.40 L423.95 311.01 L424.26 310.45 L424.70 310.31 L425.24 309.31 L425.83 308.39 L426.45 307.68 L427.10 306.65 L427.76 305.83 L428.42 304.75 L429.07 303.61 L429.70 302.69 L430.31 301.55 L430.89 300.37 L431.47 299.40 L432.05 297.92 L432.64 296.77 L432.95 296.29 L433.26 295.68 L433.58 294.73 L433.91 293.91 L434.25 293.69 L434.60 292.81 L434.98 291.96 L435.35 291.21 L435.76 290.52 L436.17 289.81 L436.59 288.95 L437.02 288.13 L437.46 287.82 L437.89 286.95 L438.33 285.83 L438.77 285.25 L439.20 284.67 L439.62 283.79 L440.03 282.89 L440.44 282.34 L440.82 281.75 L441.20 281.41 L441.91 280.15 L442.58 279.09 L443.23 278.26 L443.86 277.13 L444.46 276.68 L445.05 276.03 L445.63 275.30 L446.20 274.53 L446.77 273.94 L447.33 273.31 L447.87 272.92 L448.41 272.59 L448.92 272.42 L449.41 272.30 L449.87 271.78 L450.30 271.69 L450.68 271.57 L451.00 271.40 L451.28 270.96 L451.55 271.32 L451.82 271.11 L452.10 270.98 L452.42 271.03 L452.80 271.39 L453.23 271.73 L453.69 271.71 L454.18 272.07 L454.69 272.54 L455.23 272.80 L455.77 273.41 L456.33 274.21 L456.90 274.63 L457.48 275.41 L458.07 275.82 L458.68 276.87 L459.30 277.63 L459.93 278.20 L460.58 279.26 L461.24 280.29 L461.90 281.24 L462.58 282.35 L463.29 283.37 L463.65 284.16 L464.02 284.70 L464.38 285.58 L464.75 286.03 L465.12 287.00 L465.48 287.46 L465.85 287.93 L466.21 288.67 L466.56 289.15 L466.92 290.07 L467.60 290.87 L468.26 292.21 L468.90 293.06 L469.52 294.26 L470.14 294.86 L470.75 296.03 L471.36 296.94 L471.98 297.58 L472.60 298.42 L473.21 299.45 L473.81 300.51 L474.39 301.24 L474.98 302.03 L475.59 303.12 L476.24 304.13 L476.94 304.56 L477.70 305.62 L478.52 305.97 L479.38 306.28 L480.29 306.66 L481.23 307.15 L482.22 307.53 L483.24 307.69 L484.30 307.96 L485.40 308.50 L486.54 308.72 L487.71 309.16 L488.92 309.50 L490.18 309.94 L491.47 310.19 L492.80 310.32 L493.49 310.43 L494.18 310.91 L494.89 310.64 L495.60 310.81 L496.34 310.92 L497.08 311.43 L497.86 311.44 L498.64 311.77 L499.44 311.77 L500.24 311.77 L501.07 311.95 L501.89 312.23 L502.72 312.10 L503.55 312.50 L504.38 312.39 L505.22 312.29 L506.05 312.48 L506.87 312.64 L507.69 312.43 L508.50 312.80 L509.32 312.75 L510.14 312.49 L510.98 312.57 L511.83 312.36 L512.68 312.13 L513.53 311.79 L514.38 312.01 L515.22 311.82 L516.05 311.38 L516.88 311.15 L517.67 310.79 L518.46 310.86 L519.20 310.77 L519.94 310.33 L520.62 310.09 L521.30 310.06 L522.56 309.75 L523.76 308.98 L524.90 308.56 L525.95 308.26 L526.90 307.50 L527.74 307.47 L528.44 306.87 L529.00 306.87" fill="none" stroke="#f7bd2e" stroke-width="0.9" stroke-linejoin="round"/>
<path d="M262.80 316.75 L263.50 316.77 L264.20 316.73 L264.91 316.25 L265.61 316.55 L266.31 316.45 L267.01 316.52 L267.72 316.28 L268.42 316.31 L269.12 316.46 L269.82 316.33 L270.52 316.47 L271.23 316.21 L271.93 316.25 L272.63 316.62 L273.33 316.45 L274.03 316.50 L274.75 316.63 L275.46 316.41 L276.17 316.23 L276.88 316.66 L277.59 316.54 L278.30 316.59 L279.01 316.56 L279.72 316.77 L280.44 316.41 L281.15 316.64 L281.86 316.41 L282.57 316.53 L283.28 316.58 L283.99 316.38 L284.70 316.24 L285.41 316.47 L286.13 316.62 L286.84 316.54 L287.55 316.45 L288.26 316.57 L288.97 316.29 L289.68 316.29 L290.40 316.38 L291.12 316.67 L291.84 316.30 L292.56 316.25 L293.28 316.24 L294.00 316.21 L294.72 316.35 L295.44 316.52 L296.15 316.67 L296.87 316.38 L297.59 316.40 L298.31 316.35 L299.03 316.36 L299.75 316.65 L300.47 316.51 L301.19 316.33 L301.91 316.24 L302.63 316.65 L303.35 316.60 L304.07 316.67 L304.78 316.32 L305.50 316.50 L306.22 316.73 L306.94 316.53 L307.66 316.74 L308.38 316.27 L309.08 316.76 L309.79 316.21 L310.49 316.42 L311.19 316.19 L311.90 316.66 L312.60 316.58 L313.30 316.76 L314.00 316.65 L314.71 316.74 L315.41 316.49 L316.11 316.76 L316.82 316.62 L317.52 316.38 L318.22 316.75 L318.93 316.39 L319.63 316.28 L320.33 316.21 L321.04 316.45 L321.74 316.28 L322.44 316.73 L323.14 316.74 L323.85 316.29 L324.55 316.23 L325.25 316.48 L325.96 316.27 L326.66 316.49 L327.36 316.65 L328.07 316.31 L328.77 316.42 L329.48 316.70 L330.20 316.43 L330.91 316.37 L331.63 316.70 L332.34 316.65 L333.06 316.70 L333.77 316.57 L334.48 316.41 L335.20 316.57 L335.91 316.66 L336.63 316.54 L337.34 316.30 L338.06 316.33 L338.77 316.40 L339.48 316.62 L340.20 316.49 L340.91 316.48 L341.63 316.65 L342.34 316.22 L343.06 316.53 L343.77 316.35 L344.49 316.49 L345.20 316.65 L345.91 316.30 L346.63 316.72 L347.34 316.20 L348.06 316.49 L348.77 316.47 L349.49 316.29 L350.19 316.49 L350.89 316.43 L351.60 316.42 L352.30 316.58 L353.00 316.15 L353.70 316.37 L354.41 316.62 L355.11 316.23 L355.81 316.66 L356.52 316.27 L357.22 316.55 L357.92 316.25 L358.63 316.41 L359.33 316.40 L360.03 316.19 L360.73 316.56 L361.44 316.43 L362.14 316.55 L362.84 316.46 L363.55 316.47 L364.25 316.45 L364.95 316.32 L365.66 316.68 L366.36 316.19 L367.06 316.66 L367.77 316.65 L368.47 316.43 L369.17 316.60 L369.89 316.54 L370.61 316.50 L371.33 316.31 L372.05 316.32 L372.77 316.34 L373.49 316.31 L374.21 316.71 L374.93 316.33 L375.66 316.36 L376.38 316.38 L377.10 316.62 L377.82 316.41 L378.54 316.46 L379.26 316.28 L379.98 316.29 L380.70 316.18 L381.42 316.25 L382.14 316.28 L382.86 316.63 L383.58 316.42 L384.30 316.19 L385.02 316.40 L385.74 316.19 L386.46 316.46 L387.18 316.38 L387.89 316.63 L388.60 316.27 L389.31 316.62 L390.03 316.26 L390.74 316.70 L391.45 316.49 L392.16 316.14 L392.88 316.59 L393.59 316.27 L394.30 316.32 L395.01 316.19 L395.73 316.61 L396.44 316.16 L397.15 316.55 L397.86 316.34 L398.58 316.51 L399.29 316.28 L400.00 316.15 L400.72 316.65 L401.44 316.49 L402.16 316.20 L402.88 316.69 L403.60 316.65 L404.32 316.21 L405.04 316.11 L405.76 316.47 L406.48 316.18 L407.19 316.54 L407.91 316.38 L408.63 316.52 L409.35 316.44 L410.07 316.56 L410.80 316.59 L411.53 316.46 L412.26 316.46 L412.99 316.30 L413.72 316.19 L414.45 316.16 L415.18 316.62 L415.91 316.24 L416.64 316.37 L417.37 316.31 L418.10 316.49 L418.80 316.44 L419.51 316.64 L420.21 316.39 L420.91 316.35 L421.61 316.52 L422.32 316.58 L423.02 316.70 L423.72 316.33 L424.42 316.68 L425.13 316.74 L425.84 316.74 L426.54 316.23 L427.25 316.39 L427.96 316.63 L428.66 316.66 L429.37 316.19 L430.15 316.41 L430.93 316.60 L431.71 316.62 L432.49 316.49 L433.27 316.30 L434.08 316.41 L434.88 316.19 L435.68 316.33 L436.48 316.39 L437.18 316.61 L437.89 316.45 L438.60 316.32 L439.31 316.20 L440.24 316.19 L441.17 316.35 L442.10 316.17 L442.88 315.94 L443.65 316.26 L444.43 316.04 L445.78 316.03 L446.39 315.49 L446.48 315.22 L446.27 314.74 L446.01 314.44 L445.91 314.16 L446.20 313.69 L446.77 312.94 L447.37 312.22 L447.97 311.36 L448.59 311.15 L449.22 310.14 L449.85 309.34 L450.48 308.28 L451.10 307.32 L451.71 306.53 L452.32 305.81 L452.93 304.55 L453.54 303.34 L453.85 302.68 L454.16 301.82 L454.48 301.08 L454.79 300.68 L455.11 299.65 L455.44 299.25 L455.77 298.46 L456.10 297.73 L456.44 296.65 L456.79 295.80 L457.14 295.15 L457.50 294.06 L457.86 293.40 L458.22 292.25 L458.59 291.46 L458.96 290.56 L459.20 289.81 L459.45 289.11 L459.70 288.25 L460.07 287.37 L460.44 286.78 L460.81 285.42 L461.17 284.50 L461.54 283.76 L461.90 282.93 L462.26 282.25 L462.62 281.13 L462.99 280.71 L463.35 279.33 L463.71 278.99 L464.08 278.06 L464.44 277.49 L464.80 276.27 L465.16 275.86 L465.52 275.29 L465.87 274.44 L466.23 273.42 L466.57 273.28 L466.92 272.69 L467.60 271.07 L468.26 270.51 L468.92 269.16 L469.57 268.36 L470.20 268.10 L470.82 267.47 L471.43 267.17 L472.02 266.65 L472.60 266.41 L473.16 266.27 L473.71 266.65 L474.24 267.26 L474.76 267.53 L475.26 268.21 L475.75 268.39 L476.23 269.30 L476.70 269.84 L477.15 269.94 L477.59 270.88 L478.02 270.99 L478.43 271.54 L478.83 272.03 L479.23 273.06 L479.62 273.50 L480.00 274.89 L480.36 275.35 L480.68 277.04 L480.99 278.34 L481.14 278.92 L481.29 279.62 L481.45 280.46 L481.60 281.07 L481.78 281.47 L481.95 282.56 L482.34 283.61 L482.80 284.95 L483.31 285.99 L483.85 287.25 L484.43 287.93 L485.04 289.12 L485.70 289.58 L486.39 290.63 L487.12 291.76 L487.90 292.67 L488.74 293.78 L489.64 294.41 L490.60 295.78 L491.09 296.28 L491.59 296.40 L492.09 296.89 L492.60 297.65 L493.61 298.84 L494.62 299.53 L495.60 300.26 L496.56 301.09 L497.53 302.02 L498.49 302.55 L499.45 303.23 L500.41 303.88 L501.38 304.66 L502.34 305.11 L503.30 305.60 L504.26 305.66 L505.23 306.18 L506.19 306.58 L507.15 306.74 L508.11 307.07 L509.07 307.24 L510.04 306.96 L511.00 307.40 L511.97 307.57 L512.96 307.75 L513.94 308.20 L514.93 308.76 L515.91 308.88 L516.87 308.69 L517.80 308.94 L518.70 309.12 L519.58 309.47 L520.45 309.21 L521.31 308.98 L522.14 309.13 L522.94 308.83 L523.71 308.56 L524.43 308.73 L525.10 308.79 L525.73 308.45 L526.34 308.15 L526.92 307.48 L527.45 307.39 L527.93 307.11 L528.36 306.89 L528.72 306.45 L529.00 306.03" fill="none" stroke="#b08a35" stroke-width="0.9" stroke-linejoin="round"/>
<path d="M262.80 316.89 L263.52 317.00 L264.24 316.41 L264.96 317.15 L265.68 316.42 L266.40 316.85 L267.12 316.33 L267.84 316.93 L268.57 316.38 L269.29 316.88 L270.01 316.89 L270.73 316.93 L271.45 316.64 L272.17 317.02 L272.89 317.13 L273.61 316.34 L274.33 316.70 L275.05 317.10 L275.77 316.90 L276.49 316.63 L277.21 316.51 L277.93 317.09 L278.65 316.31 L279.38 316.92 L280.10 316.99 L280.81 316.37 L281.53 316.52 L282.25 316.50 L282.97 316.72 L283.69 316.56 L284.41 317.03 L285.13 317.06 L285.84 316.51 L286.56 317.03 L287.28 316.29 L288.00 316.31 L288.72 316.82 L289.44 316.94 L290.16 316.96 L290.87 317.11 L291.59 316.99 L292.31 316.46 L293.03 316.89 L293.75 317.05 L294.47 316.30 L295.19 316.66 L295.90 316.35 L296.62 316.34 L297.34 316.65 L298.06 316.82 L298.78 317.09 L299.50 316.33 L300.22 316.67 L300.93 317.11 L301.65 316.90 L302.37 316.69 L303.09 316.43 L303.81 316.78 L304.53 316.44 L305.24 316.79 L305.95 316.79 L306.67 316.56 L307.38 316.92 L308.09 316.57 L308.80 316.63 L309.52 316.95 L310.23 316.43 L310.94 316.37 L311.65 316.72 L312.37 316.59 L313.08 316.99 L313.79 316.42 L314.51 316.53 L315.22 316.25 L315.93 316.60 L316.64 316.48 L317.36 316.60 L318.07 316.88 L318.78 316.23 L319.50 317.08 L320.21 316.83 L320.92 316.92 L321.63 316.68 L322.35 316.71 L323.06 316.56 L323.77 316.55 L324.49 316.39 L325.20 316.46 L325.91 316.45 L326.62 316.49 L327.34 317.00 L328.05 316.91 L328.76 316.76 L329.48 316.20 L330.19 316.42 L330.90 316.67 L331.61 316.81 L332.33 316.56 L333.04 316.75 L333.75 317.00 L334.46 316.42 L335.16 316.52 L335.87 316.86 L336.57 316.47 L337.27 316.83 L337.98 316.53 L338.68 316.19 L339.39 316.59 L340.09 316.24 L340.79 316.88 L341.50 316.93 L342.20 316.65 L342.91 316.98 L343.61 316.36 L344.31 316.57 L345.02 316.33 L345.72 316.21 L346.43 316.91 L347.13 316.22 L347.83 317.01 L348.54 316.67 L349.24 316.80 L349.95 316.21 L350.65 316.98 L351.36 316.88 L352.06 316.26 L352.76 316.33 L353.47 316.29 L354.17 316.61 L354.88 316.23 L355.58 316.88 L356.28 316.61 L356.99 316.79 L357.69 316.39 L358.40 316.75 L359.10 316.56 L359.80 316.74 L360.51 316.52 L361.21 317.04 L361.92 316.92 L362.62 316.90 L363.33 316.46 L364.03 316.32 L364.73 316.29 L365.44 316.27 L366.14 317.02 L366.85 316.40 L367.56 316.93 L368.26 316.36 L368.97 316.70 L369.68 316.37 L370.38 316.42 L371.09 316.82 L371.80 316.69 L372.51 316.99 L373.21 316.35 L373.92 316.38 L374.63 316.20 L375.33 316.33 L376.04 317.02 L376.75 316.64 L377.45 316.56 L378.16 316.44 L378.87 316.82 L379.57 316.75 L380.28 316.27 L380.99 316.17 L381.69 316.29 L382.40 316.87 L383.11 316.79 L383.81 316.33 L384.52 316.34 L385.23 316.40 L385.93 316.74 L386.64 316.80 L387.35 316.34 L388.05 316.42 L388.76 316.34 L389.47 316.97 L390.17 316.62 L390.88 316.97 L391.59 316.34 L392.29 316.69 L393.00 316.63 L393.71 316.96 L394.42 316.44 L395.12 316.32 L395.83 316.85 L396.54 316.97 L397.24 316.57 L397.95 316.41 L398.65 316.19 L399.36 316.51 L400.06 316.94 L400.76 316.43 L401.47 316.51 L402.17 316.61 L402.88 316.32 L403.58 316.20 L404.29 316.57 L404.99 316.97 L405.70 316.88 L406.40 316.37 L407.10 316.80 L407.81 316.84 L408.51 316.62 L409.22 316.42 L409.92 316.27 L410.63 316.73 L411.33 316.71 L412.04 316.28 L412.74 316.22 L413.44 316.19 L414.15 316.83 L414.85 316.88 L415.56 316.55 L416.26 316.63 L416.97 316.72 L417.67 316.22 L418.38 316.55 L419.08 316.48 L419.79 316.86 L420.49 316.22 L421.19 316.84 L421.90 316.20 L422.60 316.62 L423.31 316.87 L424.01 316.14 L424.72 316.51 L425.42 316.07 L426.13 316.53 L426.83 316.50 L427.54 316.93 L428.26 316.50 L428.98 316.88 L429.69 316.72 L430.41 316.82 L431.12 316.37 L431.84 316.14 L432.55 316.63 L433.27 316.15 L433.98 316.62 L434.70 316.21 L435.41 316.59 L436.13 316.74 L436.84 316.91 L437.56 316.23 L438.27 316.20 L438.99 316.42 L439.70 316.92 L440.42 316.27 L441.13 316.46 L441.85 316.38 L442.56 316.09 L443.28 316.52 L443.99 316.31 L444.71 316.45 L445.42 316.69 L446.14 316.63 L446.86 316.24 L447.57 316.61 L448.29 316.50 L449.00 316.71 L449.72 316.02 L450.43 316.27 L451.15 316.62 L451.86 316.52 L452.59 316.46 L453.31 316.48 L454.04 316.56 L454.76 316.67 L455.49 316.75 L456.21 316.70 L456.94 316.81 L457.67 316.51 L458.39 316.15 L459.12 316.32 L459.84 316.76 L460.57 316.68 L461.29 316.54 L462.02 316.09 L462.74 316.12 L463.47 316.56 L464.20 316.35 L464.92 316.14 L465.65 316.84 L466.37 316.17 L467.10 316.79 L467.82 316.52 L468.55 316.81 L469.27 316.65 L470.00 316.13 L470.74 316.15 L471.48 316.72 L472.23 316.33 L472.97 316.38 L473.71 316.60 L474.45 316.46 L475.19 316.56 L475.94 316.38 L476.68 316.15 L477.42 316.55 L478.16 316.01 L478.90 316.54 L479.65 316.60 L480.39 316.01 L481.13 315.88 L481.92 316.69 L482.70 316.02 L483.49 316.32 L484.28 316.10 L485.06 315.95 L485.85 316.05 L486.64 315.87 L487.42 316.55 L488.28 316.45 L489.13 316.44 L489.99 315.83 L489.92 315.89 L489.13 315.63 L488.33 316.26 L487.32 316.32 L486.31 316.24 L484.97 316.03 L485.40 315.70 L486.24 315.54 L487.08 315.13 L487.91 315.00 L488.73 315.46 L489.54 315.71 L490.34 315.66 L491.11 315.09 L491.88 315.11 L492.61 315.37 L493.34 314.76 L494.69 315.02 L495.92 314.75 L497.00 314.44 L497.91 314.25 L498.64 313.90 L499.24 313.75 L499.74 313.74 L500.18 314.19 L500.59 313.83 L501.02 312.86 L501.50 313.23 L502.02 312.34 L502.53 312.38 L503.02 312.32 L503.51 311.88 L503.99 311.40 L504.44 310.96 L504.88 310.02 L505.30 308.78 L505.69 308.18 L506.05 307.65 L506.40 306.61 L506.73 305.86 L507.04 304.10 L507.36 303.63 L507.67 302.21 L508.00 301.08 L508.33 299.49 L508.65 298.47 L508.97 297.35 L509.29 296.28 L509.61 294.92 L509.93 293.60 L510.26 292.40 L510.60 290.87 L510.95 289.67 L511.31 289.06 L511.68 287.62 L512.06 286.37 L512.43 285.60 L512.80 284.41 L513.15 283.22 L513.50 282.43 L513.83 280.92 L514.15 280.47 L514.46 279.25 L514.77 278.25 L515.07 277.38 L515.38 276.23 L515.69 276.16 L516.00 275.43 L516.32 274.08 L516.64 273.79 L516.97 272.27 L517.29 271.80 L517.62 271.53 L517.95 270.48 L518.27 269.36 L518.60 269.12 L518.93 267.93 L519.26 267.94 L519.59 267.21 L519.92 266.69 L520.25 266.18 L520.57 265.14 L520.89 265.38 L521.20 264.84 L521.51 264.56 L521.81 263.61 L522.11 263.29 L522.41 263.45 L522.69 263.38 L522.97 262.83 L523.24 262.34 L523.50 262.35 L523.74 262.01 L523.96 262.09 L524.16 262.40 L524.36 262.07 L524.56 261.59 L524.76 262.23 L524.97 262.24 L525.20 261.91 L525.44 261.72 L525.70 262.57 L525.97 262.56 L526.24 262.72 L526.51 263.79 L526.78 263.70 L527.04 263.86 L527.30 264.31 L527.52 265.25 L527.71 264.94 L527.88 265.30 L528.05 265.37 L528.25 265.52 L528.49 265.91 L528.80 266.28 L529.20 267.16 L529.70 267.79 L530.29 268.82 L530.94 269.80 L531.64 270.76 L532.36 271.02 L533.10 272.29 L533.81 272.75 L534.50 273.62 L535.17 274.32 L535.86 274.87 L536.54 275.76 L537.23 275.84 L537.91 276.05 L538.57 276.89 L539.20 277.06 L539.80 278.16 L540.36 278.08 L540.89 278.89 L541.40 279.63 L541.89 280.65 L542.36 281.82 L542.84 281.77 L543.31 282.61 L543.80 282.96 L544.29 282.12 L544.78 282.07 L545.27 281.33 L545.75 280.68 L546.23 279.62 L546.72 278.43 L547.21 277.29 L547.70 276.38 L548.22 275.31 L548.79 274.33 L549.37 273.90 L549.94 272.62 L550.49 271.60 L550.98 271.08 L551.39 270.09 L551.70 270.02" fill="none" stroke="#e35a68" stroke-width="0.9" stroke-linejoin="round"/>
<path d="M555.70 260.95 L555.92 260.37 L556.21 259.28 L556.56 257.78 L556.76 257.34 L556.95 256.55 L557.15 255.56 L557.36 255.18 L557.56 254.14 L557.76 253.39 L557.96 252.68 L558.15 251.99 L558.33 251.08 L558.50 250.57 L558.81 249.28 L559.10 247.87 L559.37 246.70 L559.64 245.32 L559.78 244.70 L559.92 243.74 L560.07 243.03 L560.22 242.31 L560.38 241.29 L560.54 240.77 L560.72 239.64 L560.90 238.44 L561.04 237.87 L561.17 237.03 L561.31 236.18 L561.46 235.30 L561.61 234.55 L561.76 233.53 L561.89 233.02 L562.01 232.30 L562.13 231.44 L562.25 231.03 L562.37 229.96 L562.50 229.28 L562.62 228.80 L562.75 227.83 L562.88 227.16 L563.00 226.47 L563.13 225.67 L563.25 224.95 L563.37 224.22 L563.49 223.47 L563.61 222.57 L563.74 222.13 L563.85 221.22 L563.96 220.42 L564.08 219.86 L564.19 219.32 L564.33 218.38 L564.46 217.45 L564.60 216.59 L564.72 215.67 L564.84 215.02 L564.97 214.10 L565.08 213.19 L565.19 212.42 L565.31 211.61 L565.41 211.07 L565.52 210.37 L565.62 209.54 L565.72 208.58 L565.82 207.80 L565.92 207.37 L566.01 206.42 L566.11 205.62 L566.20 205.06 L566.34 204.06 L566.47 203.00 L566.61 202.01 L566.74 200.99 L566.87 200.18 L567.00 199.28 L567.13 198.55 L567.27 197.63 L567.40 196.81 L567.53 196.29 L567.67 195.21 L567.80 194.75 L568.05 193.29 L568.28 192.25 L568.49 191.17 L568.67 190.23 L568.80 189.54" fill="none" stroke="#e35a68" stroke-width="0.9" stroke-linejoin="round"/>
<path d="M525.10 308.60 L525.37 308.24 L525.71 308.09 L526.11 308.07 L526.57 307.63 L527.09 307.65 L527.67 307.31 L528.30 306.61 L529.00 306.37 L529.78 305.72 L530.66 305.12 L531.61 304.53 L532.61 303.75 L533.65 302.67 L534.69 301.93 L535.20 301.42 L535.71 301.01 L536.21 300.12 L536.70 299.98 L537.18 299.16 L537.66 298.60 L538.14 298.25 L538.62 297.81 L539.11 297.29 L539.59 296.50 L540.07 296.09 L540.55 295.17 L541.03 294.91 L541.51 294.00 L541.99 293.41 L542.48 292.55 L542.96 291.76 L543.44 290.98 L543.92 290.38 L544.40 289.52 L544.73 289.00 L545.05 288.38 L545.38 287.58 L545.72 287.05 L546.05 286.09 L546.39 285.67 L546.72 284.66 L547.06 284.19 L547.40 283.21 L547.74 282.45 L548.08 281.70 L548.41 280.73 L548.74 279.94 L549.07 279.32 L549.40 278.59 L549.72 277.53 L550.04 276.88 L550.36 276.07 L550.66 275.46 L550.96 274.77 L551.26 273.63 L551.54 273.08 L551.82 272.17 L552.10 271.71 L552.36 271.08 L552.61 270.29 L552.87 269.55 L553.11 268.66 L553.35 268.00 L553.59 267.39 L553.93 266.33 L554.26 265.36 L554.58 264.71 L554.90 263.48 L555.20 262.73 L555.50 261.69 L555.79 260.72 L556.08 259.79 L556.37 258.71 L556.65 257.57 L556.83 256.94 L557.02 256.23 L557.20 255.41 L557.38 254.74 L557.55 254.27 L557.73 253.57 L557.98 252.74 L558.22 251.59 L558.46 250.66 L558.69 249.51 L558.91 248.53 L559.14 247.60 L559.28 246.59 L559.43 245.89 L559.57 245.36 L559.72 244.58 L559.86 243.92 L560.01 243.05 L560.15 242.34 L560.30 241.56 L560.45 241.01 L560.60 239.99 L560.75 239.20 L560.90 238.67 L561.06 237.72 L561.21 236.71 L561.37 236.23 L561.53 235.15 L561.69 234.42 L561.86 233.40 L561.98 232.65 L562.10 231.88 L562.22 231.06 L562.34 230.70 L562.47 229.76 L562.59 228.99 L562.71 228.20 L562.83 227.66 L562.95 227.09 L563.07 226.13 L563.19 225.57 L563.31 224.81 L563.42 224.02 L563.54 223.37 L563.65 222.69 L563.77 222.06 L563.91 220.80 L564.06 219.93 L564.20 219.06 L564.33 218.13 L564.47 217.37 L564.60 216.57 L564.72 215.67 L564.84 214.97 L564.97 213.96 L565.08 213.53 L565.19 212.65 L565.31 211.61 L565.41 210.88 L565.52 210.32 L565.62 209.30 L565.72 208.78 L565.82 207.75 L565.92 207.24 L566.01 206.54 L566.11 205.77 L566.20 205.15 L566.34 204.19 L566.47 203.18 L566.61 201.85 L566.74 201.07 L566.87 200.03 L567.00 199.40 L567.13 198.36 L567.27 197.52 L567.40 196.69 L567.53 195.90 L567.67 195.27 L567.80 194.52 L568.05 193.33 L568.28 192.26 L568.49 191.17 L568.67 190.13 L568.80 189.40" fill="none" stroke="#b08a35" stroke-width="1.0" stroke-linejoin="round"/>
<path d="M521.30 310.06 L521.89 309.85 L522.68 309.66 L523.62 309.02 L524.67 308.58 L525.77 308.44 L526.89 307.75 L527.98 307.23 L529.00 306.83 L529.96 305.95 L530.92 305.57 L531.89 304.69 L532.85 303.77 L533.81 303.29 L534.78 302.28 L535.74 301.14 L536.70 300.44 L537.18 299.89 L537.66 299.35 L538.14 298.78 L538.62 298.37 L539.11 297.42 L539.59 297.25 L540.07 296.52 L540.55 295.77 L541.03 295.27 L541.51 294.53 L541.99 293.96 L542.48 293.28 L542.96 292.45 L543.44 291.52 L543.92 290.80 L544.40 289.92 L544.73 289.47 L545.05 288.91 L545.38 288.22 L545.72 287.43 L546.05 286.58 L546.39 286.10 L546.72 285.17 L547.06 284.71 L547.40 283.63 L547.74 283.16 L548.08 282.00 L548.41 281.52 L548.74 280.55 L549.07 279.84 L549.40 278.97 L549.72 278.13 L550.04 277.39 L550.36 276.75 L550.66 275.79 L550.96 275.02 L551.26 274.41 L551.54 273.44 L551.82 272.78 L552.10 272.11 L552.36 271.41 L552.61 270.58 L552.87 270.12 L553.11 269.34 L553.35 268.50 L553.59 267.93 L553.93 266.82 L554.26 265.95 L554.58 264.88 L554.90 263.95 L555.20 263.10 L555.50 262.17 L555.79 261.03 L556.08 260.12 L556.37 259.14 L556.65 258.17 L556.83 257.62 L557.02 256.67 L557.20 256.21 L557.38 255.44 L557.55 254.89 L557.73 254.12 L557.98 252.83 L558.22 251.84 L558.46 251.12 L558.69 249.90 L558.84 249.34 L558.99 248.44 L559.14 247.94 L559.28 247.18 L559.43 246.50 L559.57 245.61 L559.72 245.25 L559.86 244.50 L560.01 243.74 L560.15 242.93 L560.30 242.02 L560.45 241.25 L560.60 240.72 L560.75 239.72 L560.90 238.95 L561.06 238.31 L561.21 237.25 L561.37 236.66 L561.53 235.43 L561.69 234.80 L561.86 233.67 L561.98 232.91 L562.10 232.33 L562.22 231.77 L562.34 230.78 L562.47 230.26 L562.59 229.64 L562.71 228.59 L562.83 228.06 L562.95 227.27 L563.07 226.61 L563.19 226.04 L563.31 225.16 L563.42 224.40 L563.54 223.66 L563.65 223.20 L563.77 222.22 L563.91 221.55 L564.06 220.75 L564.20 219.73 L564.33 218.96 L564.47 217.80 L564.60 217.14 L564.72 216.33 L564.85 215.31 L564.97 214.64 L565.08 213.80 L565.20 212.93 L565.31 212.25 L565.42 211.35 L565.52 210.91 L565.63 209.83 L565.73 209.24 L565.83 208.56 L565.93 207.53 L566.03 207.18 L566.12 206.46 L566.22 205.60 L566.35 204.56 L566.49 203.67 L566.62 202.60 L566.75 201.48 L566.87 200.87 L567.00 199.68 L567.12 198.98 L567.25 198.13 L567.37 197.41 L567.49 196.44 L567.61 195.79 L567.73 194.86 L567.84 194.35 L567.95 193.43 L568.15 192.24 L568.33 191.20 L568.48 190.34 L568.60 189.66" fill="none" stroke="#f2a92a" stroke-width="0.9" stroke-linejoin="round"/>
<line x1="451.60" y1="266.40" x2="451.60" y2="327.00" stroke="#444" stroke-width="0.8" stroke-dasharray="0.9 2.2"/>
<line x1="472.60" y1="261.10" x2="472.60" y2="327.00" stroke="#444" stroke-width="0.8" stroke-dasharray="0.9 2.2"/>
<line x1="524.60" y1="252.80" x2="524.60" y2="327.00" stroke="#444" stroke-width="0.8" stroke-dasharray="0.9 2.2"/>
<line x1="268.10" y1="201.60" x2="285.10" y2="201.60" stroke="#7cc8e0" stroke-width="1.1"/>
<text transform="translate(289.70 204.90) scale(0.9841 1) translate(0.00 0)" font-size="8.406" fill="#222" stroke="#222" stroke-width="0.15">72 h</text>
<line x1="268.10" y1="215.23" x2="285.10" y2="215.23" stroke="#f8c040" stroke-width="1.1"/>
<text transform="translate(289.70 218.53) scale(0.9841 1) translate(0.00 0)" font-size="8.406" fill="#222" stroke="#222" stroke-width="0.15">84 h</text>
<line x1="268.10" y1="228.86" x2="285.10" y2="228.86" stroke="#c0a050" stroke-width="1.1"/>
<text transform="translate(289.70 232.16) scale(0.9841 1) translate(0.00 0)" font-size="8.406" fill="#222" stroke="#222" stroke-width="0.15">96 h</text>
<line x1="268.10" y1="242.49" x2="285.10" y2="242.49" stroke="#e86070" stroke-width="1.1"/>
<text transform="translate(289.70 245.79) scale(0.9611 1) translate(0.00 0)" font-size="8.406" fill="#222" stroke="#222" stroke-width="0.15">120 h</text>
<text transform="translate(333.00 207.00) scale(0.9520 1) translate(0.00 0)" font-size="8.841" fill="#222" stroke="#222" stroke-width="0.15">λ<tspan font-size="60%" dy="1.8">ex</tspan><tspan dy="-1.8">=808 nm</tspan></text>
<text transform="translate(469.90 203.90) scale(0.9671 1) translate(0.00 0)" font-size="8.551" fill="#d22f3c" stroke="#d22f3c" stroke-width="0.15">D-Q hybrid</text>
<text transform="translate(447.60 217.70) scale(0.9605 1) translate(0.00 0)" font-size="8.551" fill="#d22f3c" stroke="#d22f3c" stroke-width="0.15">Upconversion emission</text>
<text transform="translate(433.00 260.60) scale(0.9971 1) translate(0.00 0)" font-size="8.696" fill="#f7bd2e" stroke="#f7bd2e" stroke-width="0.15">645 nm</text>
<text transform="translate(469.10 252.80) scale(1.0040 1) translate(0.00 0)" font-size="8.696" fill="#b08a30" stroke="#b08a30" stroke-width="0.15">661 nm</text>
<text transform="translate(509.70 244.40) scale(1.0005 1) translate(0.00 0)" font-size="8.696" fill="#d22f3c" stroke="#d22f3c" stroke-width="0.15">705 nm</text>
<text transform="translate(595.80 207.20) scale(0.9966 1) translate(0.00 0)" font-size="8.696" fill="#2a2a2a" stroke="#2a2a2a" stroke-width="0.15">Self-assembly time</text>
<line x1="608.00" y1="214.00" x2="651.00" y2="214.00" stroke="#333" stroke-width="1.1"/>
<polygon points="649.6,212.2 655.3,214.0 649.6,215.8" fill="#222"/>
<path d="M30.80 499.71 L31.43 499.84 L32.29 500.14 L33.32 500.48 L34.45 500.31 L35.62 500.42 L36.76 500.57 L37.81 500.88 L38.70 500.39 L39.46 500.53 L40.15 500.22 L40.78 499.57 L41.38 499.42 L41.93 498.89 L42.46 498.32 L42.98 498.03 L43.50 496.76 L44.00 495.91 L44.46 495.59 L44.90 494.34 L45.33 493.19 L45.74 492.14 L46.15 490.92 L46.36 490.58 L46.57 489.45 L46.78 488.69 L47.00 488.15 L47.23 487.24 L47.45 486.60 L47.60 485.84 L47.76 484.86 L47.91 484.08 L48.07 483.71 L48.22 483.06 L48.38 481.73 L48.53 481.37 L48.69 480.68 L48.84 479.77 L49.00 478.73 L49.15 478.30 L49.30 477.48 L49.45 476.42 L49.60 475.95 L49.75 474.96 L49.97 473.84 L50.19 473.01 L50.39 472.16 L50.60 471.34 L50.79 470.75 L50.99 470.12 L51.17 469.50 L51.35 468.82 L51.69 467.58 L52.03 466.35 L52.36 465.12 L52.69 464.31 L53.04 464.05 L53.40 463.73 L53.78 463.80 L54.16 463.71 L54.56 464.26 L54.96 465.37 L55.36 466.01 L55.77 467.02 L56.18 467.69 L56.60 468.94 L57.02 470.43 L57.24 470.96 L57.45 471.85 L57.67 472.13 L57.89 473.04 L58.11 474.04 L58.33 474.63 L58.55 475.65 L58.77 476.34 L58.99 476.89 L59.21 477.69 L59.43 479.02 L59.66 479.29 L59.88 480.07 L60.10 480.90 L60.32 481.84 L60.55 482.64 L60.77 483.13 L60.99 483.86 L61.22 484.75 L61.44 485.16 L61.67 485.92 L61.89 486.76 L62.12 487.45 L62.35 487.78 L62.80 489.12 L63.25 490.36 L63.70 491.84 L64.15 492.87 L64.60 494.06 L65.05 494.89 L65.50 495.47 L65.95 496.58 L66.40 497.42 L66.85 497.64 L67.30 497.91 L67.74 498.46 L68.17 498.60 L68.60 498.61 L69.03 498.52 L69.47 498.48 L69.92 498.78 L70.40 498.12 L70.90 498.27 L71.43 497.76 L72.00 497.36 L72.58 497.28 L73.18 496.47 L73.78 495.92 L74.39 495.66 L75.00 495.48 L75.60 495.21 L76.20 495.40 L76.80 495.23 L77.40 495.49 L78.00 495.86 L78.60 496.00 L79.20 496.48 L79.80 496.66 L80.40 496.78 L81.01 497.12 L81.64 497.93 L82.27 498.37 L82.90 498.95 L83.51 499.24 L84.09 499.57 L84.62 499.62 L85.10 500.21 L85.50 499.88 L85.83 500.14 L86.12 500.01 L86.37 500.11 L86.61 499.93 L86.87 499.74 L87.16 499.50 L87.50 498.82 L87.89 497.92 L88.32 497.40 L88.76 496.41 L89.22 495.37 L89.70 493.65 L89.93 493.31 L90.17 492.78 L90.41 491.63 L90.64 490.82 L90.87 490.34 L91.10 489.22 L91.33 488.31 L91.56 487.63 L91.79 486.38 L92.02 485.27 L92.18 484.56 L92.34 483.93 L92.49 483.43 L92.65 482.46 L92.81 481.94 L92.96 480.75 L93.12 480.04 L93.27 479.45 L93.42 478.55 L93.57 477.69 L93.72 477.08 L93.87 475.81 L93.98 475.06 L94.08 474.27 L94.19 473.85 L94.30 473.04 L94.40 472.40 L94.50 471.38 L94.60 470.64 L94.70 470.13 L94.79 469.55 L94.88 468.47 L94.97 468.03 L95.07 467.02 L95.13 466.21 L95.20 465.73 L95.26 464.70 L95.33 464.22 L95.40 463.66 L95.46 462.72 L95.52 461.84 L95.58 460.96 L95.64 460.50 L95.70 459.52 L95.76 458.85 L95.82 458.17 L95.88 457.64 L95.94 456.70 L96.00 455.83 L96.06 455.25 L96.12 454.13 L96.18 453.39 L96.24 452.77 L96.30 451.91 L96.36 450.93 L96.42 450.25 L96.48 449.72 L96.54 448.59 L96.60 448.08 L96.67 446.92 L96.74 446.70 L96.80 445.77 L96.87 444.79 L96.93 444.43 L97.01 443.59 L97.08 442.42 L97.15 441.80 L97.23 441.22 L97.30 440.80 L97.38 439.58 L97.46 438.81 L97.54 438.26 L97.62 437.40 L97.70 436.91 L97.79 436.27 L97.87 435.50 L97.96 434.61 L98.04 433.83 L98.13 433.59 L98.22 432.66 L98.31 431.98 L98.40 431.28 L98.49 430.69 L98.58 430.12 L98.67 429.38 L98.76 428.62 L98.85 427.70 L98.95 426.90 L99.04 426.16 L99.15 425.78 L99.27 424.46 L99.39 423.92 L99.51 423.28 L99.62 422.12 L99.74 421.35 L99.86 420.56 L99.98 420.07 L100.09 419.15 L100.21 418.48 L100.33 417.23 L100.44 416.88 L100.56 416.00 L100.67 415.26 L100.79 414.80 L100.90 414.04 L101.05 413.26 L101.20 412.28 L101.35 411.50 L101.50 410.38 L101.65 409.62 L101.80 408.93 L101.95 407.95 L102.10 406.98 L102.25 406.46 L102.40 405.90 L102.55 405.17 L102.70 403.99 L102.93 403.12 L103.15 402.01 L103.38 401.13 L103.60 400.55 L103.83 399.35 L104.05 398.40 L104.28 397.57 L104.50 396.86 L104.72 396.26 L104.95 395.33 L105.17 394.56 L105.40 393.91 L105.85 392.72 L106.29 392.05 L106.74 390.70 L107.19 390.31 L107.65 389.36 L108.10 389.37 L108.56 388.87 L109.02 389.19 L109.48 389.17 L109.95 389.31 L110.42 389.81 L110.88 390.83 L111.34 391.36 L111.80 392.09 L112.25 392.85 L112.71 393.99 L113.16 394.91 L113.61 395.81 L114.05 397.40 L114.28 397.91 L114.50 398.92 L114.73 399.48 L114.95 400.36 L115.18 400.77 L115.40 401.92 L115.62 402.78 L115.85 403.84 L116.00 404.55 L116.15 405.05 L116.30 405.77 L116.45 406.63 L116.60 407.08 L116.75 408.01 L116.89 408.93 L117.04 409.60 L117.19 410.35 L117.34 411.32 L117.49 412.17 L117.64 412.52 L117.79 413.15 L117.94 414.22 L118.09 414.69 L118.32 416.20 L118.55 416.92 L118.77 417.84 L119.00 418.89 L119.23 419.66 L119.46 419.97 L119.92 421.45 L120.38 422.42 L120.85 423.61 L121.32 424.34 L121.78 425.67 L122.24 426.23 L122.70 427.13 L123.15 428.30 L123.58 429.04 L124.00 429.48 L124.43 430.27 L124.87 431.06 L125.32 431.48 L125.79 432.19 L126.30 433.41 L126.84 433.86 L127.41 435.09 L128.01 436.04 L128.62 436.90 L129.24 437.71 L129.86 438.95 L130.49 439.81 L131.10 440.24 L131.71 441.53 L132.32 442.11 L132.93 442.61 L133.55 443.23 L134.17 443.88 L134.78 445.04 L135.39 445.85 L136.00 446.41 L136.60 447.23 L137.21 448.14 L137.81 449.35 L138.41 450.32 L139.00 451.26 L139.60 452.53 L140.20 454.00 L140.80 454.74 L141.40 456.20 L141.70 456.93 L142.00 457.38 L142.30 458.00 L142.60 458.71 L142.89 459.46 L143.19 460.66 L143.49 461.30 L143.79 461.92 L144.09 462.74 L144.39 463.10 L144.69 463.74 L145.00 464.80 L145.30 465.30 L145.60 466.15 L145.90 466.45 L146.21 467.13 L146.51 467.94 L146.82 468.67 L147.43 469.48 L148.05 470.76 L148.67 471.82 L149.28 473.33 L149.89 474.71 L150.50 475.64 L151.09 476.50 L151.65 477.90 L152.20 478.93 L152.75 479.64 L153.32 481.15 L153.93 482.02 L154.58 482.95 L155.30 483.91 L156.09 484.88 L156.52 485.62 L156.95 486.12 L157.41 486.61 L157.86 487.43 L158.33 488.01 L158.80 488.75 L159.28 489.31 L159.76 489.56 L160.24 490.24 L160.72 490.56 L161.68 491.57 L162.60 492.54 L163.48 493.58 L164.34 493.73 L165.18 494.63 L166.02 495.15 L166.88 495.98 L167.79 496.58 L168.76 496.79 L169.80 497.05 L170.75 497.84 L171.53 498.29 L172.26 498.79 L173.09 499.25 L174.14 499.44 L174.85 499.65 L175.55 499.95 L176.51 499.65 L177.46 499.92 L178.31 500.26 L179.15 500.51 L180.00 500.57 L180.71 500.20 L181.41 500.65 L182.12 500.26 L182.82 500.40 L183.53 500.26 L184.29 500.54 L185.04 500.43 L185.80 500.62 L186.56 500.80 L187.31 500.31 L188.07 500.65 L188.81 500.62 L189.55 500.43 L190.30 500.29 L191.04 500.84 L191.78 500.70 L192.52 500.66 L193.26 500.35 L194.04 500.83 L194.83 500.53 L195.61 500.57 L196.39 500.62 L197.17 500.56 L197.96 500.86 L198.74 500.57 L199.51 500.69 L200.28 500.74 L201.05 500.84 L201.82 500.38 L202.59 500.47 L203.36 500.84 L204.13 500.63 L204.84 500.48 L205.55 500.78 L206.26 500.32 L206.96 500.40 L207.67 500.28 L208.38 500.64 L209.09 500.52 L209.91 500.41 L210.74 500.48 L211.57 500.37 L212.40 500.63 L213.23 500.66 L213.97 500.43 L214.71 500.72 L215.46 500.23 L216.20 500.54" fill="none" stroke="#ef6f6f" stroke-width="0.9" stroke-linejoin="round"/>
<path d="M30.80 499.95 L31.23 499.93 L31.80 499.85 L32.49 500.06 L33.25 499.65 L34.05 499.59 L34.85 499.01 L35.61 499.04 L36.30 499.01 L36.94 498.59 L37.58 498.65 L38.20 498.41 L38.82 497.88 L39.42 497.39 L40.00 497.51 L40.56 496.71 L41.10 496.11 L41.61 495.91 L42.09 495.27 L42.54 494.49 L42.98 493.72 L43.41 492.34 L43.84 491.27 L44.26 490.22 L44.70 489.59 L45.15 487.78 L45.37 487.07 L45.59 486.26 L45.82 485.49 L46.04 484.69 L46.26 484.07 L46.49 483.14 L46.71 482.41 L46.93 481.96 L47.15 480.72 L47.36 480.32 L47.57 479.55 L47.79 478.72 L48.20 477.45 L48.60 476.39 L48.99 475.14 L49.36 473.84 L49.73 472.90 L50.10 471.97 L50.46 471.33 L50.83 471.13 L51.20 470.46 L51.57 470.14 L51.94 470.50 L52.30 471.01 L52.66 471.24 L53.03 471.95 L53.41 472.22 L53.80 472.87 L54.20 473.90 L54.62 474.24 L55.06 475.21 L55.51 476.15 L55.97 476.98 L56.43 477.86 L56.89 478.82 L57.35 480.35 L57.80 481.11 L58.23 482.16 L58.65 482.78 L59.06 483.94 L59.47 484.77 L59.90 485.51 L60.34 486.34 L60.80 487.22 L61.30 487.94 L61.85 488.96 L62.44 490.17 L63.06 490.88 L63.69 492.28 L64.33 493.04 L64.95 493.97 L65.55 494.83 L66.10 495.29 L66.60 495.36 L67.06 495.64 L67.49 495.58 L67.91 495.59 L68.32 496.07 L68.75 495.75 L69.21 495.86 L69.70 495.67 L70.23 495.29 L70.80 495.51 L71.38 495.27 L71.98 494.76 L72.58 494.32 L73.19 494.29 L73.80 494.10 L74.40 494.22 L75.00 494.15 L75.59 494.71 L76.19 495.11 L76.79 494.94 L77.40 495.60 L78.00 495.81 L78.60 496.08 L79.20 496.64 L79.81 496.64 L80.43 497.25 L81.06 497.14 L81.68 498.06 L82.30 497.94 L82.89 498.17 L83.46 498.99 L84.00 499.13 L84.51 499.30 L84.99 499.53 L85.45 499.45 L85.89 499.41 L86.32 499.62 L86.73 500.06 L87.12 500.10 L87.50 499.64 L87.84 499.74 L88.14 499.70 L88.41 499.90 L88.67 499.26 L88.94 499.61 L89.24 499.06 L89.58 498.97 L90.00 498.38 L90.49 497.91 L91.04 497.86 L91.63 497.03 L92.25 496.66 L92.89 495.91 L93.54 495.16 L94.18 494.08 L94.80 493.75 L95.40 493.37 L95.99 492.44 L96.58 491.53 L97.17 490.95 L97.78 490.81 L98.40 490.22 L99.03 489.23 L99.70 488.79 L100.40 488.59 L101.12 488.05 L101.87 487.48 L102.63 487.62 L103.39 487.10 L104.17 486.71 L104.94 486.32 L105.70 486.51 L106.45 486.61 L107.19 486.30 L107.93 486.33 L108.67 486.86 L109.43 487.17 L110.20 487.07 L110.98 487.39 L111.80 487.78 L112.65 488.06 L113.52 488.26 L114.42 488.84 L115.33 489.32 L116.24 489.84 L117.17 490.27 L118.09 490.88 L119.00 491.13 L119.89 491.77 L120.76 491.66 L121.62 492.20 L122.49 492.24 L123.38 492.02 L124.30 492.05 L125.27 492.41 L126.30 492.48 L127.40 492.66 L128.56 492.55 L129.77 492.92 L131.01 493.18 L132.26 493.13 L133.53 493.17 L134.78 493.75 L136.00 493.58 L137.20 494.24 L138.40 494.33 L139.60 494.21 L140.80 494.79 L142.00 494.93 L143.20 495.64 L144.40 495.74 L145.60 495.85 L146.79 496.69 L147.96 496.93 L149.12 497.15 L150.29 497.47 L151.48 497.50 L152.70 498.35 L153.97 498.23 L155.30 498.61 L156.00 498.70 L156.69 498.80 L157.42 498.62 L158.14 499.24 L158.89 499.09 L159.64 499.11 L160.40 499.47 L161.17 499.54 L161.94 499.52 L162.72 499.70 L163.50 499.43 L164.28 499.34 L165.07 499.54 L165.85 499.75 L166.62 499.92 L167.40 499.94 L168.79 499.98 L169.96 500.04 L171.05 500.15 L172.19 500.16 L173.52 499.87 L174.35 500.22 L175.18 500.08 L175.88 499.97 L176.59 500.31 L177.29 500.46 L178.19 500.14 L179.10 500.39 L180.00 500.38 L180.73 500.42 L181.46 500.54 L182.19 500.44 L182.91 500.08 L183.64 500.41 L184.41 500.26 L185.18 500.30 L185.94 500.46 L186.71 500.17 L187.47 500.45 L188.24 500.64 L188.98 500.13 L189.72 500.60 L190.47 500.51 L191.21 500.34 L191.95 500.56 L192.69 500.15 L193.44 500.20 L194.22 500.71 L194.99 500.49 L195.77 500.22 L196.55 500.20 L197.33 500.39 L198.11 500.46 L198.89 500.73 L199.65 500.25 L200.42 500.52 L201.18 500.40 L201.95 500.48 L202.71 500.71 L203.47 500.22 L204.24 500.65 L204.94 500.59 L205.64 500.32 L206.34 500.23 L207.04 500.61 L207.74 500.68 L208.44 500.38 L209.14 500.25 L209.96 500.51 L210.78 500.58 L211.60 500.40 L212.43 500.43 L213.25 500.25 L213.98 500.27 L214.72 500.33 L215.46 500.65 L216.20 500.27" fill="none" stroke="#3a78c8" stroke-width="1.0" stroke-linejoin="round"/>
<text transform="translate(83.70 383.30) scale(1.0377 1) translate(0.00 0)" font-size="8.551" fill="#222" stroke="#222" stroke-width="0.15">:PDI<tspan font-size="68%" dy="-3.1">2-</tspan><tspan dy="3.1" dx="0.5">/PDI</tspan><tspan font-size="68%" dy="-3.1">2-</tspan><tspan dy="3.1"> (self-assembly 84 h)</tspan></text>
<text transform="translate(129.40 428.90) scale(0.9186 1) translate(0.00 0)" font-size="8.696" fill="#e05a5a" stroke="#e05a5a" stroke-width="0.15">Solid</text>
<text transform="translate(91.80 506.50) scale(0.9615 1) translate(0.00 0)" font-size="8.696" fill="#3a74c4" stroke="#3a74c4" stroke-width="0.15">Soaked in water</text>
<path d="M262.90 494.60 L263.70 494.60 L264.50 494.60 L265.30 494.60 L266.10 494.60 L266.90 494.60 L267.70 494.60 L268.50 494.60 L269.30 494.60 L270.10 494.60 L270.90 494.60 L271.70 494.60 L272.50 494.60 L273.30 494.60 L274.10 494.60 L274.90 494.60 L275.70 494.60 L276.50 494.60 L277.30 494.60 L278.10 494.60 L278.90 494.60 L279.70 494.60 L280.50 494.60 L281.30 494.60 L282.10 494.60 L282.90 494.60 L283.70 494.60 L284.50 494.60 L285.30 494.60 L286.10 494.60 L286.90 494.60 L287.70 494.60 L288.50 494.60 L289.30 494.60 L290.10 494.60 L290.90 494.60 L291.70 494.60 L292.50 494.60 L293.30 494.60 L294.10 494.60 L294.90 494.60 L295.70 494.60 L296.50 494.60 L297.30 494.60 L298.10 494.60 L298.90 494.60 L299.70 494.60 L300.50 494.60 L301.30 494.60 L302.10 494.60 L302.90 494.60 L303.70 494.60 L304.50 494.60 L305.30 494.60 L306.10 494.60 L306.90 494.60 L307.70 494.60 L308.50 494.60 L309.30 494.60 L310.10 494.60 L310.90 494.60 L311.70 494.60 L312.50 494.60 L313.30 494.60 L314.10 494.60 L314.90 494.60 L315.70 494.60 L316.50 494.60 L317.30 494.60 L318.10 494.60 L318.90 494.60 L319.70 494.60 L320.50 494.60 L321.30 494.60 L322.10 494.60 L322.90 494.60 L323.70 494.60 L324.50 494.60 L325.30 494.60 L326.10 494.60 L326.90 494.60 L327.70 494.60 L328.50 494.60 L329.30 494.60 L330.10 494.60 L330.90 494.60 L331.70 494.60 L332.50 494.60 L333.30 494.60 L334.10 494.60 L334.90 494.60 L335.70 494.60 L336.50 494.60 L337.30 494.60 L338.10 494.60 L338.90 494.60 L339.70 494.60 L340.50 494.60 L341.30 494.60 L342.10 494.60 L342.90 494.60 L343.70 494.60 L344.50 494.60 L345.30 494.60 L346.10 494.60 L346.90 494.60 L347.70 494.60 L348.50 494.60 L349.30 494.60 L350.10 494.60 L350.90 494.60 L351.70 494.60 L352.50 494.60 L353.30 494.60 L354.10 494.60 L354.90 494.60 L355.70 494.60 L356.50 494.60 L357.30 494.60 L358.10 494.60 L358.90 494.60 L359.70 494.60 L360.50 494.60 L361.30 494.60 L362.10 494.60 L362.90 494.60 L363.70 494.60 L364.50 494.60 L365.30 494.60 L366.10 494.60 L366.90 494.60 L367.70 494.60 L368.50 494.60 L369.30 494.60 L370.10 494.60 L370.90 494.60 L371.70 494.60 L372.50 494.60 L373.30 494.60 L374.10 494.60 L374.90 494.60 L375.70 494.60 L376.50 494.60 L377.30 494.60 L378.10 494.60 L378.90 494.60 L379.70 494.60 L380.50 494.60 L381.30 494.60 L382.10 494.60 L382.90 494.60 L383.70 494.60 L384.50 494.60 L385.30 494.60 L386.10 494.60 L386.90 494.60 L387.70 494.60 L388.50 494.60 L389.30 494.60 L390.10 494.60 L390.90 494.60 L391.70 494.60 L392.50 494.60 L393.30 494.60 L394.10 494.60 L394.90 494.60 L395.70 494.60 L396.50 494.60 L397.30 494.60 L398.10 494.60 L398.90 494.60 L399.70 494.60 L400.50 494.60 L401.30 494.60 L402.10 494.60 L402.90 494.60 L403.70 494.60 L404.50 494.60 L405.30 494.60 L406.10 494.60 L406.90 494.60 L407.70 494.60 L408.50 494.60 L409.30 494.60 L410.10 494.60 L410.90 494.60 L411.70 494.60 L412.50 494.60 L413.30 494.60 L414.10 494.60 L414.90 494.60 L415.70 494.60 L416.50 494.60 L417.30 494.60 L418.10 494.60 L418.90 494.60 L419.70 494.60 L420.50 494.60 L421.30 494.60 L422.10 494.60 L422.90 494.60 L423.70 494.60 L424.50 494.60 L425.30 494.60 L426.10 494.60 L426.90 494.60 L427.70 494.60 L428.50 494.60 L429.30 494.60 L430.10 494.60 L430.90 494.60 L431.70 494.60 L432.50 494.60 L433.30 494.60 L434.10 494.60 L434.90 494.60 L435.70 494.60 L436.50 494.60 L437.30 494.60 L438.10 494.60 L438.90 494.60 L439.70 494.60 L440.50 494.60 L441.30 494.60 L442.10 494.60 L442.90 494.60 L443.70 494.60 L444.50 494.60 L445.30 494.60 L446.10 494.60 L446.90 494.60 L447.70 494.60 L448.50 494.60 L449.30 494.60 L450.10 494.60 L450.90 494.60 L451.70 494.60 L452.50 494.60 L453.30 494.60 L454.10 494.60 L454.90 494.60 L455.70 494.60 L456.50 494.60 L457.30 494.60 L458.10 494.60 L458.90 494.60 L459.70 494.60 L460.50 494.60 L461.30 494.60 L462.10 494.60 L462.90 494.60 L463.70 494.60 L464.50 494.60 L465.30 494.60 L466.10 494.60 L466.90 494.60 L467.70 494.60 L468.50 494.60 L469.30 494.60 L470.10 494.60 L470.90 494.60 L471.70 494.60 L472.50 494.60 L473.30 494.60 L474.10 494.60 L474.90 494.60 L475.70 494.60 L476.50 494.60 L477.30 494.60 L478.10 494.60 L478.90 494.60 L479.70 494.60 L480.50 494.60 L481.30 494.60 L482.10 494.60 L482.90 494.60 L483.70 494.60 L484.50 494.60 L485.30 494.60 L486.10 494.60 L486.90 494.60 L487.70 494.60 L488.50 494.60 L489.30 494.60 L490.10 494.60 L490.90 494.60 L491.70 494.60 L492.50 494.60 L493.30 494.60 L494.10 494.60 L494.90 494.60 L495.70 494.60 L496.50 494.60 L497.30 494.60 L498.10 494.46 L498.90 494.28 L499.70 494.20 L500.50 495.10 L501.30 494.69 L502.10 494.83 L502.90 494.66 L503.70 494.46 L504.50 494.87 L505.30 494.69 L506.10 494.93 L506.90 494.78 L507.70 495.00 L508.50 494.51 L509.30 494.17 L510.10 494.16 L510.90 494.85 L511.70 494.18 L512.50 494.76 L513.30 494.72 L514.10 494.04 L514.90 494.91 L515.70 494.00 L516.50 495.00 L517.30 494.96 L518.10 494.21 L518.90 494.82 L519.70 494.82 L520.50 494.09 L521.30 494.74 L522.10 494.08 L522.90 495.02 L523.70 494.75 L524.50 495.09 L525.30 493.97 L526.10 494.29 L526.90 494.64 L527.70 494.62 L528.50 494.11 L529.30 494.95 L530.10 494.89 L530.90 494.23 L531.70 494.04 L532.50 494.66 L533.30 494.34 L534.10 494.64 L534.90 494.43 L535.70 494.30 L536.50 493.85 L537.30 493.98 L538.10 494.36 L538.90 494.67 L539.70 494.30 L540.50 494.68 L541.30 494.42 L542.10 494.82 L542.90 494.54 L543.70 494.14 L544.50 493.91 L545.30 493.81 L546.10 493.77 L546.90 494.75 L547.70 494.75 L548.50 494.60 L549.30 493.82 L550.10 494.47 L550.90 493.82 L551.70 494.72 L552.50 494.43 L553.30 494.53 L554.10 494.35 L554.90 494.11 L555.70 494.62 L556.50 494.74 L557.30 493.87 L558.10 494.09 L558.90 494.44 L559.70 494.36 L560.50 494.02 L561.30 494.06 L562.10 494.67 L562.90 493.83 L563.70 493.74 L564.50 494.29 L565.30 493.79 L566.10 494.52 L566.90 493.82 L567.70 494.53 L568.50 493.86 L569.30 494.45 L570.10 494.28 L570.90 494.24 L571.70 493.61 L572.50 493.53 L573.30 493.36 L574.10 493.52 L574.90 494.09 L575.70 493.35 L576.50 493.55 L577.30 493.93 L578.10 493.42 L578.90 493.61 L579.70 493.47 L580.50 493.99 L581.30 493.31 L582.10 494.35 L582.90 493.85 L583.70 493.97 L584.50 493.77 L585.30 493.68 L586.10 494.23 L586.90 494.12 L587.70 494.02 L588.50 493.05 L589.30 493.71 L590.10 494.11 L590.90 493.73 L591.70 493.56 L592.50 493.71 L593.30 493.12 L594.10 493.77 L594.90 493.81 L595.70 492.94 L596.50 493.45 L597.30 493.53 L598.10 493.22 L598.90 493.60 L599.70 493.87 L600.50 493.87 L601.30 493.11 L602.10 492.89 L602.90 493.70 L603.70 493.37 L604.50 493.60 L605.30 493.61 L606.10 492.86 L606.90 493.19 L607.70 492.81 L608.50 493.37 L609.30 493.20 L610.10 492.62 L610.90 492.89 L611.70 492.96 L612.50 492.48 L613.30 492.38 L614.10 492.68 L614.90 492.15 L615.70 492.61 L616.50 493.10 L617.30 492.91 L618.10 491.93 L618.90 492.81 L619.70 492.62 L620.50 492.56 L621.30 491.68 L622.10 492.50 L622.90 491.77 L623.70 492.43 L624.50 491.79 L625.30 491.78 L626.10 491.48 L626.90 492.25 L627.70 491.40 L628.50 492.11 L629.30 491.60 L630.10 491.08 L630.90 491.61 L631.70 491.37 L632.50 490.68 L633.30 491.55 L634.10 490.79 L634.90 490.40 L635.70 491.19 L636.50 491.04 L637.30 490.52 L638.10 490.17 L638.90 490.47 L639.70 490.42 L640.50 490.42 L641.30 490.05 L642.10 490.02 L642.90 490.06 L643.70 489.29 L644.50 489.13 L645.30 489.34 L646.10 489.51 L646.90 489.41 L647.70 489.30 L648.50 488.63 L649.30 488.78 L650.10 487.87 L650.90 488.02 L651.70 487.43 L652.50 488.15 L653.30 488.14 L654.10 487.52 L654.90 487.40 L655.70 486.71 L656.50 486.97 L657.30 485.87 L658.10 485.96 L658.90 485.67 L659.70 486.01 L660.50 484.90 L661.30 484.59 L662.10 484.21 L662.90 484.80 L663.70 483.85 L664.50 484.23 L665.30 483.18 L666.10 483.46 L666.90 482.33 L667.70 482.81 L668.50 482.51 L669.30 482.00 L670.10 481.37 L670.90 481.20 L671.70 480.80 L672.50 480.42 L673.30 479.14 L674.10 479.36 L674.90 478.79 L675.70 477.78 L676.50 477.06 L677.30 477.42 L678.10 476.37 L678.90 475.89 L679.70 475.75 L680.50 474.69 L681.30 473.82 L682.10 473.73 L682.90 472.92" fill="none" stroke="#6ec6e4" stroke-width="0.8" stroke-linejoin="round"/>
<path d="M262.90 494.60 L263.70 494.60 L264.50 494.60 L265.30 494.60 L266.10 494.60 L266.90 494.60 L267.70 494.60 L268.50 494.60 L269.30 494.60 L270.10 494.60 L270.90 494.60 L271.70 494.60 L272.50 494.60 L273.30 494.60 L274.10 494.60 L274.90 494.60 L275.70 494.60 L276.50 494.60 L277.30 494.60 L278.10 494.60 L278.90 494.60 L279.70 494.60 L280.50 494.60 L281.30 494.60 L282.10 494.60 L282.90 494.60 L283.70 494.60 L284.50 494.60 L285.30 494.60 L286.10 494.60 L286.90 494.60 L287.70 494.60 L288.50 494.60 L289.30 494.60 L290.10 494.60 L290.90 494.60 L291.70 494.60 L292.50 494.60 L293.30 494.60 L294.10 494.60 L294.90 494.60 L295.70 494.60 L296.50 494.60 L297.30 494.60 L298.10 494.60 L298.90 494.60 L299.70 494.60 L300.50 494.60 L301.30 494.60 L302.10 494.60 L302.90 494.60 L303.70 494.60 L304.50 494.60 L305.30 494.60 L306.10 494.60 L306.90 494.60 L307.70 494.60 L308.50 494.60 L309.30 494.60 L310.10 494.60 L310.90 494.60 L311.70 494.60 L312.50 494.60 L313.30 494.60 L314.10 494.60 L314.90 494.60 L315.70 494.60 L316.50 494.60 L317.30 494.60 L318.10 494.60 L318.90 494.60 L319.70 494.60 L320.50 494.60 L321.30 494.60 L322.10 494.60 L322.90 494.60 L323.70 494.60 L324.50 494.60 L325.30 494.60 L326.10 494.60 L326.90 494.60 L327.70 494.60 L328.50 494.60 L329.30 494.60 L330.10 494.60 L330.90 494.60 L331.70 494.60 L332.50 494.60 L333.30 494.60 L334.10 494.60 L334.90 494.60 L335.70 494.60 L336.50 494.60 L337.30 494.60 L338.10 494.60 L338.90 494.60 L339.70 494.60 L340.50 494.60 L341.30 494.60 L342.10 494.60 L342.90 494.60 L343.70 494.60 L344.50 494.60 L345.30 494.60 L346.10 494.60 L346.90 494.60 L347.70 494.60 L348.50 494.60 L349.30 494.60 L350.10 494.60 L350.90 494.60 L351.70 494.60 L352.50 494.60 L353.30 494.60 L354.10 494.60 L354.90 494.60 L355.70 494.60 L356.50 494.60 L357.30 494.60 L358.10 494.60 L358.90 494.60 L359.70 494.60 L360.50 494.60 L361.30 494.60 L362.10 494.60 L362.90 494.60 L363.70 494.60 L364.50 494.60 L365.30 494.60 L366.10 494.60 L366.90 494.60 L367.70 494.60 L368.50 494.60 L369.30 494.60 L370.10 494.60 L370.90 494.60 L371.70 494.60 L372.50 494.60 L373.30 494.60 L374.10 494.60 L374.90 494.60 L375.70 494.60 L376.50 494.60 L377.30 494.60 L378.10 494.60 L378.90 494.60 L379.70 494.60 L380.50 494.60 L381.30 494.60 L382.10 494.60 L382.90 494.60 L383.70 494.60 L384.50 494.60 L385.30 494.60 L386.10 494.60 L386.90 494.60 L387.70 494.60 L388.50 494.60 L389.30 494.60 L390.10 494.60 L390.90 494.60 L391.70 494.60 L392.50 494.60 L393.30 494.60 L394.10 494.60 L394.90 494.60 L395.70 494.60 L396.50 494.60 L397.30 494.60 L398.10 494.60 L398.90 494.60 L399.70 494.60 L400.50 494.60 L401.30 494.60 L402.10 494.60 L402.90 494.60 L403.70 494.60 L404.50 494.60 L405.30 494.60 L406.10 494.60 L406.90 494.60 L407.70 494.60 L408.50 494.60 L409.30 494.60 L410.10 494.60 L410.90 494.60 L411.70 494.60 L412.50 494.60 L413.30 494.60 L414.10 494.60 L414.90 494.60 L415.70 494.60 L416.50 494.60 L417.30 494.60 L418.10 494.60 L418.90 494.60 L419.70 494.60 L420.50 494.60 L421.30 494.60 L422.10 494.60 L422.90 494.60 L423.70 494.60 L424.50 494.60 L425.30 494.60 L426.10 494.60 L426.90 494.60 L427.70 494.60 L428.50 494.60 L429.30 494.60 L430.10 494.60 L430.90 494.60 L431.70 494.60 L432.50 494.60 L433.30 494.60 L434.10 494.60 L434.90 494.60 L435.70 494.60 L436.50 494.60 L437.30 494.60 L438.10 494.60 L438.90 494.60 L439.70 494.60 L440.50 494.60 L441.30 494.60 L442.10 494.60 L442.90 494.60 L443.70 494.60 L444.50 494.60 L445.30 494.60 L446.10 494.60 L446.90 494.60 L447.70 494.60 L448.50 494.60 L449.30 494.60 L450.10 494.60 L450.90 494.60 L451.70 494.60 L452.50 494.60 L453.30 494.60 L454.10 494.60 L454.90 494.60 L455.70 494.60 L456.50 494.60 L457.30 494.60 L458.10 494.60 L458.90 494.60 L459.70 494.60 L460.50 494.60 L461.30 494.60 L462.10 494.60 L462.90 494.60 L463.70 494.60 L464.50 494.60 L465.30 494.60 L466.10 494.60 L466.90 494.60 L467.70 494.60 L468.50 494.60 L469.30 494.60 L470.10 494.60 L470.90 494.60 L471.70 494.60 L472.50 494.60 L473.30 494.60 L474.10 494.60 L474.90 494.60 L475.70 494.60 L476.50 494.60 L477.30 494.60 L478.10 494.60 L478.90 494.60 L479.70 494.60 L480.50 494.60 L481.30 494.60 L482.10 494.60 L482.90 494.60 L483.70 494.60 L484.50 494.60 L485.30 494.60 L486.10 494.60 L486.90 494.60 L487.70 494.60 L488.50 494.60 L489.30 494.60 L490.10 494.60 L490.90 494.60 L491.70 494.60 L492.50 494.60 L493.30 494.60 L494.10 494.60 L494.90 494.60 L495.70 494.60 L496.50 494.60 L497.30 494.60 L498.10 494.77 L498.90 494.03 L499.70 494.33 L500.50 494.27 L501.30 494.88 L502.10 494.81 L502.90 495.07 L503.70 494.10 L504.50 494.50 L505.30 494.03 L506.10 494.25 L506.90 494.60 L507.70 494.02 L508.50 494.23 L509.30 494.76 L510.10 494.64 L510.90 494.24 L511.70 494.68 L512.50 494.95 L513.30 493.98 L514.10 494.94 L514.90 494.80 L515.70 494.37 L516.50 494.15 L517.30 495.10 L518.10 494.36 L518.90 494.06 L519.70 494.06 L520.50 494.96 L521.30 494.66 L522.10 494.90 L522.90 494.80 L523.70 494.56 L524.50 495.08 L525.30 494.36 L526.10 494.57 L526.90 494.90 L527.70 494.64 L528.50 494.92 L529.30 494.58 L530.10 494.72 L530.90 493.93 L531.70 494.14 L532.50 494.20 L533.30 493.95 L534.10 494.12 L534.90 493.96 L535.70 494.16 L536.50 494.58 L537.30 494.25 L538.10 494.25 L538.90 494.05 L539.70 494.11 L540.50 494.91 L541.30 494.55 L542.10 494.50 L542.90 493.96 L543.70 494.62 L544.50 493.94 L545.30 494.19 L546.10 494.91 L546.90 494.48 L547.70 494.37 L548.50 494.52 L549.30 494.70 L550.10 494.61 L550.90 493.94 L551.70 493.69 L552.50 494.02 L553.30 493.95 L554.10 493.88 L554.90 494.74 L555.70 494.65 L556.50 493.97 L557.30 494.36 L558.10 494.04 L558.90 494.65 L559.70 494.09 L560.50 493.85 L561.30 493.82 L562.10 494.18 L562.90 493.81 L563.70 494.18 L564.50 494.55 L565.30 493.94 L566.10 493.71 L566.90 494.63 L567.70 494.03 L568.50 493.51 L569.30 493.45 L570.10 493.51 L570.90 494.12 L571.70 494.30 L572.50 493.84 L573.30 493.40 L574.10 493.76 L574.90 494.49 L575.70 493.91 L576.50 494.43 L577.30 494.28 L578.10 493.24 L578.90 494.08 L579.70 494.02 L580.50 493.83 L581.30 493.49 L582.10 493.92 L582.90 493.27 L583.70 493.64 L584.50 493.65 L585.30 494.23 L586.10 494.12 L586.90 493.37 L587.70 493.64 L588.50 493.23 L589.30 494.09 L590.10 494.03 L590.90 493.32 L591.70 493.71 L592.50 493.66 L593.30 493.09 L594.10 493.81 L594.90 493.52 L595.70 493.79 L596.50 493.47 L597.30 492.82 L598.10 493.19 L598.90 492.80 L599.70 493.87 L600.50 493.83 L601.30 493.74 L602.10 493.08 L602.90 492.75 L603.70 493.70 L604.50 493.75 L605.30 492.68 L606.10 493.13 L606.90 492.60 L607.70 493.39 L608.50 493.37 L609.30 492.57 L610.10 492.95 L610.90 493.01 L611.70 492.63 L612.50 493.33 L613.30 492.75 L614.10 492.47 L614.90 492.82 L615.70 493.02 L616.50 492.35 L617.30 492.44 L618.10 493.23 L618.90 492.78 L619.70 492.48 L620.50 492.54 L621.30 492.02 L622.10 492.11 L622.90 492.20 L623.70 492.46 L624.50 491.98 L625.30 491.93 L626.10 491.70 L626.90 492.33 L627.70 491.79 L628.50 492.55 L629.30 492.45 L630.10 491.44 L630.90 491.59 L631.70 492.04 L632.50 491.44 L633.30 491.28 L634.10 492.17 L634.90 491.67 L635.70 491.48 L636.50 491.78 L637.30 491.73 L638.10 490.91 L638.90 490.71 L639.70 491.03 L640.50 490.93 L641.30 490.88 L642.10 491.10 L642.90 490.93 L643.70 491.20 L644.50 490.03 L645.30 490.28 L646.10 490.08 L646.90 490.58 L647.70 489.72 L648.50 489.51 L649.30 489.68 L650.10 489.51 L650.90 489.18 L651.70 488.99 L652.50 489.64 L653.30 488.89 L654.10 489.22 L654.90 488.67 L655.70 487.88 L656.50 488.82 L657.30 488.42 L658.10 488.37 L658.90 488.10 L659.70 487.78 L660.50 486.73 L661.30 486.87 L662.10 486.29 L662.90 486.26 L663.70 485.58 L664.50 485.69 L665.30 486.13 L666.10 484.97 L666.90 485.28 L667.70 484.57 L668.50 484.21 L669.30 484.51 L670.10 484.21 L670.90 483.32 L671.70 483.14 L672.50 482.08 L673.30 481.86 L674.10 482.26 L674.90 481.37 L675.70 480.89 L676.50 480.69 L677.30 479.41 L678.10 479.57 L678.90 478.98 L679.70 478.90 L680.50 477.55 L681.30 477.99 L682.10 476.39 L682.90 475.95" fill="none" stroke="#f7bd2e" stroke-width="0.8" stroke-linejoin="round"/>
<path d="M262.90 494.60 L263.70 494.60 L264.50 494.60 L265.30 494.60 L266.10 494.60 L266.90 494.60 L267.70 494.60 L268.50 494.60 L269.30 494.60 L270.10 494.60 L270.90 494.60 L271.70 494.60 L272.50 494.60 L273.30 494.60 L274.10 494.60 L274.90 494.60 L275.70 494.60 L276.50 494.60 L277.30 494.60 L278.10 494.60 L278.90 494.60 L279.70 494.60 L280.50 494.60 L281.30 494.60 L282.10 494.60 L282.90 494.60 L283.70 494.60 L284.50 494.60 L285.30 494.60 L286.10 494.60 L286.90 494.60 L287.70 494.60 L288.50 494.60 L289.30 494.60 L290.10 494.60 L290.90 494.60 L291.70 494.60 L292.50 494.60 L293.30 494.60 L294.10 494.60 L294.90 494.60 L295.70 494.60 L296.50 494.60 L297.30 494.60 L298.10 494.60 L298.90 494.60 L299.70 494.60 L300.50 494.60 L301.30 494.60 L302.10 494.60 L302.90 494.60 L303.70 494.60 L304.50 494.60 L305.30 494.60 L306.10 494.60 L306.90 494.60 L307.70 494.60 L308.50 494.60 L309.30 494.60 L310.10 494.60 L310.90 494.60 L311.70 494.60 L312.50 494.60 L313.30 494.60 L314.10 494.60 L314.90 494.60 L315.70 494.60 L316.50 494.60 L317.30 494.60 L318.10 494.60 L318.90 494.60 L319.70 494.60 L320.50 494.60 L321.30 494.60 L322.10 494.60 L322.90 494.60 L323.70 494.60 L324.50 494.60 L325.30 494.60 L326.10 494.60 L326.90 494.60 L327.70 494.60 L328.50 494.60 L329.30 494.60 L330.10 494.60 L330.90 494.60 L331.70 494.60 L332.50 494.60 L333.30 494.60 L334.10 494.60 L334.90 494.60 L335.70 494.60 L336.50 494.60 L337.30 494.60 L338.10 494.60 L338.90 494.60 L339.70 494.60 L340.50 494.60 L341.30 494.60 L342.10 494.60 L342.90 494.60 L343.70 494.60 L344.50 494.60 L345.30 494.60 L346.10 494.60 L346.90 494.60 L347.70 494.60 L348.50 494.60 L349.30 494.60 L350.10 494.60 L350.90 494.60 L351.70 494.60 L352.50 494.60 L353.30 494.60 L354.10 494.60 L354.90 494.60 L355.70 494.60 L356.50 494.60 L357.30 494.60 L358.10 494.60 L358.90 494.60 L359.70 494.60 L360.50 494.60 L361.30 494.60 L362.10 494.60 L362.90 494.60 L363.70 494.60 L364.50 494.60 L365.30 494.60 L366.10 494.60 L366.90 494.60 L367.70 494.60 L368.50 494.60 L369.30 494.60 L370.10 494.60 L370.90 494.60 L371.70 494.60 L372.50 494.60 L373.30 494.60 L374.10 494.60 L374.90 494.60 L375.70 494.60 L376.50 494.60 L377.30 494.60 L378.10 494.60 L378.90 494.60 L379.70 494.60 L380.50 494.60 L381.30 494.60 L382.10 494.60 L382.90 494.60 L383.70 494.60 L384.50 494.60 L385.30 494.60 L386.10 494.60 L386.90 494.60 L387.70 494.60 L388.50 494.60 L389.30 494.60 L390.10 494.60 L390.90 494.60 L391.70 494.60 L392.50 494.60 L393.30 494.60 L394.10 494.60 L394.90 494.60 L395.70 494.60 L396.50 494.60 L397.30 494.60 L398.10 494.60 L398.90 494.60 L399.70 494.60 L400.50 494.60 L401.30 494.60 L402.10 494.60 L402.90 494.60 L403.70 494.60 L404.50 494.60 L405.30 494.60 L406.10 494.60 L406.90 494.60 L407.70 494.60 L408.50 494.60 L409.30 494.60 L410.10 494.60 L410.90 494.60 L411.70 494.60 L412.50 494.60 L413.30 494.60 L414.10 494.60 L414.90 494.60 L415.70 494.60 L416.50 494.60 L417.30 494.60 L418.10 494.60 L418.90 494.60 L419.70 494.60 L420.50 494.60 L421.30 494.60 L422.10 494.60 L422.90 494.60 L423.70 494.60 L424.50 494.60 L425.30 494.60 L426.10 494.60 L426.90 494.60 L427.70 494.60 L428.50 494.60 L429.30 494.60 L430.10 494.60 L430.90 494.60 L431.70 494.60 L432.50 494.60 L433.30 494.60 L434.10 494.60 L434.90 494.60 L435.70 494.60 L436.50 494.60 L437.30 494.60 L438.10 494.60 L438.90 494.60 L439.70 494.60 L440.50 494.60 L441.30 494.60 L442.10 494.60 L442.90 494.60 L443.70 494.60 L444.50 494.60 L445.30 494.60 L446.10 494.60 L446.90 494.60 L447.70 494.60 L448.50 494.60 L449.30 494.60 L450.10 494.60 L450.90 494.60 L451.70 494.60 L452.50 494.60 L453.30 494.60 L454.10 494.60 L454.90 494.60 L455.70 494.60 L456.50 494.60 L457.30 494.60 L458.10 494.60 L458.90 494.60 L459.70 494.60 L460.50 494.60 L461.30 494.60 L462.10 494.60 L462.90 494.60 L463.70 494.60 L464.50 494.60 L465.30 494.60 L466.10 494.60 L466.90 494.60 L467.70 494.60 L468.50 494.60 L469.30 494.60 L470.10 494.60 L470.90 494.60 L471.70 494.60 L472.50 494.60 L473.30 494.60 L474.10 494.60 L474.90 494.60 L475.70 494.60 L476.50 494.60 L477.30 494.60 L478.10 494.60 L478.90 494.60 L479.70 494.60 L480.50 494.60 L481.30 494.60 L482.10 494.60 L482.90 494.60 L483.70 494.60 L484.50 494.60 L485.30 494.60 L486.10 494.60 L486.90 494.60 L487.70 494.60 L488.50 494.60 L489.30 494.60 L490.10 494.60 L490.90 494.60 L491.70 494.60 L492.50 494.60 L493.30 494.60 L494.10 494.60 L494.90 494.60 L495.70 494.60 L496.50 494.60 L497.30 494.60 L498.10 494.05 L498.90 494.84 L499.70 494.17 L500.50 494.55 L501.30 494.80 L502.10 494.95 L502.90 494.54 L503.70 494.59 L504.50 494.02 L505.30 494.51 L506.10 494.44 L506.90 495.01 L507.70 494.65 L508.50 494.89 L509.30 494.51 L510.10 494.19 L510.90 495.00 L511.70 494.96 L512.50 494.43 L513.30 494.09 L514.10 494.58 L514.90 494.56 L515.70 494.89 L516.50 494.68 L517.30 494.56 L518.10 494.64 L518.90 494.40 L519.70 494.00 L520.50 494.01 L521.30 495.07 L522.10 494.94 L522.90 494.28 L523.70 494.99 L524.50 494.54 L525.30 494.03 L526.10 494.93 L526.90 494.60 L527.70 495.01 L528.50 494.70 L529.30 494.00 L530.10 494.62 L530.90 494.81 L531.70 494.94 L532.50 494.25 L533.30 494.49 L534.10 494.69 L534.90 494.04 L535.70 494.85 L536.50 494.76 L537.30 493.87 L538.10 494.52 L538.90 494.24 L539.70 494.01 L540.50 494.51 L541.30 494.94 L542.10 494.43 L542.90 493.89 L543.70 494.34 L544.50 494.68 L545.30 494.88 L546.10 494.58 L546.90 493.76 L547.70 494.86 L548.50 494.42 L549.30 493.78 L550.10 493.83 L550.90 493.77 L551.70 494.45 L552.50 493.83 L553.30 494.60 L554.10 493.75 L554.90 494.25 L555.70 494.13 L556.50 493.63 L557.30 493.58 L558.10 494.65 L558.90 494.73 L559.70 493.69 L560.50 494.41 L561.30 494.71 L562.10 494.59 L562.90 494.56 L563.70 493.89 L564.50 494.33 L565.30 494.05 L566.10 494.57 L566.90 494.27 L567.70 494.43 L568.50 494.43 L569.30 493.85 L570.10 494.23 L570.90 493.47 L571.70 493.60 L572.50 494.46 L573.30 493.81 L574.10 494.13 L574.90 493.98 L575.70 493.59 L576.50 493.96 L577.30 494.34 L578.10 493.62 L578.90 493.63 L579.70 493.42 L580.50 493.40 L581.30 494.16 L582.10 494.00 L582.90 494.29 L583.70 493.92 L584.50 494.25 L585.30 493.35 L586.10 493.29 L586.90 493.31 L587.70 493.50 L588.50 494.20 L589.30 493.27 L590.10 493.53 L590.90 493.04 L591.70 492.98 L592.50 493.58 L593.30 493.65 L594.10 493.50 L594.90 493.97 L595.70 493.89 L596.50 493.98 L597.30 493.51 L598.10 493.11 L598.90 492.93 L599.70 493.68 L600.50 492.96 L601.30 492.75 L602.10 493.55 L602.90 492.83 L603.70 493.39 L604.50 492.85 L605.30 493.09 L606.10 492.57 L606.90 492.97 L607.70 492.88 L608.50 492.76 L609.30 492.58 L610.10 493.08 L610.90 493.18 L611.70 492.56 L612.50 492.34 L613.30 492.58 L614.10 493.06 L614.90 492.51 L615.70 492.93 L616.50 492.21 L617.30 492.93 L618.10 492.22 L618.90 492.28 L619.70 492.85 L620.50 492.51 L621.30 492.67 L622.10 492.20 L622.90 492.62 L623.70 492.14 L624.50 492.31 L625.30 492.22 L626.10 492.74 L626.90 492.50 L627.70 492.21 L628.50 492.52 L629.30 492.18 L630.10 492.27 L630.90 491.96 L631.70 491.98 L632.50 491.48 L633.30 492.28 L634.10 491.87 L634.90 492.02 L635.70 491.69 L636.50 490.92 L637.30 490.95 L638.10 491.80 L638.90 491.50 L639.70 491.66 L640.50 491.56 L641.30 490.67 L642.10 491.48 L642.90 490.94 L643.70 490.98 L644.50 490.61 L645.30 490.19 L646.10 490.35 L646.90 490.20 L647.70 489.87 L648.50 489.80 L649.30 489.78 L650.10 489.43 L650.90 489.13 L651.70 489.77 L652.50 489.08 L653.30 488.92 L654.10 489.25 L654.90 488.97 L655.70 488.49 L656.50 488.13 L657.30 488.51 L658.10 487.64 L658.90 487.69 L659.70 487.37 L660.50 487.88 L661.30 486.74 L662.10 486.92 L662.90 486.58 L663.70 485.74 L664.50 485.63 L665.30 486.19 L666.10 485.78 L666.90 484.79 L667.70 484.44 L668.50 485.03 L669.30 484.27 L670.10 484.08 L670.90 483.96 L671.70 482.81 L672.50 482.72 L673.30 482.83 L674.10 481.55 L674.90 481.22 L675.70 481.55 L676.50 481.06 L677.30 480.21 L678.10 479.29 L678.90 479.65 L679.70 478.52 L680.50 478.55 L681.30 477.43 L682.10 476.77 L682.90 476.86" fill="none" stroke="#b89a50" stroke-width="0.8" stroke-linejoin="round"/>
<path d="M262.90 494.60 L263.70 494.60 L264.50 494.60 L265.30 494.60 L266.10 494.60 L266.90 494.60 L267.70 494.60 L268.50 494.60 L269.30 494.60 L270.10 494.60 L270.90 494.60 L271.70 494.60 L272.50 494.60 L273.30 494.60 L274.10 494.60 L274.90 494.60 L275.70 494.60 L276.50 494.60 L277.30 494.60 L278.10 494.60 L278.90 494.60 L279.70 494.60 L280.50 494.60 L281.30 494.60 L282.10 494.60 L282.90 494.60 L283.70 494.60 L284.50 494.60 L285.30 494.60 L286.10 494.60 L286.90 494.60 L287.70 494.60 L288.50 494.60 L289.30 494.60 L290.10 494.60 L290.90 494.60 L291.70 494.60 L292.50 494.60 L293.30 494.60 L294.10 494.60 L294.90 494.60 L295.70 494.60 L296.50 494.60 L297.30 494.60 L298.10 494.60 L298.90 494.60 L299.70 494.60 L300.50 494.60 L301.30 494.60 L302.10 494.60 L302.90 494.60 L303.70 494.60 L304.50 494.60 L305.30 494.60 L306.10 494.60 L306.90 494.60 L307.70 494.60 L308.50 494.60 L309.30 494.60 L310.10 494.60 L310.90 494.60 L311.70 494.60 L312.50 494.60 L313.30 494.60 L314.10 494.60 L314.90 494.60 L315.70 494.60 L316.50 494.60 L317.30 494.60 L318.10 494.60 L318.90 494.60 L319.70 494.60 L320.50 494.60 L321.30 494.60 L322.10 494.60 L322.90 494.60 L323.70 494.60 L324.50 494.60 L325.30 494.60 L326.10 494.60 L326.90 494.60 L327.70 494.60 L328.50 494.60 L329.30 494.60 L330.10 494.60 L330.90 494.60 L331.70 494.60 L332.50 494.60 L333.30 494.60 L334.10 494.60 L334.90 494.60 L335.70 494.60 L336.50 494.60 L337.30 494.60 L338.10 494.60 L338.90 494.60 L339.70 494.60 L340.50 494.60 L341.30 494.60 L342.10 494.60 L342.90 494.60 L343.70 494.60 L344.50 494.60 L345.30 494.60 L346.10 494.60 L346.90 494.60 L347.70 494.60 L348.50 494.60 L349.30 494.60 L350.10 494.60 L350.90 494.60 L351.70 494.60 L352.50 494.60 L353.30 494.60 L354.10 494.60 L354.90 494.60 L355.70 494.60 L356.50 494.60 L357.30 494.60 L358.10 494.60 L358.90 494.60 L359.70 494.60 L360.50 494.60 L361.30 494.60 L362.10 494.60 L362.90 494.60 L363.70 494.60 L364.50 494.60 L365.30 494.60 L366.10 494.60 L366.90 494.60 L367.70 494.60 L368.50 494.60 L369.30 494.60 L370.10 494.60 L370.90 494.60 L371.70 494.60 L372.50 494.60 L373.30 494.60 L374.10 494.60 L374.90 494.60 L375.70 494.60 L376.50 494.60 L377.30 494.60 L378.10 494.60 L378.90 494.60 L379.70 494.60 L380.50 494.60 L381.30 494.60 L382.10 494.60 L382.90 494.60 L383.70 494.60 L384.50 494.60 L385.30 494.60 L386.10 494.60 L386.90 494.60 L387.70 494.60 L388.50 494.60 L389.30 494.60 L390.10 494.60 L390.90 494.60 L391.70 494.60 L392.50 494.60 L393.30 494.60 L394.10 494.60 L394.90 494.60 L395.70 494.60 L396.50 494.60 L397.30 494.60 L398.10 494.60 L398.90 494.60 L399.70 494.60 L400.50 494.60 L401.30 494.60 L402.10 494.60 L402.90 494.60 L403.70 494.60 L404.50 494.60 L405.30 494.60 L406.10 494.60 L406.90 494.60 L407.70 494.60 L408.50 494.60 L409.30 494.60 L410.10 494.60 L410.90 494.60 L411.70 494.60 L412.50 494.60 L413.30 494.60 L414.10 494.60 L414.90 494.60 L415.70 494.60 L416.50 494.60 L417.30 494.60 L418.10 494.60 L418.90 494.60 L419.70 494.60 L420.50 494.60 L421.30 494.60 L422.10 494.60 L422.90 494.60 L423.70 494.60 L424.50 494.60 L425.30 494.60 L426.10 494.60 L426.90 494.60 L427.70 494.60 L428.50 494.60 L429.30 494.60 L430.10 494.60 L430.90 494.60 L431.70 494.60 L432.50 494.60 L433.30 494.60 L434.10 494.60 L434.90 494.60 L435.70 494.60 L436.50 494.60 L437.30 494.60 L438.10 494.60 L438.90 494.60 L439.70 494.60 L440.50 494.60 L441.30 494.60 L442.10 494.60 L442.90 494.60 L443.70 494.60 L444.50 494.60 L445.30 494.60 L446.10 494.60 L446.90 494.60 L447.70 494.60 L448.50 494.60 L449.30 494.60 L450.10 494.60 L450.90 494.60 L451.70 494.60 L452.50 494.60 L453.30 494.60 L454.10 494.60 L454.90 494.60 L455.70 494.60 L456.50 494.60 L457.30 494.60 L458.10 494.60 L458.90 494.60 L459.70 494.60 L460.50 494.60 L461.30 494.60 L462.10 494.60 L462.90 494.60 L463.70 494.60 L464.50 494.60 L465.30 494.60 L466.10 494.60 L466.90 494.60 L467.70 494.60 L468.50 494.60 L469.30 494.60 L470.10 494.60 L470.90 494.60 L471.70 494.60 L472.50 494.60 L473.30 494.60 L474.10 494.60 L474.90 494.60 L475.70 494.60 L476.50 494.60 L477.30 494.60 L478.10 494.60 L478.90 494.60 L479.70 494.60 L480.50 494.60 L481.30 494.60 L482.10 494.60 L482.90 494.60 L483.70 494.60 L484.50 494.60 L485.30 494.60 L486.10 494.60 L486.90 494.60 L487.70 494.60 L488.50 494.60 L489.30 494.60 L490.10 494.60 L490.90 494.60 L491.70 494.60 L492.50 494.60 L493.30 494.60 L494.10 494.60 L494.90 494.60 L495.70 494.60 L496.50 494.60 L497.30 494.60 L498.10 494.45 L498.90 494.67 L499.70 495.18 L500.50 494.08 L501.30 494.16 L502.10 493.84 L502.90 493.98 L503.70 493.81 L504.50 494.05 L505.30 494.62 L506.10 495.38 L506.90 494.90 L507.70 494.39 L508.50 494.43 L509.30 494.89 L510.10 494.30 L510.90 493.90 L511.70 495.12 L512.50 494.76 L513.30 493.95 L514.10 493.88 L514.90 493.92 L515.70 495.30 L516.50 493.93 L517.30 494.76 L518.10 495.30 L518.90 493.80 L519.70 494.36 L520.50 494.50 L521.30 495.20 L522.10 494.03 L522.90 494.14 L523.70 494.12 L524.50 493.79 L525.30 494.79 L526.10 495.01 L526.90 494.40 L527.70 493.75 L528.50 494.83 L529.30 494.86 L530.10 494.72 L530.90 494.20 L531.70 494.99 L532.50 494.67 L533.30 494.59 L534.10 494.51 L534.90 494.01 L535.70 494.36 L536.50 494.89 L537.30 494.71 L538.10 494.16 L538.90 494.91 L539.70 494.93 L540.50 493.65 L541.30 493.83 L542.10 493.92 L542.90 493.58 L543.70 494.75 L544.50 494.58 L545.30 494.40 L546.10 495.11 L546.90 494.08 L547.70 493.82 L548.50 493.67 L549.30 494.03 L550.10 494.82 L550.90 494.43 L551.70 493.55 L552.50 494.14 L553.30 493.51 L554.10 494.42 L554.90 493.61 L555.70 493.69 L556.50 494.42 L557.30 494.71 L558.10 494.36 L558.90 493.82 L559.70 494.38 L560.50 493.77 L561.30 493.33 L562.10 493.75 L562.90 494.40 L563.70 494.28 L564.50 493.58 L565.30 494.60 L566.10 494.57 L566.90 493.68 L567.70 494.75 L568.50 493.62 L569.30 493.29 L570.10 494.00 L570.90 494.55 L571.70 494.11 L572.50 494.01 L573.30 493.90 L574.10 493.56 L574.90 493.57 L575.70 493.72 L576.50 493.94 L577.30 494.55 L578.10 493.15 L578.90 493.42 L579.70 494.51 L580.50 494.03 L581.30 493.09 L582.10 493.66 L582.90 493.98 L583.70 494.38 L584.50 493.04 L585.30 494.33 L586.10 494.10 L586.90 493.30 L587.70 493.69 L588.50 494.14 L589.30 493.19 L590.10 493.90 L590.90 493.66 L591.70 492.86 L592.50 493.16 L593.30 493.37 L594.10 492.92 L594.90 494.18 L595.70 493.05 L596.50 493.01 L597.30 493.57 L598.10 493.44 L598.90 493.09 L599.70 493.08 L600.50 493.37 L601.30 494.00 L602.10 492.64 L602.90 493.94 L603.70 493.95 L604.50 493.52 L605.30 493.68 L606.10 492.98 L606.90 493.88 L607.70 493.50 L608.50 493.39 L609.30 492.98 L610.10 492.59 L610.90 493.32 L611.70 493.37 L612.50 492.18 L613.30 492.65 L614.10 492.98 L614.90 492.44 L615.70 492.29 L616.50 492.36 L617.30 492.07 L618.10 492.21 L618.90 492.63 L619.70 492.78 L620.50 492.98 L621.30 492.43 L622.10 492.12 L622.90 493.37 L623.70 492.89 L624.50 492.94 L625.30 492.93 L626.10 492.32 L626.90 492.73 L627.70 492.27 L628.50 492.78 L629.30 493.01 L630.10 491.70 L630.90 492.92 L631.70 491.81 L632.50 491.61 L633.30 491.67 L634.10 492.42 L634.90 492.85 L635.70 492.92 L636.50 491.65 L637.30 492.04 L638.10 492.82 L638.90 492.68 L639.70 492.53 L640.50 491.56 L641.30 491.54 L642.10 491.28 L642.90 491.40 L643.70 491.56 L644.50 492.12 L645.30 491.83 L646.10 490.97 L646.90 490.90 L647.70 491.25 L648.50 491.86 L649.30 491.10 L650.10 491.50 L650.90 491.24 L651.70 491.43 L652.50 490.71 L653.30 490.40 L654.10 490.40 L654.90 490.82 L655.70 489.84 L656.50 489.56 L657.30 490.44 L658.10 489.71 L658.90 489.81 L659.70 488.89 L660.50 488.50 L661.30 488.60 L662.10 488.74 L662.90 487.90 L663.70 488.07 L664.50 488.93 L665.30 487.89 L666.10 486.96 L666.90 487.99 L667.70 486.94 L668.50 486.47 L669.30 486.94 L670.10 486.69 L670.90 485.85 L671.70 486.17 L672.50 486.11 L673.30 484.93 L674.10 484.84 L674.90 483.70 L675.70 484.28 L676.50 483.42 L677.30 483.61 L678.10 483.38 L678.90 482.30 L679.70 482.39 L680.50 482.39 L681.30 480.70 L682.10 481.23 L682.90 480.24" fill="none" stroke="#ee7070" stroke-width="0.8" stroke-linejoin="round"/>
<line x1="262.90" y1="494.70" x2="498.00" y2="494.70" stroke="#f1a0a0" stroke-width="1.3"/>
<line x1="272.20" y1="385.70" x2="288.60" y2="385.70" stroke="#9ad4e8" stroke-width="1.1"/>
<text transform="translate(292.70 389.00) scale(0.9194 1) translate(0.00 0)" font-size="8.696" fill="#222" stroke="#222" stroke-width="0.15">72 h</text>
<line x1="272.20" y1="398.37" x2="288.60" y2="398.37" stroke="#f8c040" stroke-width="1.1"/>
<text transform="translate(292.70 401.67) scale(0.9194 1) translate(0.00 0)" font-size="8.696" fill="#222" stroke="#222" stroke-width="0.15">84 h</text>
<line x1="272.20" y1="411.04" x2="288.60" y2="411.04" stroke="#c8aa60" stroke-width="1.1"/>
<text transform="translate(292.70 414.34) scale(0.9194 1) translate(0.00 0)" font-size="8.696" fill="#222" stroke="#222" stroke-width="0.15">96 h</text>
<line x1="272.20" y1="423.71" x2="288.60" y2="423.71" stroke="#ee7070" stroke-width="1.1"/>
<text transform="translate(292.70 427.01) scale(0.9175 1) translate(0.00 0)" font-size="8.696" fill="#222" stroke="#222" stroke-width="0.15">120 h</text>
<text transform="translate(337.00 390.90) scale(0.9725 1) translate(0.00 0)" font-size="8.696" fill="#222" stroke="#222" stroke-width="0.15">λ<tspan font-size="60%" dy="1.8">ex</tspan><tspan dy="-1.8">=980 nm</tspan></text>
</svg>
</body></html>
